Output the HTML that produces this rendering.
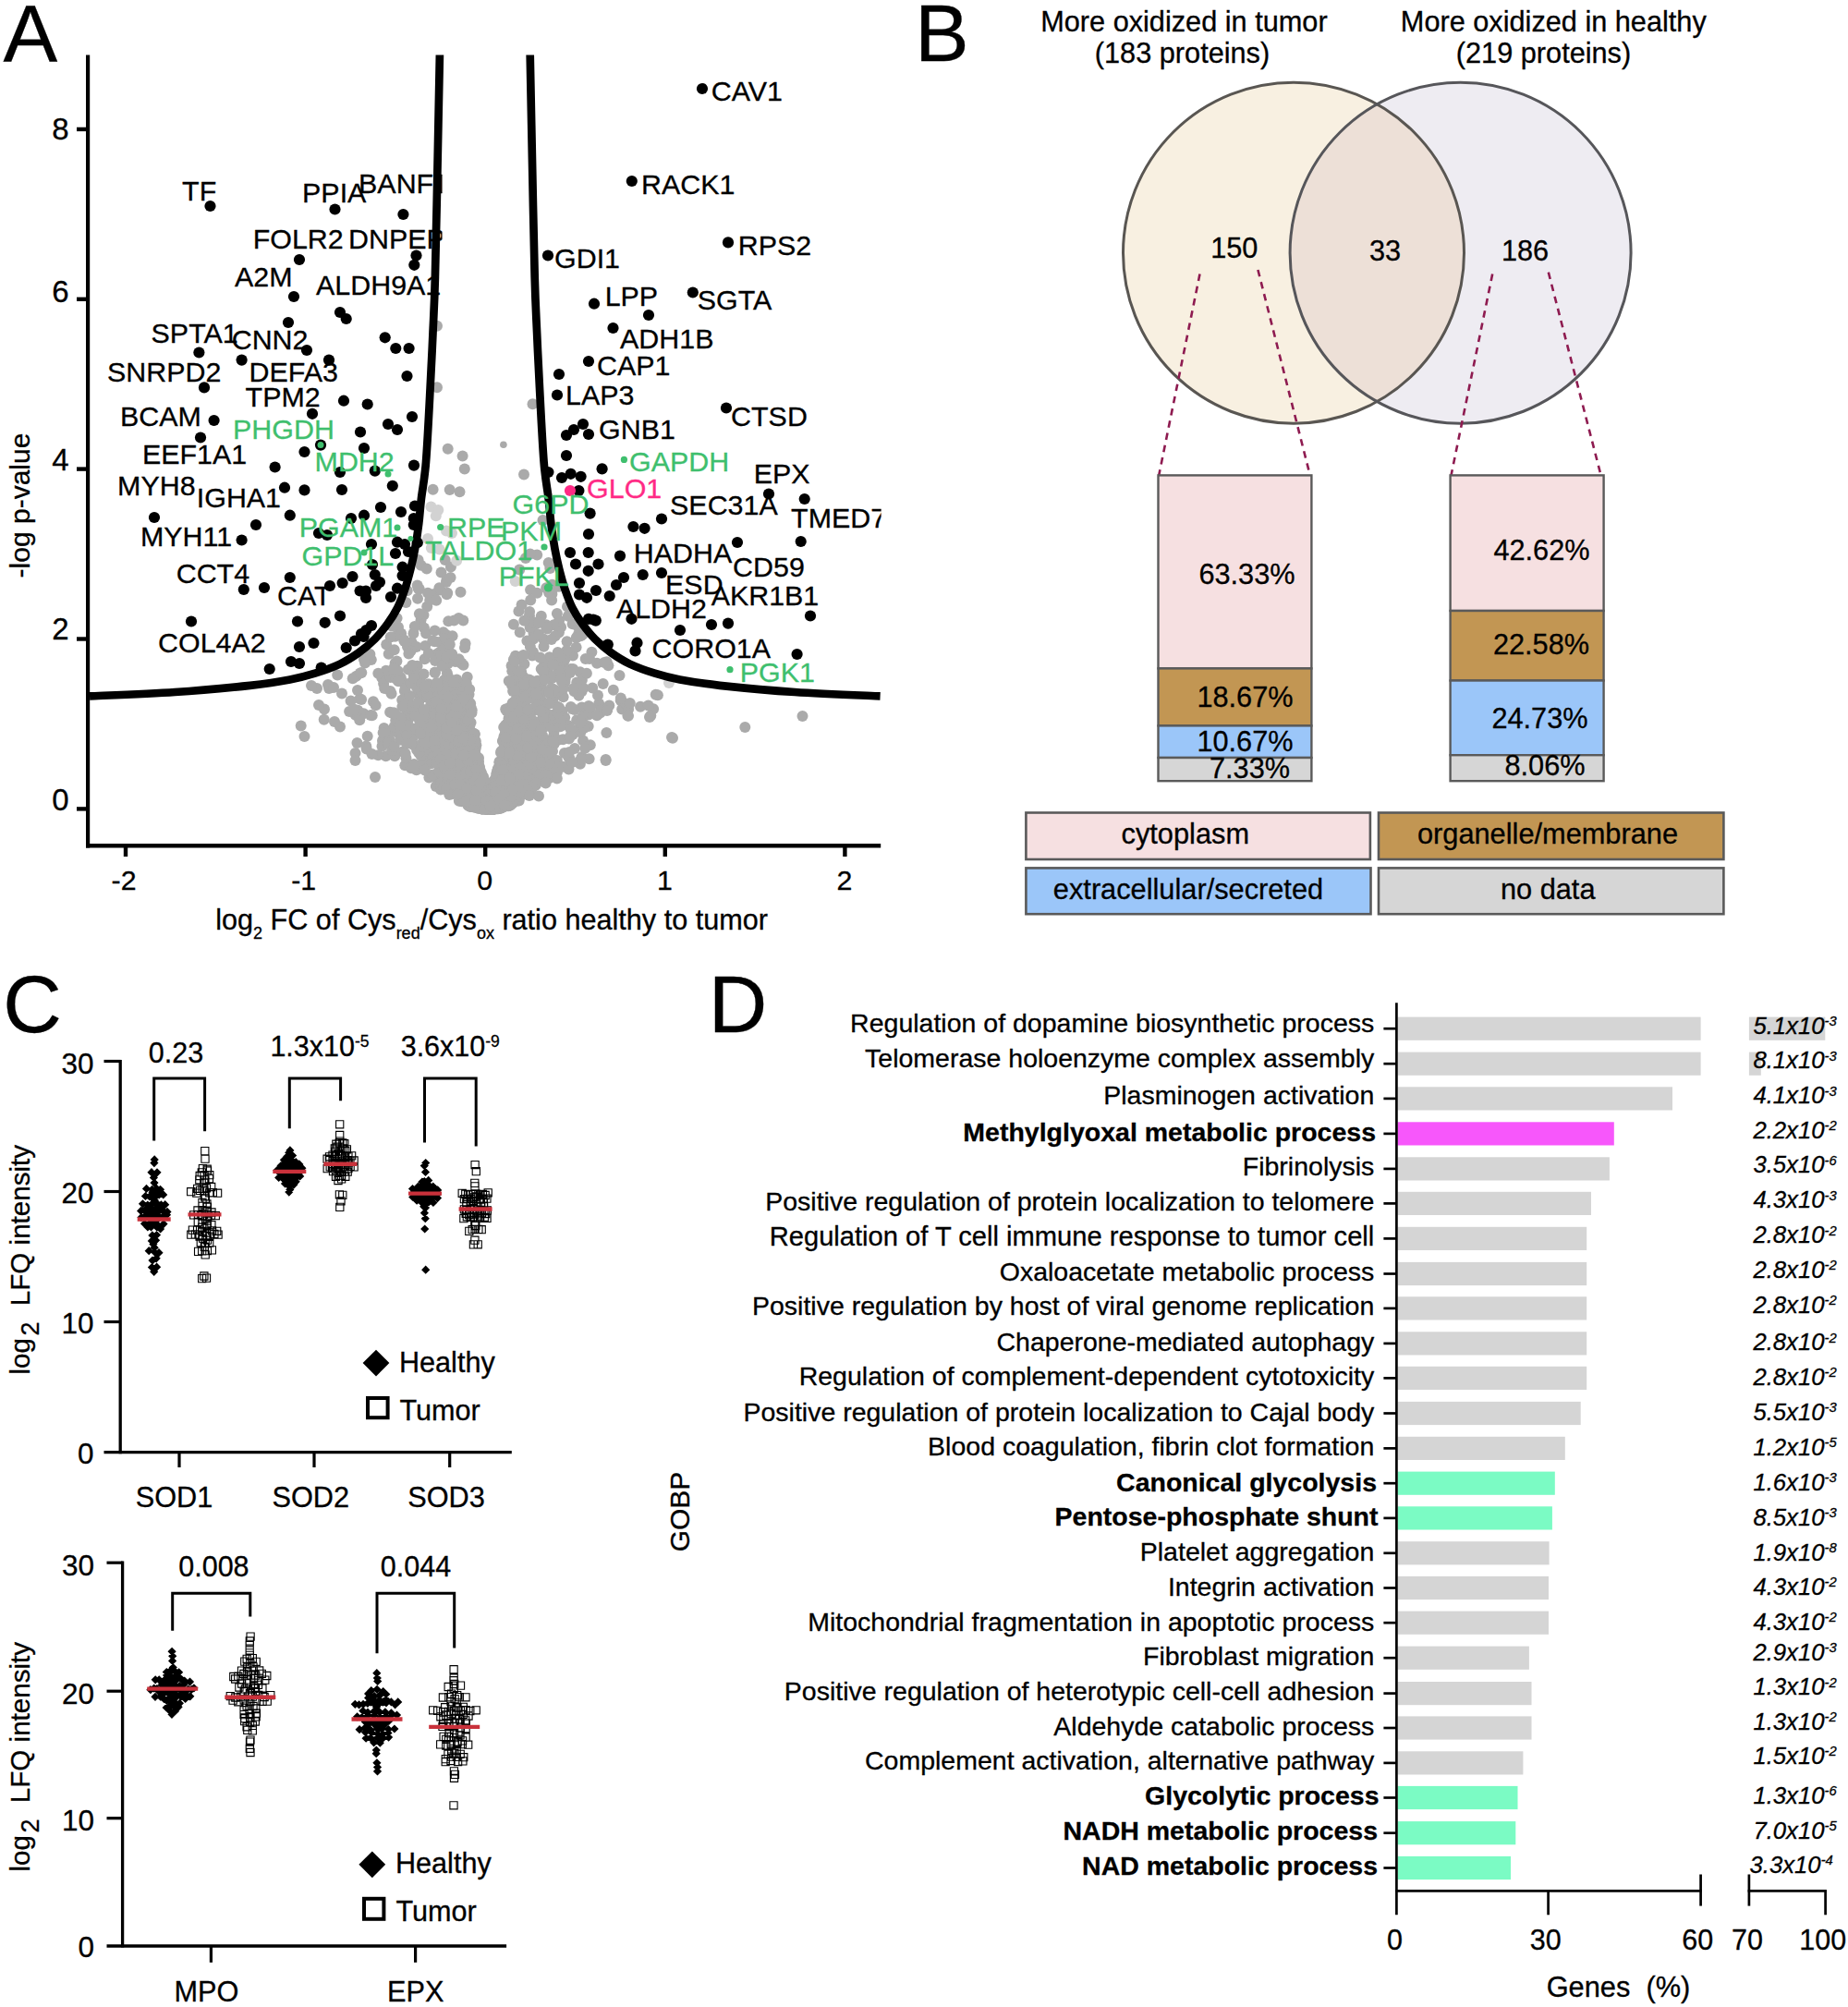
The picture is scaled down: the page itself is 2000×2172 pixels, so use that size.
<!DOCTYPE html>
<html lang="en"><head><meta charset="utf-8"><title>Figure</title>
<style>
html,body{margin:0;padding:0;background:#fff}
svg{display:block}
svg text{font-family:'Liberation Sans', Arial, Helvetica, sans-serif;fill:currentColor;stroke:currentColor;stroke-width:0.3px;}
</style></head>
<body>
<svg width="2000" height="2172" viewBox="0 0 2000 2172">
<rect width="2000" height="2172" fill="#fff"/>
<text x="3.5" y="67.3" font-size="88">A</text>
<g fill="#aaaaaa">
<circle cx="545.5" cy="845.6" r="6"/>
<circle cx="499.7" cy="808.9" r="6"/>
<circle cx="567.0" cy="789.3" r="6"/>
<circle cx="581.5" cy="797.7" r="6"/>
<circle cx="548.1" cy="853.8" r="6"/>
<circle cx="564.2" cy="845.9" r="6"/>
<circle cx="520.1" cy="848.7" r="6"/>
<circle cx="547.0" cy="844.8" r="6"/>
<circle cx="544.2" cy="853.9" r="6"/>
<circle cx="594.3" cy="842.1" r="6"/>
<circle cx="509.8" cy="827.0" r="6"/>
<circle cx="532.4" cy="870.8" r="6"/>
<circle cx="504.9" cy="850.2" r="6"/>
<circle cx="563.5" cy="776.5" r="6"/>
<circle cx="538.5" cy="863.2" r="6"/>
<circle cx="544.5" cy="873.6" r="6"/>
<circle cx="517.6" cy="870.8" r="6"/>
<circle cx="510.1" cy="873.0" r="6"/>
<circle cx="572.6" cy="833.0" r="6"/>
<circle cx="629.5" cy="748.2" r="6"/>
<circle cx="522.0" cy="870.1" r="6"/>
<circle cx="494.2" cy="837.8" r="6"/>
<circle cx="512.2" cy="805.0" r="6"/>
<circle cx="565.2" cy="768.1" r="6"/>
<circle cx="544.9" cy="863.5" r="6"/>
<circle cx="424.1" cy="677.6" r="6"/>
<circle cx="493.8" cy="827.3" r="6"/>
<circle cx="548.2" cy="804.0" r="6"/>
<circle cx="543.7" cy="868.1" r="6"/>
<circle cx="610.0" cy="726.3" r="6"/>
<circle cx="560.4" cy="845.0" r="6"/>
<circle cx="548.1" cy="769.0" r="6"/>
<circle cx="561.0" cy="844.2" r="6"/>
<circle cx="551.3" cy="817.5" r="6"/>
<circle cx="564.5" cy="799.5" r="6"/>
<circle cx="556.9" cy="723.9" r="6"/>
<circle cx="524.2" cy="868.5" r="6"/>
<circle cx="547.8" cy="870.1" r="6"/>
<circle cx="523.9" cy="852.5" r="6"/>
<circle cx="494.7" cy="813.8" r="6"/>
<circle cx="631.3" cy="744.7" r="6"/>
<circle cx="488.8" cy="756.3" r="6"/>
<circle cx="521.1" cy="868.6" r="6"/>
<circle cx="434.4" cy="798.7" r="6"/>
<circle cx="422.1" cy="770.7" r="6"/>
<circle cx="544.8" cy="836.2" r="6"/>
<circle cx="553.0" cy="857.1" r="6"/>
<circle cx="553.5" cy="840.7" r="6"/>
<circle cx="555.6" cy="840.9" r="6"/>
<circle cx="568.4" cy="841.4" r="6"/>
<circle cx="507.3" cy="851.6" r="6"/>
<circle cx="564.7" cy="809.5" r="6"/>
<circle cx="551.7" cy="854.4" r="6"/>
<circle cx="537.2" cy="863.3" r="6"/>
<circle cx="513.1" cy="851.3" r="6"/>
<circle cx="512.3" cy="844.8" r="6"/>
<circle cx="502.4" cy="842.3" r="6"/>
<circle cx="511.0" cy="873.0" r="6"/>
<circle cx="516.1" cy="862.5" r="6"/>
<circle cx="543.6" cy="850.1" r="6"/>
<circle cx="524.0" cy="867.9" r="6"/>
<circle cx="613.6" cy="694.2" r="6"/>
<circle cx="511.1" cy="866.6" r="6"/>
<circle cx="502.4" cy="829.1" r="6"/>
<circle cx="529.5" cy="870.9" r="6"/>
<circle cx="531.0" cy="868.9" r="6"/>
<circle cx="515.4" cy="848.9" r="6"/>
<circle cx="556.2" cy="834.3" r="6"/>
<circle cx="595.6" cy="761.3" r="6"/>
<circle cx="415.6" cy="788.0" r="6"/>
<circle cx="533.4" cy="866.5" r="6"/>
<circle cx="494.0" cy="782.8" r="6"/>
<circle cx="451.6" cy="720.8" r="6"/>
<circle cx="533.9" cy="871.8" r="6"/>
<circle cx="548.2" cy="817.9" r="6"/>
<circle cx="545.0" cy="837.4" r="6"/>
<circle cx="540.0" cy="862.9" r="6"/>
<circle cx="509.9" cy="844.4" r="6"/>
<circle cx="507.4" cy="823.7" r="6"/>
<circle cx="549.8" cy="868.0" r="6"/>
<circle cx="497.0" cy="828.6" r="6"/>
<circle cx="549.7" cy="804.2" r="6"/>
<circle cx="567.6" cy="767.3" r="6"/>
<circle cx="539.1" cy="866.7" r="6"/>
<circle cx="553.8" cy="829.1" r="6"/>
<circle cx="516.6" cy="853.4" r="6"/>
<circle cx="565.1" cy="822.5" r="6"/>
<circle cx="493.1" cy="769.5" r="6"/>
<circle cx="570.5" cy="815.7" r="6"/>
<circle cx="556.8" cy="798.8" r="6"/>
<circle cx="497.1" cy="779.8" r="6"/>
<circle cx="564.9" cy="794.1" r="6"/>
<circle cx="531.7" cy="874.2" r="6"/>
<circle cx="501.5" cy="839.8" r="6"/>
<circle cx="491.3" cy="818.4" r="6"/>
<circle cx="488.9" cy="771.1" r="6"/>
<circle cx="528.1" cy="871.1" r="6"/>
<circle cx="520.1" cy="861.2" r="6"/>
<circle cx="387.3" cy="768.8" r="6"/>
<circle cx="512.9" cy="869.1" r="6"/>
<circle cx="533.2" cy="847.8" r="6"/>
<circle cx="509.0" cy="854.4" r="6"/>
<circle cx="536.6" cy="863.7" r="6"/>
<circle cx="576.0" cy="709.5" r="6"/>
<circle cx="576.4" cy="769.4" r="6"/>
<circle cx="450.7" cy="833.2" r="6"/>
<circle cx="545.6" cy="854.4" r="6"/>
<circle cx="534.7" cy="874.9" r="6"/>
<circle cx="494.3" cy="735.5" r="6"/>
<circle cx="509.4" cy="856.8" r="6"/>
<circle cx="549.8" cy="768.0" r="6"/>
<circle cx="602.1" cy="831.3" r="6"/>
<circle cx="563.4" cy="805.5" r="6"/>
<circle cx="538.8" cy="860.3" r="6"/>
<circle cx="538.0" cy="846.2" r="6"/>
<circle cx="492.7" cy="833.2" r="6"/>
<circle cx="649.5" cy="771.5" r="6"/>
<circle cx="522.4" cy="867.0" r="6"/>
<circle cx="560.1" cy="776.7" r="6"/>
<circle cx="542.4" cy="874.6" r="6"/>
<circle cx="551.3" cy="837.0" r="6"/>
<circle cx="576.0" cy="851.6" r="6"/>
<circle cx="548.4" cy="858.4" r="6"/>
<circle cx="518.5" cy="833.3" r="6"/>
<circle cx="534.2" cy="866.7" r="6"/>
<circle cx="574.1" cy="638.3" r="6"/>
<circle cx="441.4" cy="779.7" r="6"/>
<circle cx="557.9" cy="709.7" r="6"/>
<circle cx="473.5" cy="814.6" r="6"/>
<circle cx="533.6" cy="873.1" r="6"/>
<circle cx="530.8" cy="869.9" r="6"/>
<circle cx="560.5" cy="835.7" r="6"/>
<circle cx="554.3" cy="822.5" r="6"/>
<circle cx="496.3" cy="819.0" r="6"/>
<circle cx="528.0" cy="875.9" r="6"/>
<circle cx="530.8" cy="875.9" r="6"/>
<circle cx="503.7" cy="865.6" r="6"/>
<circle cx="599.9" cy="746.6" r="6"/>
<circle cx="445.6" cy="794.6" r="6"/>
<circle cx="553.0" cy="845.9" r="6"/>
<circle cx="538.2" cy="872.9" r="6"/>
<circle cx="557.4" cy="823.9" r="6"/>
<circle cx="518.2" cy="833.1" r="6"/>
<circle cx="527.1" cy="866.2" r="6"/>
<circle cx="541.7" cy="861.2" r="6"/>
<circle cx="537.6" cy="864.8" r="6"/>
<circle cx="399.6" cy="710.4" r="6"/>
<circle cx="507.6" cy="829.2" r="6"/>
<circle cx="562.3" cy="818.5" r="6"/>
<circle cx="526.2" cy="868.7" r="6"/>
<circle cx="510.6" cy="829.0" r="6"/>
<circle cx="557.7" cy="817.7" r="6"/>
<circle cx="528.7" cy="874.6" r="6"/>
<circle cx="547.0" cy="824.4" r="6"/>
<circle cx="527.9" cy="875.4" r="6"/>
<circle cx="532.6" cy="874.1" r="6"/>
<circle cx="542.9" cy="867.3" r="6"/>
<circle cx="548.1" cy="868.9" r="6"/>
<circle cx="518.9" cy="859.7" r="6"/>
<circle cx="541.5" cy="828.7" r="6"/>
<circle cx="495.6" cy="762.7" r="6"/>
<circle cx="619.5" cy="767.3" r="6"/>
<circle cx="530.1" cy="863.8" r="6"/>
<circle cx="506.9" cy="782.9" r="6"/>
<circle cx="503.2" cy="845.9" r="6"/>
<circle cx="561.2" cy="809.9" r="6"/>
<circle cx="537.2" cy="837.8" r="6"/>
<circle cx="453.1" cy="807.3" r="6"/>
<circle cx="506.9" cy="832.4" r="6"/>
<circle cx="531.8" cy="870.9" r="6"/>
<circle cx="561.1" cy="834.1" r="6"/>
<circle cx="510.2" cy="804.3" r="6"/>
<circle cx="515.4" cy="847.2" r="6"/>
<circle cx="533.5" cy="874.2" r="6"/>
<circle cx="502.7" cy="749.4" r="6"/>
<circle cx="576.7" cy="740.6" r="6"/>
<circle cx="533.5" cy="875.7" r="6"/>
<circle cx="585.7" cy="724.1" r="6"/>
<circle cx="610.2" cy="728.9" r="6"/>
<circle cx="507.5" cy="867.1" r="6"/>
<circle cx="486.3" cy="831.2" r="6"/>
<circle cx="513.7" cy="794.6" r="6"/>
<circle cx="540.8" cy="846.5" r="6"/>
<circle cx="591.5" cy="718.2" r="6"/>
<circle cx="565.4" cy="776.6" r="6"/>
<circle cx="528.6" cy="874.6" r="6"/>
<circle cx="473.9" cy="843.9" r="6"/>
<circle cx="566.6" cy="783.0" r="6"/>
<circle cx="546.7" cy="863.1" r="6"/>
<circle cx="610.9" cy="815.1" r="6"/>
<circle cx="508.0" cy="872.4" r="6"/>
<circle cx="490.3" cy="825.9" r="6"/>
<circle cx="559.1" cy="838.5" r="6"/>
<circle cx="589.8" cy="769.2" r="6"/>
<circle cx="588.2" cy="807.1" r="6"/>
<circle cx="525.9" cy="868.2" r="6"/>
<circle cx="552.7" cy="781.2" r="6"/>
<circle cx="551.5" cy="863.0" r="6"/>
<circle cx="536.4" cy="875.0" r="6"/>
<circle cx="527.2" cy="867.1" r="6"/>
<circle cx="550.0" cy="828.3" r="6"/>
<circle cx="527.4" cy="873.6" r="6"/>
<circle cx="469.7" cy="642.9" r="6"/>
<circle cx="560.5" cy="808.4" r="6"/>
<circle cx="515.1" cy="846.2" r="6"/>
<circle cx="551.2" cy="850.6" r="6"/>
<circle cx="493.9" cy="829.8" r="6"/>
<circle cx="510.7" cy="860.0" r="6"/>
<circle cx="563.7" cy="856.3" r="6"/>
<circle cx="464.4" cy="841.5" r="6"/>
<circle cx="549.5" cy="781.9" r="6"/>
<circle cx="524.1" cy="873.1" r="6"/>
<circle cx="490.2" cy="792.0" r="6"/>
<circle cx="472.8" cy="748.5" r="6"/>
<circle cx="544.0" cy="859.4" r="6"/>
<circle cx="499.0" cy="811.5" r="6"/>
<circle cx="514.3" cy="847.5" r="6"/>
<circle cx="517.4" cy="870.3" r="6"/>
<circle cx="505.8" cy="808.1" r="6"/>
<circle cx="542.2" cy="860.2" r="6"/>
<circle cx="535.1" cy="875.3" r="6"/>
<circle cx="557.0" cy="846.2" r="6"/>
<circle cx="562.2" cy="837.0" r="6"/>
<circle cx="577.4" cy="767.1" r="6"/>
<circle cx="437.6" cy="792.6" r="6"/>
<circle cx="538.9" cy="843.5" r="6"/>
<circle cx="525.4" cy="866.4" r="6"/>
<circle cx="583.8" cy="817.6" r="6"/>
<circle cx="505.3" cy="746.9" r="6"/>
<circle cx="562.7" cy="823.6" r="6"/>
<circle cx="568.6" cy="800.5" r="6"/>
<circle cx="605.6" cy="781.4" r="6"/>
<circle cx="533.1" cy="862.7" r="6"/>
<circle cx="472.2" cy="649.8" r="6"/>
<circle cx="541.6" cy="864.5" r="6"/>
<circle cx="594.1" cy="714.1" r="6"/>
<circle cx="567.4" cy="718.4" r="6"/>
<circle cx="550.5" cy="847.8" r="6"/>
<circle cx="458.2" cy="803.1" r="6"/>
<circle cx="482.4" cy="750.8" r="6"/>
<circle cx="483.9" cy="790.6" r="6"/>
<circle cx="527.9" cy="871.6" r="6"/>
<circle cx="560.7" cy="771.5" r="6"/>
<circle cx="529.5" cy="867.3" r="6"/>
<circle cx="583.8" cy="750.7" r="6"/>
<circle cx="517.6" cy="849.1" r="6"/>
<circle cx="483.3" cy="815.8" r="6"/>
<circle cx="547.0" cy="864.4" r="6"/>
<circle cx="514.8" cy="873.3" r="6"/>
<circle cx="577.3" cy="817.1" r="6"/>
<circle cx="539.1" cy="872.5" r="6"/>
<circle cx="491.0" cy="854.6" r="6"/>
<circle cx="463.8" cy="740.2" r="6"/>
<circle cx="502.9" cy="832.5" r="6"/>
<circle cx="474.3" cy="787.3" r="6"/>
<circle cx="535.3" cy="862.3" r="6"/>
<circle cx="506.3" cy="861.5" r="6"/>
<circle cx="447.7" cy="730.1" r="6"/>
<circle cx="538.5" cy="874.9" r="6"/>
<circle cx="535.5" cy="859.4" r="6"/>
<circle cx="606.9" cy="715.9" r="6"/>
<circle cx="531.7" cy="875.1" r="6"/>
<circle cx="439.0" cy="774.5" r="6"/>
<circle cx="574.1" cy="821.9" r="6"/>
<circle cx="547.8" cy="862.7" r="6"/>
<circle cx="610.2" cy="715.8" r="6"/>
<circle cx="502.6" cy="855.1" r="6"/>
<circle cx="510.9" cy="855.3" r="6"/>
<circle cx="525.5" cy="875.6" r="6"/>
<circle cx="505.5" cy="817.9" r="6"/>
<circle cx="546.0" cy="835.5" r="6"/>
<circle cx="530.8" cy="867.3" r="6"/>
<circle cx="528.3" cy="869.0" r="6"/>
<circle cx="488.7" cy="784.6" r="6"/>
<circle cx="569.8" cy="848.9" r="6"/>
<circle cx="545.4" cy="857.1" r="6"/>
<circle cx="570.2" cy="857.8" r="6"/>
<circle cx="507.9" cy="868.5" r="6"/>
<circle cx="528.2" cy="874.5" r="6"/>
<circle cx="540.2" cy="872.2" r="6"/>
<circle cx="520.6" cy="874.2" r="6"/>
<circle cx="514.6" cy="844.7" r="6"/>
<circle cx="530.0" cy="875.3" r="6"/>
<circle cx="503.6" cy="696.5" r="6"/>
<circle cx="510.8" cy="870.6" r="6"/>
<circle cx="576.0" cy="807.1" r="6"/>
<circle cx="533.7" cy="875.6" r="6"/>
<circle cx="518.0" cy="861.3" r="6"/>
<circle cx="540.5" cy="825.2" r="6"/>
<circle cx="519.0" cy="830.7" r="6"/>
<circle cx="522.9" cy="853.4" r="6"/>
<circle cx="516.1" cy="853.6" r="6"/>
<circle cx="534.2" cy="875.6" r="6"/>
<circle cx="541.7" cy="861.9" r="6"/>
<circle cx="549.9" cy="852.3" r="6"/>
<circle cx="505.3" cy="861.6" r="6"/>
<circle cx="571.9" cy="798.0" r="6"/>
<circle cx="509.1" cy="798.7" r="6"/>
<circle cx="455.5" cy="671.2" r="6"/>
<circle cx="517.0" cy="851.0" r="6"/>
<circle cx="507.2" cy="813.7" r="6"/>
<circle cx="520.5" cy="873.6" r="6"/>
<circle cx="558.5" cy="826.0" r="6"/>
<circle cx="507.0" cy="852.1" r="6"/>
<circle cx="438.3" cy="828.3" r="6"/>
<circle cx="545.2" cy="844.7" r="6"/>
<circle cx="517.7" cy="874.7" r="6"/>
<circle cx="539.5" cy="863.1" r="6"/>
<circle cx="550.2" cy="847.5" r="6"/>
<circle cx="502.9" cy="754.6" r="6"/>
<circle cx="459.6" cy="827.2" r="6"/>
<circle cx="536.3" cy="852.2" r="6"/>
<circle cx="591.3" cy="818.6" r="6"/>
<circle cx="514.4" cy="847.9" r="6"/>
<circle cx="546.5" cy="864.7" r="6"/>
<circle cx="513.5" cy="816.8" r="6"/>
<circle cx="528.3" cy="868.8" r="6"/>
<circle cx="564.7" cy="857.2" r="6"/>
<circle cx="620.0" cy="709.4" r="6"/>
<circle cx="534.2" cy="870.7" r="6"/>
<circle cx="453.3" cy="759.3" r="6"/>
<circle cx="545.1" cy="846.2" r="6"/>
<circle cx="499.1" cy="805.1" r="6"/>
<circle cx="558.4" cy="817.8" r="6"/>
<circle cx="506.2" cy="862.9" r="6"/>
<circle cx="476.5" cy="705.6" r="6"/>
<circle cx="597.7" cy="806.8" r="6"/>
<circle cx="553.7" cy="844.5" r="6"/>
<circle cx="542.2" cy="870.9" r="6"/>
<circle cx="536.6" cy="850.9" r="6"/>
<circle cx="481.2" cy="826.4" r="6"/>
<circle cx="522.3" cy="868.7" r="6"/>
<circle cx="538.5" cy="855.8" r="6"/>
<circle cx="512.5" cy="833.1" r="6"/>
<circle cx="526.0" cy="875.2" r="6"/>
<circle cx="562.9" cy="851.5" r="6"/>
<circle cx="556.1" cy="834.8" r="6"/>
<circle cx="535.4" cy="867.1" r="6"/>
<circle cx="427.6" cy="717.8" r="6"/>
<circle cx="404.0" cy="759.3" r="6"/>
<circle cx="545.7" cy="808.1" r="6"/>
<circle cx="555.7" cy="867.0" r="6"/>
<circle cx="413.2" cy="733.3" r="6"/>
<circle cx="558.6" cy="835.5" r="6"/>
<circle cx="508.3" cy="854.7" r="6"/>
<circle cx="592.6" cy="724.5" r="6"/>
<circle cx="507.2" cy="867.2" r="6"/>
<circle cx="577.5" cy="685.4" r="6"/>
<circle cx="580.5" cy="801.7" r="6"/>
<circle cx="438.4" cy="762.1" r="6"/>
<circle cx="524.6" cy="856.0" r="6"/>
<circle cx="516.1" cy="844.7" r="6"/>
<circle cx="525.6" cy="865.7" r="6"/>
<circle cx="511.3" cy="822.6" r="6"/>
<circle cx="601.4" cy="711.6" r="6"/>
<circle cx="481.4" cy="792.1" r="6"/>
<circle cx="582.8" cy="799.1" r="6"/>
<circle cx="542.9" cy="858.2" r="6"/>
<circle cx="480.9" cy="788.8" r="6"/>
<circle cx="598.6" cy="756.8" r="6"/>
<circle cx="597.7" cy="751.8" r="6"/>
<circle cx="532.2" cy="865.4" r="6"/>
<circle cx="550.3" cy="853.7" r="6"/>
<circle cx="673.2" cy="767.5" r="6"/>
<circle cx="534.4" cy="862.3" r="6"/>
<circle cx="539.8" cy="869.4" r="6"/>
<circle cx="553.2" cy="812.3" r="6"/>
<circle cx="561.4" cy="857.8" r="6"/>
<circle cx="557.6" cy="759.8" r="6"/>
<circle cx="588.1" cy="691.6" r="6"/>
<circle cx="585.8" cy="809.2" r="6"/>
<circle cx="510.2" cy="858.1" r="6"/>
<circle cx="522.5" cy="870.3" r="6"/>
<circle cx="557.1" cy="843.4" r="6"/>
<circle cx="540.9" cy="847.8" r="6"/>
<circle cx="504.2" cy="847.7" r="6"/>
<circle cx="487.1" cy="767.6" r="6"/>
<circle cx="402.7" cy="774.3" r="6"/>
<circle cx="537.5" cy="856.9" r="6"/>
<circle cx="518.8" cy="873.0" r="6"/>
<circle cx="629.7" cy="765.4" r="6"/>
<circle cx="489.3" cy="792.2" r="6"/>
<circle cx="478.9" cy="840.1" r="6"/>
<circle cx="519.5" cy="859.0" r="6"/>
<circle cx="482.9" cy="687.0" r="6"/>
<circle cx="515.9" cy="825.3" r="6"/>
<circle cx="537.5" cy="873.3" r="6"/>
<circle cx="496.2" cy="822.1" r="6"/>
<circle cx="476.5" cy="638.6" r="6"/>
<circle cx="548.1" cy="847.5" r="6"/>
<circle cx="531.7" cy="867.2" r="6"/>
<circle cx="558.1" cy="827.1" r="6"/>
<circle cx="552.4" cy="865.1" r="6"/>
<circle cx="514.6" cy="856.2" r="6"/>
<circle cx="566.0" cy="731.9" r="6"/>
<circle cx="538.4" cy="874.9" r="6"/>
<circle cx="594.0" cy="820.8" r="6"/>
<circle cx="426.1" cy="771.3" r="6"/>
<circle cx="547.3" cy="849.8" r="6"/>
<circle cx="493.9" cy="816.0" r="6"/>
<circle cx="508.8" cy="833.8" r="6"/>
<circle cx="563.4" cy="739.7" r="6"/>
<circle cx="533.6" cy="875.0" r="6"/>
<circle cx="525.4" cy="865.7" r="6"/>
<circle cx="528.9" cy="874.6" r="6"/>
<circle cx="542.1" cy="852.2" r="6"/>
<circle cx="513.0" cy="826.3" r="6"/>
<circle cx="502.4" cy="750.5" r="6"/>
<circle cx="567.1" cy="824.6" r="6"/>
<circle cx="549.8" cy="859.9" r="6"/>
<circle cx="527.6" cy="874.8" r="6"/>
<circle cx="435.2" cy="757.5" r="6"/>
<circle cx="530.2" cy="856.4" r="6"/>
<circle cx="555.4" cy="840.8" r="6"/>
<circle cx="543.8" cy="864.8" r="6"/>
<circle cx="542.5" cy="813.0" r="6"/>
<circle cx="539.7" cy="869.7" r="6"/>
<circle cx="539.1" cy="831.4" r="6"/>
<circle cx="510.1" cy="870.4" r="6"/>
<circle cx="535.5" cy="872.4" r="6"/>
<circle cx="503.2" cy="806.1" r="6"/>
<circle cx="491.4" cy="856.7" r="6"/>
<circle cx="467.0" cy="823.8" r="6"/>
<circle cx="490.5" cy="755.6" r="6"/>
<circle cx="525.8" cy="868.6" r="6"/>
<circle cx="540.8" cy="832.9" r="6"/>
<circle cx="513.4" cy="865.4" r="6"/>
<circle cx="550.7" cy="835.1" r="6"/>
<circle cx="543.5" cy="848.3" r="6"/>
<circle cx="542.2" cy="872.1" r="6"/>
<circle cx="535.7" cy="868.4" r="6"/>
<circle cx="562.3" cy="853.6" r="6"/>
<circle cx="524.6" cy="874.5" r="6"/>
<circle cx="519.6" cy="845.5" r="6"/>
<circle cx="530.9" cy="863.9" r="6"/>
<circle cx="534.8" cy="850.2" r="6"/>
<circle cx="556.6" cy="848.7" r="6"/>
<circle cx="553.0" cy="843.5" r="6"/>
<circle cx="456.8" cy="771.9" r="6"/>
<circle cx="551.6" cy="850.3" r="6"/>
<circle cx="553.4" cy="863.2" r="6"/>
<circle cx="532.2" cy="871.4" r="6"/>
<circle cx="508.0" cy="865.5" r="6"/>
<circle cx="520.8" cy="866.6" r="6"/>
<circle cx="541.8" cy="842.1" r="6"/>
<circle cx="514.1" cy="856.8" r="6"/>
<circle cx="631.0" cy="801.5" r="6"/>
<circle cx="536.6" cy="873.8" r="6"/>
<circle cx="538.9" cy="871.5" r="6"/>
<circle cx="532.6" cy="872.8" r="6"/>
<circle cx="504.9" cy="809.6" r="6"/>
<circle cx="540.5" cy="854.7" r="6"/>
<circle cx="514.3" cy="861.0" r="6"/>
<circle cx="481.6" cy="847.7" r="6"/>
<circle cx="521.7" cy="859.3" r="6"/>
<circle cx="525.0" cy="858.5" r="6"/>
<circle cx="550.3" cy="821.7" r="6"/>
<circle cx="547.2" cy="767.6" r="6"/>
<circle cx="656.4" cy="793.0" r="6"/>
<circle cx="533.8" cy="870.8" r="6"/>
<circle cx="386.5" cy="804.1" r="6"/>
<circle cx="549.1" cy="843.1" r="6"/>
<circle cx="535.2" cy="859.9" r="6"/>
<circle cx="509.2" cy="827.3" r="6"/>
<circle cx="548.6" cy="845.3" r="6"/>
<circle cx="521.9" cy="874.5" r="6"/>
<circle cx="538.5" cy="835.0" r="6"/>
<circle cx="462.2" cy="656.4" r="6"/>
<circle cx="539.1" cy="873.6" r="6"/>
<circle cx="571.3" cy="743.0" r="6"/>
<circle cx="508.1" cy="847.7" r="6"/>
<circle cx="499.4" cy="841.7" r="6"/>
<circle cx="568.5" cy="825.5" r="6"/>
<circle cx="514.1" cy="849.3" r="6"/>
<circle cx="451.7" cy="633.6" r="6"/>
<circle cx="579.8" cy="849.8" r="6"/>
<circle cx="533.9" cy="862.2" r="6"/>
<circle cx="544.9" cy="861.9" r="6"/>
<circle cx="547.9" cy="865.0" r="6"/>
<circle cx="507.5" cy="751.7" r="6"/>
<circle cx="508.8" cy="843.5" r="6"/>
<circle cx="514.7" cy="837.3" r="6"/>
<circle cx="539.6" cy="842.2" r="6"/>
<circle cx="547.3" cy="865.0" r="6"/>
<circle cx="429.7" cy="781.4" r="6"/>
<circle cx="479.8" cy="684.3" r="6"/>
<circle cx="495.1" cy="767.4" r="6"/>
<circle cx="532.5" cy="863.1" r="6"/>
<circle cx="481.0" cy="735.9" r="6"/>
<circle cx="498.9" cy="858.5" r="6"/>
<circle cx="569.9" cy="796.3" r="6"/>
<circle cx="528.8" cy="854.3" r="6"/>
<circle cx="565.6" cy="840.7" r="6"/>
<circle cx="499.1" cy="749.3" r="6"/>
<circle cx="546.0" cy="826.3" r="6"/>
<circle cx="520.9" cy="873.8" r="6"/>
<circle cx="536.7" cy="848.5" r="6"/>
<circle cx="515.5" cy="873.3" r="6"/>
<circle cx="513.1" cy="863.3" r="6"/>
<circle cx="502.9" cy="747.9" r="6"/>
<circle cx="532.8" cy="869.1" r="6"/>
<circle cx="510.9" cy="853.4" r="6"/>
<circle cx="512.0" cy="845.7" r="6"/>
<circle cx="556.7" cy="826.0" r="6"/>
<circle cx="524.2" cy="869.5" r="6"/>
<circle cx="539.6" cy="845.6" r="6"/>
<circle cx="535.4" cy="872.7" r="6"/>
<circle cx="529.5" cy="870.1" r="6"/>
<circle cx="537.1" cy="869.9" r="6"/>
<circle cx="445.5" cy="695.0" r="6"/>
<circle cx="508.8" cy="817.6" r="6"/>
<circle cx="529.3" cy="861.6" r="6"/>
<circle cx="488.9" cy="780.4" r="6"/>
<circle cx="532.2" cy="849.7" r="6"/>
<circle cx="567.1" cy="777.6" r="6"/>
<circle cx="648.2" cy="761.4" r="6"/>
<circle cx="557.8" cy="733.8" r="6"/>
<circle cx="564.3" cy="805.2" r="6"/>
<circle cx="569.5" cy="795.8" r="6"/>
<circle cx="530.4" cy="872.7" r="6"/>
<circle cx="539.5" cy="874.7" r="6"/>
<circle cx="522.7" cy="869.3" r="6"/>
<circle cx="500.4" cy="741.0" r="6"/>
<circle cx="550.9" cy="865.3" r="6"/>
<circle cx="508.7" cy="843.6" r="6"/>
<circle cx="532.2" cy="868.5" r="6"/>
<circle cx="489.3" cy="851.0" r="6"/>
<circle cx="555.2" cy="849.6" r="6"/>
<circle cx="490.6" cy="810.9" r="6"/>
<circle cx="505.9" cy="839.9" r="6"/>
<circle cx="525.2" cy="860.5" r="6"/>
<circle cx="429.9" cy="791.9" r="6"/>
<circle cx="501.4" cy="841.7" r="6"/>
<circle cx="516.5" cy="873.4" r="6"/>
<circle cx="469.9" cy="816.2" r="6"/>
<circle cx="556.3" cy="828.0" r="6"/>
<circle cx="584.3" cy="812.4" r="6"/>
<circle cx="562.9" cy="853.3" r="6"/>
<circle cx="444.3" cy="773.5" r="6"/>
<circle cx="531.3" cy="872.4" r="6"/>
<circle cx="476.0" cy="807.3" r="6"/>
<circle cx="520.9" cy="841.3" r="6"/>
<circle cx="477.5" cy="619.4" r="6"/>
<circle cx="635.1" cy="770.9" r="6"/>
<circle cx="518.4" cy="868.1" r="6"/>
<circle cx="511.3" cy="805.5" r="6"/>
<circle cx="512.3" cy="855.2" r="6"/>
<circle cx="453.8" cy="637.5" r="6"/>
<circle cx="597.6" cy="731.9" r="6"/>
<circle cx="498.6" cy="835.3" r="6"/>
<circle cx="488.0" cy="827.9" r="6"/>
<circle cx="533.7" cy="866.1" r="6"/>
<circle cx="504.9" cy="805.6" r="6"/>
<circle cx="441.0" cy="699.9" r="6"/>
<circle cx="522.3" cy="846.5" r="6"/>
<circle cx="543.5" cy="832.7" r="6"/>
<circle cx="570.5" cy="781.7" r="6"/>
<circle cx="509.7" cy="864.2" r="6"/>
<circle cx="526.4" cy="857.1" r="6"/>
<circle cx="515.9" cy="827.5" r="6"/>
<circle cx="515.4" cy="861.2" r="6"/>
<circle cx="526.1" cy="871.6" r="6"/>
<circle cx="563.6" cy="818.6" r="6"/>
<circle cx="368.0" cy="786.5" r="6"/>
<circle cx="535.2" cy="844.0" r="6"/>
<circle cx="511.3" cy="812.4" r="6"/>
<circle cx="507.4" cy="790.2" r="6"/>
<circle cx="513.9" cy="815.8" r="6"/>
<circle cx="598.4" cy="748.0" r="6"/>
<circle cx="537.8" cy="850.5" r="6"/>
<circle cx="611.3" cy="713.4" r="6"/>
<circle cx="591.3" cy="772.6" r="6"/>
<circle cx="498.6" cy="771.3" r="6"/>
<circle cx="546.5" cy="860.4" r="6"/>
<circle cx="561.2" cy="817.1" r="6"/>
<circle cx="532.6" cy="852.6" r="6"/>
<circle cx="545.6" cy="859.5" r="6"/>
<circle cx="539.0" cy="870.3" r="6"/>
<circle cx="526.6" cy="868.0" r="6"/>
<circle cx="547.3" cy="814.7" r="6"/>
<circle cx="509.0" cy="799.6" r="6"/>
<circle cx="578.5" cy="784.6" r="6"/>
<circle cx="543.7" cy="869.3" r="6"/>
<circle cx="527.3" cy="875.5" r="6"/>
<circle cx="541.0" cy="852.1" r="6"/>
<circle cx="519.7" cy="854.5" r="6"/>
<circle cx="550.0" cy="872.2" r="6"/>
<circle cx="543.4" cy="860.1" r="6"/>
<circle cx="543.9" cy="802.1" r="6"/>
<circle cx="550.6" cy="777.3" r="6"/>
<circle cx="504.3" cy="861.0" r="6"/>
<circle cx="521.2" cy="858.9" r="6"/>
<circle cx="534.8" cy="867.3" r="6"/>
<circle cx="499.6" cy="740.4" r="6"/>
<circle cx="554.5" cy="852.5" r="6"/>
<circle cx="549.1" cy="826.8" r="6"/>
<circle cx="549.2" cy="812.8" r="6"/>
<circle cx="483.2" cy="806.0" r="6"/>
<circle cx="518.2" cy="863.0" r="6"/>
<circle cx="487.5" cy="811.0" r="6"/>
<circle cx="504.1" cy="789.2" r="6"/>
<circle cx="542.3" cy="847.4" r="6"/>
<circle cx="471.2" cy="771.3" r="6"/>
<circle cx="551.7" cy="857.3" r="6"/>
<circle cx="539.2" cy="852.1" r="6"/>
<circle cx="460.3" cy="781.1" r="6"/>
<circle cx="559.5" cy="803.0" r="6"/>
<circle cx="490.5" cy="836.4" r="6"/>
<circle cx="555.1" cy="748.0" r="6"/>
<circle cx="529.7" cy="875.4" r="6"/>
<circle cx="567.6" cy="796.8" r="6"/>
<circle cx="515.4" cy="806.5" r="6"/>
<circle cx="529.0" cy="866.3" r="6"/>
<circle cx="542.0" cy="814.4" r="6"/>
<circle cx="537.2" cy="860.4" r="6"/>
<circle cx="452.7" cy="750.6" r="6"/>
<circle cx="503.4" cy="848.1" r="6"/>
<circle cx="535.0" cy="866.0" r="6"/>
<circle cx="586.6" cy="759.0" r="6"/>
<circle cx="500.6" cy="801.0" r="6"/>
<circle cx="561.8" cy="827.1" r="6"/>
<circle cx="460.2" cy="699.0" r="6"/>
<circle cx="538.6" cy="870.7" r="6"/>
<circle cx="544.0" cy="869.0" r="6"/>
<circle cx="393.5" cy="772.3" r="6"/>
<circle cx="521.1" cy="868.2" r="6"/>
<circle cx="541.3" cy="864.4" r="6"/>
<circle cx="500.0" cy="811.4" r="6"/>
<circle cx="517.6" cy="853.5" r="6"/>
<circle cx="508.4" cy="857.9" r="6"/>
<circle cx="505.1" cy="766.3" r="6"/>
<circle cx="598.3" cy="788.3" r="6"/>
<circle cx="554.7" cy="801.4" r="6"/>
<circle cx="539.0" cy="874.3" r="6"/>
<circle cx="503.8" cy="829.5" r="6"/>
<circle cx="526.1" cy="866.2" r="6"/>
<circle cx="472.3" cy="841.6" r="6"/>
<circle cx="541.4" cy="861.3" r="6"/>
<circle cx="546.2" cy="861.1" r="6"/>
<circle cx="545.5" cy="859.5" r="6"/>
<circle cx="518.7" cy="840.2" r="6"/>
<circle cx="536.8" cy="873.2" r="6"/>
<circle cx="501.3" cy="671.6" r="6"/>
<circle cx="504.2" cy="814.4" r="6"/>
<circle cx="561.7" cy="866.5" r="6"/>
<circle cx="533.6" cy="873.6" r="6"/>
<circle cx="564.6" cy="808.8" r="6"/>
<circle cx="384.7" cy="773.7" r="6"/>
<circle cx="520.7" cy="862.0" r="6"/>
<circle cx="503.0" cy="701.1" r="6"/>
<circle cx="540.2" cy="866.2" r="6"/>
<circle cx="506.1" cy="825.6" r="6"/>
<circle cx="514.6" cy="810.3" r="6"/>
<circle cx="561.7" cy="843.1" r="6"/>
<circle cx="497.3" cy="838.5" r="6"/>
<circle cx="551.1" cy="842.3" r="6"/>
<circle cx="518.2" cy="869.3" r="6"/>
<circle cx="563.1" cy="851.5" r="6"/>
<circle cx="385.6" cy="731.8" r="6"/>
<circle cx="579.2" cy="817.9" r="6"/>
<circle cx="693.1" cy="764.7" r="6"/>
<circle cx="455.9" cy="781.7" r="6"/>
<circle cx="539.2" cy="861.8" r="6"/>
<circle cx="519.1" cy="854.5" r="6"/>
<circle cx="540.9" cy="857.6" r="6"/>
<circle cx="551.6" cy="773.9" r="6"/>
<circle cx="528.8" cy="870.8" r="6"/>
<circle cx="562.9" cy="833.9" r="6"/>
<circle cx="489.5" cy="824.8" r="6"/>
<circle cx="585.1" cy="800.5" r="6"/>
<circle cx="572.9" cy="666.2" r="6"/>
<circle cx="627.9" cy="826.7" r="6"/>
<circle cx="509.5" cy="838.7" r="6"/>
<circle cx="535.5" cy="874.4" r="6"/>
<circle cx="555.0" cy="832.5" r="6"/>
<circle cx="541.9" cy="861.5" r="6"/>
<circle cx="499.7" cy="819.2" r="6"/>
<circle cx="531.9" cy="874.8" r="6"/>
<circle cx="530.7" cy="874.1" r="6"/>
<circle cx="469.5" cy="794.8" r="6"/>
<circle cx="578.6" cy="803.4" r="6"/>
<circle cx="505.7" cy="855.5" r="6"/>
<circle cx="553.7" cy="827.9" r="6"/>
<circle cx="507.2" cy="868.1" r="6"/>
<circle cx="531.3" cy="865.6" r="6"/>
<circle cx="533.7" cy="871.0" r="6"/>
<circle cx="510.5" cy="799.7" r="6"/>
<circle cx="464.7" cy="776.0" r="6"/>
<circle cx="543.2" cy="856.6" r="6"/>
<circle cx="524.5" cy="873.1" r="6"/>
<circle cx="489.3" cy="817.8" r="6"/>
<circle cx="401.8" cy="714.1" r="6"/>
<circle cx="535.7" cy="875.5" r="6"/>
<circle cx="534.5" cy="872.8" r="6"/>
<circle cx="486.2" cy="818.3" r="6"/>
<circle cx="572.7" cy="819.2" r="6"/>
<circle cx="515.5" cy="873.4" r="6"/>
<circle cx="511.2" cy="846.0" r="6"/>
<circle cx="475.3" cy="694.9" r="6"/>
<circle cx="492.7" cy="834.0" r="6"/>
<circle cx="497.5" cy="806.7" r="6"/>
<circle cx="526.2" cy="856.4" r="6"/>
<circle cx="516.4" cy="874.1" r="6"/>
<circle cx="540.7" cy="870.9" r="6"/>
<circle cx="555.5" cy="849.5" r="6"/>
<circle cx="572.1" cy="770.0" r="6"/>
<circle cx="535.5" cy="872.9" r="6"/>
<circle cx="514.0" cy="824.6" r="6"/>
<circle cx="539.6" cy="864.5" r="6"/>
<circle cx="520.9" cy="873.0" r="6"/>
<circle cx="582.2" cy="820.1" r="6"/>
<circle cx="531.4" cy="875.7" r="6"/>
<circle cx="429.4" cy="715.6" r="6"/>
<circle cx="544.8" cy="822.9" r="6"/>
<circle cx="521.5" cy="875.3" r="6"/>
<circle cx="545.1" cy="832.8" r="6"/>
<circle cx="469.4" cy="798.2" r="6"/>
<circle cx="535.3" cy="868.4" r="6"/>
<circle cx="565.4" cy="811.7" r="6"/>
<circle cx="586.3" cy="826.9" r="6"/>
<circle cx="418.2" cy="697.5" r="6"/>
<circle cx="572.6" cy="853.6" r="6"/>
<circle cx="533.4" cy="875.7" r="6"/>
<circle cx="551.0" cy="809.3" r="6"/>
<circle cx="560.0" cy="850.1" r="6"/>
<circle cx="594.6" cy="711.3" r="6"/>
<circle cx="569.8" cy="854.1" r="6"/>
<circle cx="504.7" cy="760.0" r="6"/>
<circle cx="389.4" cy="756.2" r="6"/>
<circle cx="556.5" cy="859.5" r="6"/>
<circle cx="522.6" cy="866.7" r="6"/>
<circle cx="476.1" cy="835.7" r="6"/>
<circle cx="522.3" cy="865.8" r="6"/>
<circle cx="505.4" cy="853.1" r="6"/>
<circle cx="516.5" cy="822.6" r="6"/>
<circle cx="484.5" cy="778.1" r="6"/>
<circle cx="546.1" cy="859.5" r="6"/>
<circle cx="562.3" cy="837.7" r="6"/>
<circle cx="535.1" cy="875.1" r="6"/>
<circle cx="501.7" cy="801.5" r="6"/>
<circle cx="517.2" cy="853.9" r="6"/>
<circle cx="494.1" cy="793.2" r="6"/>
<circle cx="517.9" cy="852.8" r="6"/>
<circle cx="538.7" cy="874.3" r="6"/>
<circle cx="526.3" cy="872.3" r="6"/>
<circle cx="485.2" cy="779.5" r="6"/>
<circle cx="552.1" cy="871.5" r="6"/>
<circle cx="539.6" cy="873.9" r="6"/>
<circle cx="526.2" cy="872.0" r="6"/>
<circle cx="629.8" cy="819.1" r="6"/>
<circle cx="525.4" cy="869.5" r="6"/>
<circle cx="521.4" cy="873.9" r="6"/>
<circle cx="506.7" cy="840.5" r="6"/>
<circle cx="488.9" cy="836.7" r="6"/>
<circle cx="415.1" cy="739.7" r="6"/>
<circle cx="526.1" cy="866.8" r="6"/>
<circle cx="499.2" cy="841.0" r="6"/>
<circle cx="663.8" cy="746.7" r="6"/>
<circle cx="523.3" cy="873.8" r="6"/>
<circle cx="563.0" cy="770.8" r="6"/>
<circle cx="480.5" cy="736.7" r="6"/>
<circle cx="592.3" cy="806.5" r="6"/>
<circle cx="512.5" cy="821.7" r="6"/>
<circle cx="433.8" cy="733.2" r="6"/>
<circle cx="523.4" cy="862.0" r="6"/>
<circle cx="517.0" cy="857.7" r="6"/>
<circle cx="600.4" cy="831.4" r="6"/>
<circle cx="516.7" cy="838.8" r="6"/>
<circle cx="544.2" cy="844.3" r="6"/>
<circle cx="580.3" cy="675.3" r="6"/>
<circle cx="460.0" cy="815.6" r="6"/>
<circle cx="678.7" cy="763.1" r="6"/>
<circle cx="576.4" cy="800.4" r="6"/>
<circle cx="539.2" cy="872.2" r="6"/>
<circle cx="525.4" cy="866.7" r="6"/>
<circle cx="523.9" cy="875.3" r="6"/>
<circle cx="499.9" cy="817.6" r="6"/>
<circle cx="422.4" cy="747.9" r="6"/>
<circle cx="501.5" cy="843.1" r="6"/>
<circle cx="547.2" cy="828.8" r="6"/>
<circle cx="527.0" cy="847.1" r="6"/>
<circle cx="506.4" cy="871.6" r="6"/>
<circle cx="555.3" cy="799.1" r="6"/>
<circle cx="501.7" cy="841.9" r="6"/>
<circle cx="471.3" cy="794.6" r="6"/>
<circle cx="673.5" cy="759.3" r="6"/>
<circle cx="485.7" cy="706.6" r="6"/>
<circle cx="506.1" cy="869.7" r="6"/>
<circle cx="524.0" cy="860.1" r="6"/>
<circle cx="535.4" cy="875.0" r="6"/>
<circle cx="465.4" cy="826.6" r="6"/>
<circle cx="568.1" cy="750.7" r="6"/>
<circle cx="566.4" cy="802.3" r="6"/>
<circle cx="531.1" cy="865.8" r="6"/>
<circle cx="519.4" cy="872.0" r="6"/>
<circle cx="378.1" cy="770.1" r="6"/>
<circle cx="544.8" cy="854.4" r="6"/>
<circle cx="517.1" cy="862.4" r="6"/>
<circle cx="556.8" cy="765.8" r="6"/>
<circle cx="514.1" cy="851.3" r="6"/>
<circle cx="626.4" cy="752.7" r="6"/>
<circle cx="547.4" cy="860.8" r="6"/>
<circle cx="574.0" cy="837.8" r="6"/>
<circle cx="526.4" cy="857.7" r="6"/>
<circle cx="499.8" cy="830.4" r="6"/>
<circle cx="497.6" cy="855.5" r="6"/>
<circle cx="551.0" cy="849.6" r="6"/>
<circle cx="514.2" cy="835.8" r="6"/>
<circle cx="545.3" cy="864.6" r="6"/>
<circle cx="553.3" cy="797.1" r="6"/>
<circle cx="510.1" cy="842.5" r="6"/>
<circle cx="557.9" cy="844.0" r="6"/>
<circle cx="423.5" cy="791.6" r="6"/>
<circle cx="566.8" cy="769.0" r="6"/>
<circle cx="511.8" cy="860.5" r="6"/>
<circle cx="488.2" cy="776.0" r="6"/>
<circle cx="548.5" cy="868.3" r="6"/>
<circle cx="477.2" cy="820.3" r="6"/>
<circle cx="497.8" cy="828.7" r="6"/>
<circle cx="571.6" cy="818.2" r="6"/>
<circle cx="568.6" cy="773.9" r="6"/>
<circle cx="585.4" cy="820.0" r="6"/>
<circle cx="545.4" cy="833.1" r="6"/>
<circle cx="543.6" cy="865.5" r="6"/>
<circle cx="537.2" cy="875.0" r="6"/>
<circle cx="554.6" cy="828.7" r="6"/>
<circle cx="557.6" cy="858.6" r="6"/>
<circle cx="518.7" cy="870.1" r="6"/>
<circle cx="592.3" cy="680.4" r="6"/>
<circle cx="577.3" cy="823.5" r="6"/>
<circle cx="422.5" cy="733.0" r="6"/>
<circle cx="570.8" cy="822.8" r="6"/>
<circle cx="495.9" cy="806.0" r="6"/>
<circle cx="529.4" cy="867.1" r="6"/>
<circle cx="544.5" cy="868.2" r="6"/>
<circle cx="615.2" cy="785.2" r="6"/>
<circle cx="605.0" cy="634.8" r="6"/>
<circle cx="517.7" cy="846.3" r="6"/>
<circle cx="579.8" cy="848.4" r="6"/>
<circle cx="584.4" cy="818.1" r="6"/>
<circle cx="525.4" cy="865.2" r="6"/>
<circle cx="514.3" cy="829.5" r="6"/>
<circle cx="527.4" cy="855.4" r="6"/>
<circle cx="550.2" cy="858.6" r="6"/>
<circle cx="519.8" cy="862.9" r="6"/>
<circle cx="516.1" cy="856.1" r="6"/>
<circle cx="559.8" cy="822.4" r="6"/>
<circle cx="538.4" cy="872.3" r="6"/>
<circle cx="501.5" cy="821.8" r="6"/>
<circle cx="542.7" cy="858.4" r="6"/>
<circle cx="509.6" cy="852.9" r="6"/>
<circle cx="500.3" cy="836.2" r="6"/>
<circle cx="551.2" cy="818.8" r="6"/>
<circle cx="499.3" cy="766.2" r="6"/>
<circle cx="605.1" cy="671.4" r="6"/>
<circle cx="555.2" cy="787.5" r="6"/>
<circle cx="555.1" cy="850.0" r="6"/>
<circle cx="524.8" cy="872.8" r="6"/>
<circle cx="540.1" cy="868.6" r="6"/>
<circle cx="517.8" cy="865.4" r="6"/>
<circle cx="566.1" cy="763.8" r="6"/>
<circle cx="640.4" cy="705.7" r="6"/>
<circle cx="518.5" cy="832.3" r="6"/>
<circle cx="569.8" cy="794.2" r="6"/>
<circle cx="503.2" cy="816.9" r="6"/>
<circle cx="532.3" cy="875.4" r="6"/>
<circle cx="573.6" cy="679.1" r="6"/>
<circle cx="514.7" cy="863.3" r="6"/>
<circle cx="548.9" cy="847.5" r="6"/>
<circle cx="565.9" cy="749.7" r="6"/>
<circle cx="559.4" cy="764.1" r="6"/>
<circle cx="446.9" cy="766.4" r="6"/>
<circle cx="553.5" cy="854.4" r="6"/>
<circle cx="707.1" cy="767.3" r="6"/>
<circle cx="483.2" cy="839.7" r="6"/>
<circle cx="456.7" cy="775.1" r="6"/>
<circle cx="528.9" cy="871.2" r="6"/>
<circle cx="481.7" cy="605.9" r="6"/>
<circle cx="570.3" cy="781.7" r="6"/>
<circle cx="652.7" cy="740.0" r="6"/>
<circle cx="537.1" cy="861.9" r="6"/>
<circle cx="509.6" cy="820.2" r="6"/>
<circle cx="530.5" cy="875.9" r="6"/>
<circle cx="537.7" cy="856.5" r="6"/>
<circle cx="500.5" cy="853.6" r="6"/>
<circle cx="559.0" cy="826.8" r="6"/>
<circle cx="536.0" cy="870.9" r="6"/>
<circle cx="510.5" cy="835.9" r="6"/>
<circle cx="593.3" cy="801.5" r="6"/>
<circle cx="564.1" cy="726.8" r="6"/>
<circle cx="524.5" cy="846.0" r="6"/>
<circle cx="451.1" cy="811.4" r="6"/>
<circle cx="517.4" cy="866.3" r="6"/>
<circle cx="559.2" cy="843.1" r="6"/>
<circle cx="569.7" cy="825.6" r="6"/>
<circle cx="557.6" cy="845.9" r="6"/>
<circle cx="529.0" cy="868.1" r="6"/>
<circle cx="503.3" cy="853.8" r="6"/>
<circle cx="537.5" cy="872.9" r="6"/>
<circle cx="503.4" cy="840.8" r="6"/>
<circle cx="514.2" cy="866.5" r="6"/>
<circle cx="552.8" cy="849.1" r="6"/>
<circle cx="493.3" cy="815.3" r="6"/>
<circle cx="555.3" cy="762.1" r="6"/>
<circle cx="532.1" cy="875.6" r="6"/>
<circle cx="565.6" cy="860.0" r="6"/>
<circle cx="546.0" cy="841.9" r="6"/>
<circle cx="629.9" cy="736.0" r="6"/>
<circle cx="437.9" cy="748.1" r="6"/>
<circle cx="548.3" cy="841.4" r="6"/>
<circle cx="508.9" cy="816.0" r="6"/>
<circle cx="440.7" cy="768.5" r="6"/>
<circle cx="534.4" cy="875.0" r="6"/>
<circle cx="520.5" cy="840.8" r="6"/>
<circle cx="561.4" cy="661.4" r="6"/>
<circle cx="509.6" cy="781.9" r="6"/>
<circle cx="550.6" cy="849.1" r="6"/>
<circle cx="521.1" cy="865.8" r="6"/>
<circle cx="547.1" cy="863.4" r="6"/>
<circle cx="535.6" cy="863.4" r="6"/>
<circle cx="568.6" cy="794.9" r="6"/>
<circle cx="524.3" cy="863.4" r="6"/>
<circle cx="575.4" cy="748.2" r="6"/>
<circle cx="521.5" cy="871.3" r="6"/>
<circle cx="465.2" cy="807.8" r="6"/>
<circle cx="535.1" cy="846.9" r="6"/>
<circle cx="562.5" cy="797.6" r="6"/>
<circle cx="522.0" cy="856.2" r="6"/>
<circle cx="508.2" cy="846.7" r="6"/>
<circle cx="481.5" cy="854.0" r="6"/>
<circle cx="500.6" cy="858.0" r="6"/>
<circle cx="508.8" cy="837.8" r="6"/>
<circle cx="567.4" cy="773.6" r="6"/>
<circle cx="500.5" cy="857.8" r="6"/>
<circle cx="500.0" cy="784.7" r="6"/>
<circle cx="601.5" cy="835.7" r="6"/>
<circle cx="501.0" cy="803.6" r="6"/>
<circle cx="592.8" cy="826.1" r="6"/>
<circle cx="550.1" cy="806.9" r="6"/>
<circle cx="540.9" cy="837.4" r="6"/>
<circle cx="545.3" cy="848.2" r="6"/>
<circle cx="472.5" cy="821.2" r="6"/>
<circle cx="657.1" cy="767.9" r="6"/>
<circle cx="543.2" cy="850.2" r="6"/>
<circle cx="484.5" cy="770.7" r="6"/>
<circle cx="548.7" cy="866.3" r="6"/>
<circle cx="582.5" cy="823.1" r="6"/>
<circle cx="519.8" cy="864.9" r="6"/>
<circle cx="447.5" cy="685.5" r="6"/>
<circle cx="437.2" cy="739.3" r="6"/>
<circle cx="524.3" cy="874.9" r="6"/>
<circle cx="535.2" cy="871.4" r="6"/>
<circle cx="493.7" cy="848.1" r="6"/>
<circle cx="503.1" cy="858.7" r="6"/>
<circle cx="527.1" cy="873.3" r="6"/>
<circle cx="568.4" cy="805.6" r="6"/>
<circle cx="542.6" cy="869.7" r="6"/>
<circle cx="503.7" cy="861.2" r="6"/>
<circle cx="462.1" cy="812.1" r="6"/>
<circle cx="467.0" cy="809.3" r="6"/>
<circle cx="414.0" cy="801.4" r="6"/>
<circle cx="621.6" cy="748.3" r="6"/>
<circle cx="560.4" cy="750.1" r="6"/>
<circle cx="489.2" cy="711.2" r="6"/>
<circle cx="569.3" cy="832.7" r="6"/>
<circle cx="515.7" cy="860.3" r="6"/>
<circle cx="473.3" cy="707.4" r="6"/>
<circle cx="577.0" cy="705.8" r="6"/>
<circle cx="491.3" cy="856.9" r="6"/>
<circle cx="579.2" cy="799.5" r="6"/>
<circle cx="462.5" cy="788.1" r="6"/>
<circle cx="548.6" cy="869.3" r="6"/>
<circle cx="572.8" cy="846.2" r="6"/>
<circle cx="574.4" cy="743.2" r="6"/>
<circle cx="545.8" cy="854.8" r="6"/>
<circle cx="514.2" cy="832.6" r="6"/>
<circle cx="523.6" cy="873.4" r="6"/>
<circle cx="529.8" cy="871.9" r="6"/>
<circle cx="633.7" cy="713.0" r="6"/>
<circle cx="502.5" cy="811.7" r="6"/>
<circle cx="537.6" cy="871.7" r="6"/>
<circle cx="551.5" cy="805.9" r="6"/>
<circle cx="546.0" cy="822.0" r="6"/>
<circle cx="560.8" cy="850.4" r="6"/>
<circle cx="528.4" cy="868.0" r="6"/>
<circle cx="446.2" cy="768.6" r="6"/>
<circle cx="496.9" cy="829.4" r="6"/>
<circle cx="603.3" cy="764.8" r="6"/>
<circle cx="527.0" cy="871.0" r="6"/>
<circle cx="562.7" cy="843.5" r="6"/>
<circle cx="507.9" cy="830.3" r="6"/>
<circle cx="569.8" cy="783.2" r="6"/>
<circle cx="576.4" cy="767.5" r="6"/>
<circle cx="536.9" cy="862.1" r="6"/>
<circle cx="520.5" cy="835.6" r="6"/>
<circle cx="512.2" cy="806.7" r="6"/>
<circle cx="520.3" cy="844.2" r="6"/>
<circle cx="475.8" cy="841.2" r="6"/>
<circle cx="508.5" cy="872.2" r="6"/>
<circle cx="510.8" cy="830.6" r="6"/>
<circle cx="528.3" cy="858.7" r="6"/>
<circle cx="466.1" cy="763.4" r="6"/>
<circle cx="532.0" cy="870.5" r="6"/>
<circle cx="513.1" cy="859.0" r="6"/>
<circle cx="530.9" cy="871.5" r="6"/>
<circle cx="493.0" cy="824.2" r="6"/>
<circle cx="537.9" cy="866.9" r="6"/>
<circle cx="555.9" cy="820.1" r="6"/>
<circle cx="486.1" cy="772.7" r="6"/>
<circle cx="513.8" cy="856.8" r="6"/>
<circle cx="544.4" cy="842.7" r="6"/>
<circle cx="512.2" cy="793.5" r="6"/>
<circle cx="599.2" cy="796.4" r="6"/>
<circle cx="562.9" cy="834.9" r="6"/>
<circle cx="541.1" cy="864.9" r="6"/>
<circle cx="511.7" cy="865.9" r="6"/>
<circle cx="531.5" cy="853.8" r="6"/>
<circle cx="519.2" cy="853.8" r="6"/>
<circle cx="527.8" cy="863.5" r="6"/>
<circle cx="546.0" cy="849.6" r="6"/>
<circle cx="609.2" cy="800.2" r="6"/>
<circle cx="541.7" cy="837.8" r="6"/>
<circle cx="564.6" cy="743.6" r="6"/>
<circle cx="507.5" cy="819.5" r="6"/>
<circle cx="504.5" cy="819.7" r="6"/>
<circle cx="563.1" cy="855.8" r="6"/>
<circle cx="501.5" cy="839.4" r="6"/>
<circle cx="516.9" cy="850.4" r="6"/>
<circle cx="574.8" cy="785.0" r="6"/>
<circle cx="538.3" cy="857.5" r="6"/>
<circle cx="510.1" cy="795.8" r="6"/>
<circle cx="544.2" cy="854.2" r="6"/>
<circle cx="526.9" cy="873.7" r="6"/>
<circle cx="481.1" cy="805.2" r="6"/>
<circle cx="514.4" cy="858.6" r="6"/>
<circle cx="508.8" cy="828.7" r="6"/>
<circle cx="519.5" cy="873.9" r="6"/>
<circle cx="479.8" cy="718.2" r="6"/>
<circle cx="493.5" cy="816.9" r="6"/>
<circle cx="515.4" cy="863.8" r="6"/>
<circle cx="533.2" cy="871.6" r="6"/>
<circle cx="534.0" cy="864.6" r="6"/>
<circle cx="544.8" cy="828.9" r="6"/>
<circle cx="525.0" cy="875.1" r="6"/>
<circle cx="545.8" cy="871.4" r="6"/>
<circle cx="498.8" cy="839.1" r="6"/>
<circle cx="508.0" cy="856.6" r="6"/>
<circle cx="499.4" cy="867.3" r="6"/>
<circle cx="539.1" cy="865.4" r="6"/>
<circle cx="558.0" cy="782.8" r="6"/>
<circle cx="507.0" cy="838.5" r="6"/>
<circle cx="478.7" cy="795.7" r="6"/>
<circle cx="570.4" cy="671.8" r="6"/>
<circle cx="615.8" cy="799.6" r="6"/>
<circle cx="577.0" cy="840.7" r="6"/>
<circle cx="624.2" cy="779.2" r="6"/>
<circle cx="431.0" cy="678.8" r="6"/>
<circle cx="637.1" cy="764.0" r="6"/>
<circle cx="540.4" cy="869.9" r="6"/>
<circle cx="568.4" cy="794.8" r="6"/>
<circle cx="556.5" cy="833.0" r="6"/>
<circle cx="471.0" cy="749.3" r="6"/>
<circle cx="587.4" cy="770.5" r="6"/>
<circle cx="656.7" cy="716.2" r="6"/>
<circle cx="498.2" cy="840.5" r="6"/>
<circle cx="559.7" cy="814.0" r="6"/>
<circle cx="564.1" cy="821.6" r="6"/>
<circle cx="452.1" cy="812.0" r="6"/>
<circle cx="481.7" cy="691.1" r="6"/>
<circle cx="546.1" cy="845.1" r="6"/>
<circle cx="555.3" cy="761.8" r="6"/>
<circle cx="513.3" cy="847.8" r="6"/>
<circle cx="555.0" cy="865.1" r="6"/>
<circle cx="569.3" cy="806.6" r="6"/>
<circle cx="574.2" cy="846.6" r="6"/>
<circle cx="509.1" cy="853.7" r="6"/>
<circle cx="471.8" cy="851.1" r="6"/>
<circle cx="542.2" cy="868.5" r="6"/>
<circle cx="547.1" cy="784.7" r="6"/>
<circle cx="545.5" cy="870.0" r="6"/>
<circle cx="543.3" cy="869.9" r="6"/>
<circle cx="540.9" cy="855.7" r="6"/>
<circle cx="524.2" cy="873.9" r="6"/>
<circle cx="514.7" cy="864.5" r="6"/>
<circle cx="486.2" cy="782.0" r="6"/>
<circle cx="563.4" cy="838.2" r="6"/>
<circle cx="516.0" cy="853.0" r="6"/>
<circle cx="502.7" cy="852.1" r="6"/>
<circle cx="532.7" cy="874.3" r="6"/>
<circle cx="547.2" cy="858.7" r="6"/>
<circle cx="524.8" cy="871.4" r="6"/>
<circle cx="492.3" cy="760.7" r="6"/>
<circle cx="516.4" cy="857.1" r="6"/>
<circle cx="441.8" cy="787.1" r="6"/>
<circle cx="535.2" cy="845.1" r="6"/>
<circle cx="464.2" cy="826.2" r="6"/>
<circle cx="503.5" cy="848.6" r="6"/>
<circle cx="528.0" cy="875.9" r="6"/>
<circle cx="517.4" cy="826.4" r="6"/>
<circle cx="537.7" cy="874.1" r="6"/>
<circle cx="650.1" cy="768.8" r="6"/>
<circle cx="572.0" cy="848.5" r="6"/>
<circle cx="458.0" cy="818.7" r="6"/>
<circle cx="530.6" cy="873.9" r="6"/>
<circle cx="455.7" cy="667.4" r="6"/>
<circle cx="535.6" cy="871.9" r="6"/>
<circle cx="486.1" cy="786.9" r="6"/>
<circle cx="508.3" cy="785.8" r="6"/>
<circle cx="456.4" cy="805.9" r="6"/>
<circle cx="458.6" cy="785.9" r="6"/>
<circle cx="517.3" cy="837.4" r="6"/>
<circle cx="519.1" cy="866.4" r="6"/>
<circle cx="556.1" cy="806.7" r="6"/>
<circle cx="513.3" cy="864.9" r="6"/>
<circle cx="546.7" cy="870.9" r="6"/>
<circle cx="389.2" cy="779.2" r="6"/>
<circle cx="468.3" cy="693.5" r="6"/>
<circle cx="537.5" cy="873.9" r="6"/>
<circle cx="477.1" cy="801.7" r="6"/>
<circle cx="502.5" cy="747.1" r="6"/>
<circle cx="401.1" cy="773.9" r="6"/>
<circle cx="554.7" cy="862.2" r="6"/>
<circle cx="537.3" cy="852.5" r="6"/>
<circle cx="542.7" cy="848.9" r="6"/>
<circle cx="428.2" cy="792.0" r="6"/>
<circle cx="559.5" cy="816.4" r="6"/>
<circle cx="611.9" cy="734.1" r="6"/>
<circle cx="488.1" cy="792.5" r="6"/>
<circle cx="548.4" cy="846.1" r="6"/>
<circle cx="611.2" cy="776.5" r="6"/>
<circle cx="550.3" cy="811.9" r="6"/>
<circle cx="568.2" cy="805.8" r="6"/>
<circle cx="552.4" cy="819.0" r="6"/>
<circle cx="530.3" cy="872.4" r="6"/>
<circle cx="553.7" cy="831.1" r="6"/>
<circle cx="525.1" cy="869.3" r="6"/>
<circle cx="607.1" cy="678.8" r="6"/>
<circle cx="591.9" cy="824.1" r="6"/>
<circle cx="498.5" cy="844.9" r="6"/>
<circle cx="483.4" cy="829.4" r="6"/>
<circle cx="556.2" cy="797.3" r="6"/>
<circle cx="480.1" cy="795.1" r="6"/>
<circle cx="513.6" cy="860.7" r="6"/>
<circle cx="500.5" cy="744.9" r="6"/>
<circle cx="550.5" cy="822.5" r="6"/>
<circle cx="548.2" cy="806.2" r="6"/>
<circle cx="497.8" cy="808.1" r="6"/>
<circle cx="506.8" cy="824.1" r="6"/>
<circle cx="600.9" cy="828.5" r="6"/>
<circle cx="548.0" cy="817.8" r="6"/>
<circle cx="527.1" cy="875.4" r="6"/>
<circle cx="514.3" cy="837.7" r="6"/>
<circle cx="479.4" cy="804.3" r="6"/>
<circle cx="575.3" cy="818.6" r="6"/>
<circle cx="499.0" cy="779.5" r="6"/>
<circle cx="556.4" cy="832.7" r="6"/>
<circle cx="517.3" cy="873.1" r="6"/>
<circle cx="556.5" cy="854.7" r="6"/>
<circle cx="525.6" cy="873.0" r="6"/>
<circle cx="546.3" cy="853.9" r="6"/>
<circle cx="571.7" cy="750.6" r="6"/>
<circle cx="507.7" cy="859.3" r="6"/>
<circle cx="492.6" cy="749.6" r="6"/>
<circle cx="526.2" cy="874.2" r="6"/>
<circle cx="568.2" cy="829.2" r="6"/>
<circle cx="538.1" cy="875.3" r="6"/>
<circle cx="536.1" cy="872.7" r="6"/>
<circle cx="602.9" cy="664.1" r="6"/>
<circle cx="519.9" cy="852.8" r="6"/>
<circle cx="500.6" cy="832.6" r="6"/>
<circle cx="567.5" cy="836.1" r="6"/>
<circle cx="535.6" cy="859.1" r="6"/>
<circle cx="491.2" cy="787.3" r="6"/>
<circle cx="491.8" cy="819.1" r="6"/>
<circle cx="529.9" cy="865.1" r="6"/>
<circle cx="482.2" cy="837.3" r="6"/>
<circle cx="483.3" cy="801.3" r="6"/>
<circle cx="501.8" cy="820.4" r="6"/>
<circle cx="534.9" cy="862.2" r="6"/>
<circle cx="575.0" cy="736.9" r="6"/>
<circle cx="465.2" cy="770.8" r="6"/>
<circle cx="588.7" cy="801.9" r="6"/>
<circle cx="517.2" cy="865.6" r="6"/>
<circle cx="512.3" cy="860.3" r="6"/>
<circle cx="564.4" cy="786.8" r="6"/>
<circle cx="532.5" cy="855.6" r="6"/>
<circle cx="495.7" cy="762.7" r="6"/>
<circle cx="552.0" cy="833.7" r="6"/>
<circle cx="509.4" cy="848.1" r="6"/>
<circle cx="542.2" cy="856.1" r="6"/>
<circle cx="542.6" cy="826.1" r="6"/>
<circle cx="515.2" cy="843.9" r="6"/>
<circle cx="628.5" cy="688.2" r="6"/>
<circle cx="525.2" cy="866.0" r="6"/>
<circle cx="516.3" cy="851.3" r="6"/>
<circle cx="554.8" cy="825.7" r="6"/>
<circle cx="535.0" cy="859.2" r="6"/>
<circle cx="525.1" cy="867.8" r="6"/>
<circle cx="554.9" cy="865.3" r="6"/>
<circle cx="571.9" cy="837.1" r="6"/>
<circle cx="521.2" cy="865.1" r="6"/>
<circle cx="522.0" cy="850.0" r="6"/>
<circle cx="546.2" cy="786.7" r="6"/>
<circle cx="529.9" cy="863.8" r="6"/>
<circle cx="483.9" cy="782.4" r="6"/>
<circle cx="502.1" cy="866.4" r="6"/>
<circle cx="484.9" cy="799.5" r="6"/>
<circle cx="542.0" cy="848.9" r="6"/>
<circle cx="597.4" cy="642.9" r="6"/>
<circle cx="500.1" cy="839.3" r="6"/>
<circle cx="452.7" cy="636.9" r="6"/>
<circle cx="509.1" cy="761.2" r="6"/>
<circle cx="503.2" cy="867.0" r="6"/>
<circle cx="555.4" cy="807.1" r="6"/>
<circle cx="594.1" cy="718.4" r="6"/>
<circle cx="627.8" cy="727.3" r="6"/>
<circle cx="539.8" cy="856.0" r="6"/>
<circle cx="470.9" cy="714.9" r="6"/>
<circle cx="504.2" cy="810.1" r="6"/>
<circle cx="560.0" cy="782.2" r="6"/>
<circle cx="582.8" cy="781.2" r="6"/>
<circle cx="586.6" cy="813.1" r="6"/>
<circle cx="489.3" cy="840.0" r="6"/>
<circle cx="516.6" cy="845.6" r="6"/>
<circle cx="396.3" cy="807.5" r="6"/>
<circle cx="616.8" cy="821.4" r="6"/>
<circle cx="538.2" cy="862.1" r="6"/>
<circle cx="504.7" cy="857.2" r="6"/>
<circle cx="562.0" cy="818.6" r="6"/>
<circle cx="569.0" cy="835.7" r="6"/>
<circle cx="532.1" cy="874.0" r="6"/>
<circle cx="544.7" cy="868.5" r="6"/>
<circle cx="614.0" cy="656.4" r="6"/>
<circle cx="450.7" cy="700.0" r="6"/>
<circle cx="471.4" cy="756.2" r="6"/>
<circle cx="549.0" cy="864.9" r="6"/>
<circle cx="562.3" cy="835.2" r="6"/>
<circle cx="493.3" cy="819.1" r="6"/>
<circle cx="539.3" cy="858.4" r="6"/>
<circle cx="511.1" cy="857.0" r="6"/>
<circle cx="523.8" cy="871.7" r="6"/>
<circle cx="582.8" cy="760.0" r="6"/>
<circle cx="517.0" cy="874.5" r="6"/>
<circle cx="509.0" cy="801.9" r="6"/>
<circle cx="492.1" cy="814.8" r="6"/>
<circle cx="563.8" cy="835.7" r="6"/>
<circle cx="476.6" cy="740.0" r="6"/>
<circle cx="569.6" cy="826.3" r="6"/>
<circle cx="555.6" cy="845.4" r="6"/>
<circle cx="529.6" cy="860.2" r="6"/>
<circle cx="584.4" cy="753.9" r="6"/>
<circle cx="517.4" cy="851.0" r="6"/>
<circle cx="506.6" cy="757.8" r="6"/>
<circle cx="510.7" cy="851.5" r="6"/>
<circle cx="559.3" cy="758.8" r="6"/>
<circle cx="494.2" cy="745.0" r="6"/>
<circle cx="647.0" cy="752.6" r="6"/>
<circle cx="417.6" cy="818.2" r="6"/>
<circle cx="458.9" cy="679.5" r="6"/>
<circle cx="465.4" cy="771.1" r="6"/>
<circle cx="546.6" cy="851.1" r="6"/>
<circle cx="585.8" cy="666.8" r="6"/>
<circle cx="542.8" cy="867.0" r="6"/>
<circle cx="499.3" cy="837.3" r="6"/>
<circle cx="548.6" cy="871.2" r="6"/>
<circle cx="458.6" cy="818.7" r="6"/>
<circle cx="497.2" cy="805.1" r="6"/>
<circle cx="444.5" cy="704.5" r="6"/>
<circle cx="483.4" cy="628.0" r="6"/>
<circle cx="482.4" cy="811.1" r="6"/>
<circle cx="592.5" cy="825.5" r="6"/>
<circle cx="488.9" cy="823.3" r="6"/>
<circle cx="513.7" cy="794.2" r="6"/>
<circle cx="523.8" cy="871.5" r="6"/>
<circle cx="584.1" cy="753.0" r="6"/>
<circle cx="434.3" cy="780.4" r="6"/>
<circle cx="478.3" cy="814.6" r="6"/>
<circle cx="546.7" cy="865.1" r="6"/>
<circle cx="457.1" cy="784.7" r="6"/>
<circle cx="543.2" cy="852.5" r="6"/>
<circle cx="391.1" cy="757.1" r="6"/>
<circle cx="534.5" cy="867.0" r="6"/>
<circle cx="521.9" cy="862.0" r="6"/>
<circle cx="536.3" cy="857.5" r="6"/>
<circle cx="547.6" cy="843.2" r="6"/>
<circle cx="547.0" cy="822.7" r="6"/>
<circle cx="554.3" cy="830.4" r="6"/>
<circle cx="603.0" cy="835.4" r="6"/>
<circle cx="531.9" cy="875.8" r="6"/>
<circle cx="531.6" cy="875.7" r="6"/>
<circle cx="504.2" cy="804.9" r="6"/>
<circle cx="599.4" cy="676.2" r="6"/>
<circle cx="521.9" cy="865.8" r="6"/>
<circle cx="511.0" cy="825.0" r="6"/>
<circle cx="506.4" cy="863.0" r="6"/>
<circle cx="513.4" cy="815.4" r="6"/>
<circle cx="465.5" cy="804.7" r="6"/>
<circle cx="533.4" cy="875.4" r="6"/>
<circle cx="558.2" cy="824.2" r="6"/>
<circle cx="511.8" cy="799.5" r="6"/>
<circle cx="521.5" cy="875.3" r="6"/>
<circle cx="517.1" cy="861.9" r="6"/>
<circle cx="551.0" cy="819.7" r="6"/>
<circle cx="507.9" cy="861.5" r="6"/>
<circle cx="547.3" cy="797.4" r="6"/>
<circle cx="511.6" cy="836.3" r="6"/>
<circle cx="506.0" cy="801.1" r="6"/>
<circle cx="575.7" cy="749.2" r="6"/>
<circle cx="542.2" cy="845.8" r="6"/>
<circle cx="476.9" cy="854.5" r="6"/>
<circle cx="548.0" cy="839.9" r="6"/>
<circle cx="527.9" cy="862.9" r="6"/>
<circle cx="587.1" cy="809.1" r="6"/>
<circle cx="508.2" cy="852.5" r="6"/>
<circle cx="529.0" cy="869.8" r="6"/>
<circle cx="559.7" cy="808.0" r="6"/>
<circle cx="543.8" cy="858.0" r="6"/>
<circle cx="512.4" cy="864.1" r="6"/>
<circle cx="572.4" cy="838.5" r="6"/>
<circle cx="544.6" cy="837.9" r="6"/>
<circle cx="552.3" cy="836.8" r="6"/>
<circle cx="466.4" cy="787.1" r="6"/>
<circle cx="529.8" cy="864.2" r="6"/>
<circle cx="484.4" cy="787.7" r="6"/>
<circle cx="520.5" cy="843.6" r="6"/>
<circle cx="495.1" cy="746.4" r="6"/>
<circle cx="439.5" cy="820.5" r="6"/>
<circle cx="509.1" cy="844.2" r="6"/>
<circle cx="522.3" cy="860.7" r="6"/>
<circle cx="502.0" cy="748.6" r="6"/>
<circle cx="528.2" cy="872.5" r="6"/>
<circle cx="571.5" cy="843.7" r="6"/>
<circle cx="505.7" cy="732.8" r="6"/>
<circle cx="574.9" cy="834.2" r="6"/>
<circle cx="441.9" cy="724.5" r="6"/>
<circle cx="505.8" cy="785.6" r="6"/>
<circle cx="487.2" cy="802.7" r="6"/>
<circle cx="468.4" cy="838.5" r="6"/>
<circle cx="544.0" cy="858.8" r="6"/>
<circle cx="516.3" cy="863.5" r="6"/>
<circle cx="567.5" cy="832.4" r="6"/>
<circle cx="548.3" cy="852.4" r="6"/>
<circle cx="504.5" cy="834.8" r="6"/>
<circle cx="544.1" cy="826.7" r="6"/>
<circle cx="591.1" cy="676.2" r="6"/>
<circle cx="434.1" cy="685.4" r="6"/>
<circle cx="609.7" cy="777.4" r="6"/>
<circle cx="482.9" cy="781.6" r="6"/>
<circle cx="386.0" cy="769.7" r="6"/>
<circle cx="461.1" cy="685.6" r="6"/>
<circle cx="499.3" cy="717.5" r="6"/>
<circle cx="614.8" cy="785.4" r="6"/>
<circle cx="489.3" cy="764.3" r="6"/>
<circle cx="534.2" cy="855.5" r="6"/>
<circle cx="534.5" cy="871.1" r="6"/>
<circle cx="541.4" cy="850.9" r="6"/>
<circle cx="487.5" cy="812.5" r="6"/>
<circle cx="518.9" cy="855.6" r="6"/>
<circle cx="563.5" cy="752.5" r="6"/>
<circle cx="551.5" cy="845.2" r="6"/>
<circle cx="548.6" cy="853.8" r="6"/>
<circle cx="577.3" cy="691.6" r="6"/>
<circle cx="558.6" cy="842.8" r="6"/>
<circle cx="511.9" cy="833.6" r="6"/>
<circle cx="558.9" cy="787.0" r="6"/>
<circle cx="613.3" cy="703.9" r="6"/>
<circle cx="626.1" cy="686.2" r="6"/>
<circle cx="470.2" cy="784.1" r="6"/>
<circle cx="573.8" cy="858.0" r="6"/>
<circle cx="516.3" cy="858.6" r="6"/>
<circle cx="506.4" cy="782.5" r="6"/>
<circle cx="513.6" cy="845.4" r="6"/>
<circle cx="554.4" cy="860.0" r="6"/>
<circle cx="533.1" cy="873.6" r="6"/>
<circle cx="542.1" cy="854.6" r="6"/>
<circle cx="515.8" cy="872.4" r="6"/>
<circle cx="507.0" cy="860.9" r="6"/>
<circle cx="544.6" cy="843.1" r="6"/>
<circle cx="561.4" cy="841.8" r="6"/>
<circle cx="532.3" cy="870.6" r="6"/>
<circle cx="560.1" cy="862.4" r="6"/>
<circle cx="523.1" cy="840.7" r="6"/>
<circle cx="598.6" cy="636.5" r="6"/>
<circle cx="510.5" cy="861.5" r="6"/>
<circle cx="559.8" cy="862.3" r="6"/>
<circle cx="507.5" cy="863.1" r="6"/>
<circle cx="563.6" cy="808.5" r="6"/>
<circle cx="603.0" cy="777.7" r="6"/>
<circle cx="532.9" cy="873.8" r="6"/>
<circle cx="472.8" cy="764.8" r="6"/>
<circle cx="564.0" cy="855.5" r="6"/>
<circle cx="550.5" cy="860.9" r="6"/>
<circle cx="611.5" cy="738.1" r="6"/>
<circle cx="489.6" cy="688.2" r="6"/>
<circle cx="546.8" cy="857.9" r="6"/>
<circle cx="521.0" cy="849.1" r="6"/>
<circle cx="498.7" cy="839.0" r="6"/>
<circle cx="518.5" cy="869.5" r="6"/>
<circle cx="544.6" cy="828.1" r="6"/>
<circle cx="537.2" cy="870.1" r="6"/>
<circle cx="521.8" cy="871.2" r="6"/>
<circle cx="428.6" cy="734.6" r="6"/>
<circle cx="541.7" cy="872.7" r="6"/>
<circle cx="548.2" cy="821.7" r="6"/>
<circle cx="457.0" cy="743.3" r="6"/>
<circle cx="507.2" cy="750.7" r="6"/>
<circle cx="544.2" cy="865.5" r="6"/>
<circle cx="496.6" cy="842.8" r="6"/>
<circle cx="561.2" cy="848.7" r="6"/>
<circle cx="529.3" cy="856.2" r="6"/>
<circle cx="523.7" cy="856.9" r="6"/>
<circle cx="510.4" cy="858.2" r="6"/>
<circle cx="497.3" cy="827.2" r="6"/>
<circle cx="545.9" cy="871.5" r="6"/>
<circle cx="497.5" cy="795.6" r="6"/>
<circle cx="524.4" cy="865.2" r="6"/>
<circle cx="570.9" cy="802.8" r="6"/>
<circle cx="437.2" cy="692.6" r="6"/>
<circle cx="505.3" cy="775.8" r="6"/>
<circle cx="552.9" cy="870.8" r="6"/>
<circle cx="539.9" cy="859.5" r="6"/>
<circle cx="596.9" cy="744.7" r="6"/>
<circle cx="477.9" cy="838.4" r="6"/>
<circle cx="534.2" cy="870.6" r="6"/>
<circle cx="517.2" cy="848.7" r="6"/>
<circle cx="552.3" cy="830.4" r="6"/>
<circle cx="598.1" cy="836.8" r="6"/>
<circle cx="628.3" cy="792.4" r="6"/>
<circle cx="370.0" cy="750.5" r="6"/>
<circle cx="520.3" cy="874.6" r="6"/>
<circle cx="503.8" cy="803.7" r="6"/>
<circle cx="528.2" cy="869.9" r="6"/>
<circle cx="561.9" cy="852.1" r="6"/>
<circle cx="646.1" cy="717.7" r="6"/>
<circle cx="604.9" cy="684.4" r="6"/>
<circle cx="543.4" cy="852.3" r="6"/>
<circle cx="603.6" cy="801.0" r="6"/>
<circle cx="576.3" cy="799.4" r="6"/>
<circle cx="533.8" cy="862.0" r="6"/>
<circle cx="606.4" cy="786.2" r="6"/>
<circle cx="540.5" cy="824.3" r="6"/>
<circle cx="502.6" cy="842.5" r="6"/>
<circle cx="599.6" cy="791.4" r="6"/>
<circle cx="507.2" cy="864.1" r="6"/>
<circle cx="574.7" cy="783.7" r="6"/>
<circle cx="458.1" cy="803.1" r="6"/>
<circle cx="504.7" cy="803.4" r="6"/>
<circle cx="478.2" cy="789.7" r="6"/>
<circle cx="559.9" cy="752.9" r="6"/>
<circle cx="543.5" cy="835.7" r="6"/>
<circle cx="441.7" cy="759.5" r="6"/>
<circle cx="561.9" cy="860.6" r="6"/>
<circle cx="537.7" cy="849.7" r="6"/>
<circle cx="500.6" cy="854.8" r="6"/>
<circle cx="528.7" cy="860.6" r="6"/>
<circle cx="528.7" cy="853.6" r="6"/>
<circle cx="435.4" cy="764.7" r="6"/>
<circle cx="448.8" cy="677.9" r="6"/>
<circle cx="521.5" cy="873.1" r="6"/>
<circle cx="519.5" cy="867.2" r="6"/>
<circle cx="503.6" cy="851.7" r="6"/>
<circle cx="426.6" cy="786.6" r="6"/>
<circle cx="530.7" cy="871.4" r="6"/>
<circle cx="513.3" cy="833.2" r="6"/>
<circle cx="546.7" cy="834.5" r="6"/>
<circle cx="475.3" cy="827.7" r="6"/>
<circle cx="548.9" cy="807.2" r="6"/>
<circle cx="569.2" cy="765.3" r="6"/>
<circle cx="538.9" cy="851.8" r="6"/>
<circle cx="564.2" cy="821.5" r="6"/>
<circle cx="524.4" cy="871.5" r="6"/>
<circle cx="593.4" cy="837.0" r="6"/>
<circle cx="537.6" cy="840.4" r="6"/>
<circle cx="520.8" cy="875.2" r="6"/>
<circle cx="536.4" cy="863.7" r="6"/>
<circle cx="549.8" cy="868.3" r="6"/>
<circle cx="505.1" cy="796.5" r="6"/>
<circle cx="502.1" cy="788.2" r="6"/>
<circle cx="503.4" cy="821.4" r="6"/>
<circle cx="545.4" cy="868.8" r="6"/>
<circle cx="544.5" cy="859.5" r="6"/>
<circle cx="511.5" cy="859.6" r="6"/>
<circle cx="504.6" cy="837.0" r="6"/>
<circle cx="461.5" cy="768.5" r="6"/>
<circle cx="431.1" cy="737.2" r="6"/>
<circle cx="439.4" cy="797.8" r="6"/>
<circle cx="557.6" cy="860.4" r="6"/>
<circle cx="455.6" cy="752.4" r="6"/>
<circle cx="542.4" cy="869.1" r="6"/>
<circle cx="637.6" cy="821.3" r="6"/>
<circle cx="425.1" cy="772.1" r="6"/>
<circle cx="539.1" cy="863.8" r="6"/>
<circle cx="414.6" cy="793.1" r="6"/>
<circle cx="483.7" cy="835.2" r="6"/>
<circle cx="535.6" cy="872.7" r="6"/>
<circle cx="556.9" cy="809.4" r="6"/>
<circle cx="520.5" cy="871.5" r="6"/>
<circle cx="497.3" cy="826.9" r="6"/>
<circle cx="550.5" cy="811.2" r="6"/>
<circle cx="557.1" cy="847.4" r="6"/>
<circle cx="499.7" cy="773.5" r="6"/>
<circle cx="544.4" cy="870.8" r="6"/>
<circle cx="571.4" cy="805.2" r="6"/>
<circle cx="552.3" cy="793.8" r="6"/>
<circle cx="596.9" cy="753.3" r="6"/>
<circle cx="545.2" cy="854.9" r="6"/>
<circle cx="551.3" cy="865.9" r="6"/>
<circle cx="518.4" cy="870.8" r="6"/>
<circle cx="579.6" cy="824.2" r="6"/>
<circle cx="559.8" cy="835.2" r="6"/>
<circle cx="566.7" cy="815.6" r="6"/>
<circle cx="509.9" cy="855.9" r="6"/>
<circle cx="604.4" cy="721.5" r="6"/>
<circle cx="575.2" cy="674.1" r="6"/>
<circle cx="583.0" cy="686.4" r="6"/>
<circle cx="456.3" cy="827.7" r="6"/>
<circle cx="563.7" cy="806.2" r="6"/>
<circle cx="544.7" cy="871.2" r="6"/>
<circle cx="540.4" cy="853.9" r="6"/>
<circle cx="519.2" cy="861.1" r="6"/>
<circle cx="506.2" cy="820.7" r="6"/>
<circle cx="546.8" cy="872.5" r="6"/>
<circle cx="520.0" cy="864.6" r="6"/>
<circle cx="528.6" cy="859.6" r="6"/>
<circle cx="481.8" cy="758.6" r="6"/>
<circle cx="513.6" cy="858.3" r="6"/>
<circle cx="458.5" cy="665.6" r="6"/>
<circle cx="554.3" cy="726.2" r="6"/>
<circle cx="559.7" cy="834.5" r="6"/>
<circle cx="540.5" cy="838.0" r="6"/>
<circle cx="550.5" cy="863.5" r="6"/>
<circle cx="522.1" cy="875.5" r="6"/>
<circle cx="545.0" cy="814.7" r="6"/>
<circle cx="545.9" cy="870.1" r="6"/>
<circle cx="506.2" cy="846.0" r="6"/>
<circle cx="503.4" cy="840.3" r="6"/>
<circle cx="558.4" cy="854.9" r="6"/>
<circle cx="556.3" cy="809.9" r="6"/>
<circle cx="558.1" cy="774.3" r="6"/>
<circle cx="548.7" cy="869.1" r="6"/>
<circle cx="671.7" cy="757.9" r="6"/>
<circle cx="539.2" cy="873.4" r="6"/>
<circle cx="520.5" cy="838.9" r="6"/>
<circle cx="630.6" cy="686.8" r="6"/>
<circle cx="569.0" cy="858.6" r="6"/>
<circle cx="528.5" cy="866.7" r="6"/>
<circle cx="537.9" cy="873.1" r="6"/>
<circle cx="513.6" cy="841.7" r="6"/>
<circle cx="447.6" cy="796.8" r="6"/>
<circle cx="524.4" cy="865.1" r="6"/>
<circle cx="594.2" cy="641.4" r="6"/>
<circle cx="539.3" cy="868.6" r="6"/>
<circle cx="556.6" cy="821.4" r="6"/>
<circle cx="477.9" cy="852.3" r="6"/>
<circle cx="553.5" cy="845.6" r="6"/>
<circle cx="528.8" cy="874.0" r="6"/>
<circle cx="381.7" cy="734.3" r="6"/>
<circle cx="574.2" cy="649.4" r="6"/>
<circle cx="535.0" cy="869.0" r="6"/>
<circle cx="471.8" cy="823.3" r="6"/>
<circle cx="609.6" cy="754.3" r="6"/>
<circle cx="557.3" cy="827.4" r="6"/>
<circle cx="550.5" cy="811.2" r="6"/>
<circle cx="516.6" cy="856.7" r="6"/>
<circle cx="505.4" cy="744.1" r="6"/>
<circle cx="529.8" cy="873.9" r="6"/>
<circle cx="529.8" cy="864.0" r="6"/>
<circle cx="546.7" cy="794.0" r="6"/>
<circle cx="498.9" cy="829.6" r="6"/>
<circle cx="557.2" cy="861.6" r="6"/>
<circle cx="491.5" cy="845.4" r="6"/>
<circle cx="435.9" cy="813.5" r="6"/>
<circle cx="538.8" cy="846.9" r="6"/>
<circle cx="562.3" cy="824.5" r="6"/>
<circle cx="527.0" cy="870.1" r="6"/>
<circle cx="594.0" cy="783.0" r="6"/>
<circle cx="599.0" cy="775.8" r="6"/>
<circle cx="501.4" cy="805.6" r="6"/>
<circle cx="482.2" cy="840.8" r="6"/>
<circle cx="527.0" cy="874.9" r="6"/>
<circle cx="480.5" cy="702.3" r="6"/>
<circle cx="537.3" cy="865.8" r="6"/>
<circle cx="504.7" cy="790.1" r="6"/>
<circle cx="617.6" cy="724.1" r="6"/>
<circle cx="553.6" cy="827.8" r="6"/>
<circle cx="461.2" cy="776.5" r="6"/>
<circle cx="395.1" cy="717.5" r="6"/>
<circle cx="527.4" cy="856.6" r="6"/>
<circle cx="516.3" cy="870.0" r="6"/>
<circle cx="539.0" cy="874.0" r="6"/>
<circle cx="594.5" cy="828.5" r="6"/>
<circle cx="538.5" cy="868.5" r="6"/>
<circle cx="539.1" cy="875.2" r="6"/>
<circle cx="585.1" cy="843.6" r="6"/>
<circle cx="516.6" cy="869.9" r="6"/>
<circle cx="532.2" cy="875.1" r="6"/>
<circle cx="553.7" cy="859.9" r="6"/>
<circle cx="507.5" cy="862.5" r="6"/>
<circle cx="451.0" cy="731.3" r="6"/>
<circle cx="554.8" cy="804.2" r="6"/>
<circle cx="534.2" cy="870.1" r="6"/>
<circle cx="428.2" cy="779.8" r="6"/>
<circle cx="561.1" cy="864.1" r="6"/>
<circle cx="508.7" cy="852.0" r="6"/>
<circle cx="507.6" cy="848.3" r="6"/>
<circle cx="498.9" cy="830.3" r="6"/>
<circle cx="597.0" cy="819.9" r="6"/>
<circle cx="527.1" cy="864.9" r="6"/>
<circle cx="621.3" cy="790.2" r="6"/>
<circle cx="540.8" cy="873.9" r="6"/>
<circle cx="540.4" cy="841.0" r="6"/>
<circle cx="518.5" cy="870.4" r="6"/>
<circle cx="572.0" cy="756.0" r="6"/>
<circle cx="492.7" cy="768.2" r="6"/>
<circle cx="504.9" cy="854.0" r="6"/>
<circle cx="532.2" cy="874.1" r="6"/>
<circle cx="606.3" cy="710.4" r="6"/>
<circle cx="443.4" cy="753.0" r="6"/>
<circle cx="476.7" cy="849.6" r="6"/>
<circle cx="521.8" cy="873.0" r="6"/>
<circle cx="529.4" cy="861.5" r="6"/>
<circle cx="594.6" cy="760.7" r="6"/>
<circle cx="628.7" cy="821.6" r="6"/>
<circle cx="537.7" cy="867.8" r="6"/>
<circle cx="517.0" cy="873.5" r="6"/>
<circle cx="540.5" cy="860.0" r="6"/>
<circle cx="546.2" cy="826.1" r="6"/>
<circle cx="585.9" cy="741.9" r="6"/>
<circle cx="566.0" cy="815.6" r="6"/>
<circle cx="533.7" cy="864.2" r="6"/>
<circle cx="483.0" cy="629.9" r="6"/>
<circle cx="607.6" cy="770.4" r="6"/>
<circle cx="553.1" cy="814.7" r="6"/>
<circle cx="496.6" cy="844.4" r="6"/>
<circle cx="553.8" cy="850.5" r="6"/>
<circle cx="533.4" cy="860.2" r="6"/>
<circle cx="525.0" cy="875.6" r="6"/>
<circle cx="569.7" cy="845.4" r="6"/>
<circle cx="602.9" cy="823.1" r="6"/>
<circle cx="526.2" cy="873.1" r="6"/>
<circle cx="545.6" cy="863.7" r="6"/>
<circle cx="548.2" cy="859.7" r="6"/>
<circle cx="624.3" cy="738.5" r="6"/>
<circle cx="541.6" cy="852.9" r="6"/>
<circle cx="555.2" cy="847.1" r="6"/>
<circle cx="589.0" cy="719.4" r="6"/>
<circle cx="379.6" cy="758.6" r="6"/>
<circle cx="496.3" cy="834.2" r="6"/>
<circle cx="485.4" cy="732.9" r="6"/>
<circle cx="521.0" cy="873.4" r="6"/>
<circle cx="636.7" cy="786.0" r="6"/>
<circle cx="548.6" cy="835.5" r="6"/>
<circle cx="573.2" cy="841.4" r="6"/>
<circle cx="491.7" cy="830.7" r="6"/>
<circle cx="620.5" cy="745.2" r="6"/>
<circle cx="542.1" cy="843.4" r="6"/>
<circle cx="587.3" cy="816.5" r="6"/>
<circle cx="564.7" cy="711.1" r="6"/>
<circle cx="459.6" cy="713.2" r="6"/>
<circle cx="543.7" cy="816.8" r="6"/>
<circle cx="564.5" cy="793.8" r="6"/>
<circle cx="537.7" cy="871.3" r="6"/>
<circle cx="546.3" cy="833.7" r="6"/>
<circle cx="541.8" cy="857.7" r="6"/>
<circle cx="350.7" cy="778.7" r="6"/>
<circle cx="608.2" cy="769.8" r="6"/>
<circle cx="549.1" cy="872.1" r="6"/>
<circle cx="519.9" cy="871.4" r="6"/>
<circle cx="584.8" cy="745.4" r="6"/>
<circle cx="550.5" cy="766.2" r="6"/>
<circle cx="589.3" cy="809.2" r="6"/>
<circle cx="563.2" cy="727.3" r="6"/>
<circle cx="560.7" cy="726.6" r="6"/>
<circle cx="393.9" cy="713.6" r="6"/>
<circle cx="473.1" cy="739.6" r="6"/>
<circle cx="527.2" cy="862.5" r="6"/>
<circle cx="510.1" cy="814.3" r="6"/>
<circle cx="535.0" cy="856.2" r="6"/>
<circle cx="501.7" cy="845.9" r="6"/>
<circle cx="570.6" cy="828.8" r="6"/>
<circle cx="623.6" cy="700.6" r="6"/>
<circle cx="536.0" cy="873.3" r="6"/>
<circle cx="595.7" cy="832.3" r="6"/>
<circle cx="580.2" cy="795.6" r="6"/>
<circle cx="545.5" cy="797.1" r="6"/>
<circle cx="501.9" cy="863.2" r="6"/>
<circle cx="498.5" cy="640.7" r="6"/>
<circle cx="515.9" cy="871.7" r="6"/>
<circle cx="465.9" cy="809.0" r="6"/>
<circle cx="590.1" cy="819.5" r="6"/>
<circle cx="470.5" cy="794.9" r="6"/>
<circle cx="542.5" cy="870.9" r="6"/>
<circle cx="541.8" cy="863.1" r="6"/>
<circle cx="555.9" cy="675.7" r="6"/>
<circle cx="513.2" cy="847.4" r="6"/>
<circle cx="497.5" cy="812.3" r="6"/>
<circle cx="514.6" cy="865.0" r="6"/>
<circle cx="577.9" cy="833.2" r="6"/>
<circle cx="430.8" cy="726.3" r="6"/>
<circle cx="545.5" cy="842.2" r="6"/>
<circle cx="512.8" cy="873.5" r="6"/>
<circle cx="574.7" cy="838.2" r="6"/>
<circle cx="556.7" cy="817.1" r="6"/>
<circle cx="505.3" cy="835.6" r="6"/>
<circle cx="517.1" cy="861.6" r="6"/>
<circle cx="499.1" cy="717.7" r="6"/>
<circle cx="552.1" cy="812.6" r="6"/>
<circle cx="547.0" cy="835.3" r="6"/>
<circle cx="519.8" cy="859.1" r="6"/>
<circle cx="603.7" cy="706.0" r="6"/>
<circle cx="549.4" cy="785.1" r="6"/>
<circle cx="566.0" cy="782.8" r="6"/>
<circle cx="553.7" cy="814.4" r="6"/>
<circle cx="549.6" cy="857.0" r="6"/>
<circle cx="516.4" cy="849.0" r="6"/>
<circle cx="447.2" cy="788.4" r="6"/>
<circle cx="533.2" cy="871.7" r="6"/>
<circle cx="559.9" cy="761.5" r="6"/>
<circle cx="501.0" cy="827.3" r="6"/>
<circle cx="574.7" cy="778.4" r="6"/>
<circle cx="597.9" cy="777.5" r="6"/>
<circle cx="500.7" cy="854.8" r="6"/>
<circle cx="523.6" cy="875.5" r="6"/>
<circle cx="591.2" cy="679.3" r="6"/>
<circle cx="532.1" cy="868.6" r="6"/>
<circle cx="540.6" cy="858.3" r="6"/>
<circle cx="456.3" cy="748.2" r="6"/>
<circle cx="580.8" cy="815.4" r="6"/>
<circle cx="562.1" cy="745.1" r="6"/>
<circle cx="555.4" cy="833.4" r="6"/>
<circle cx="576.5" cy="814.7" r="6"/>
<circle cx="514.9" cy="840.7" r="6"/>
<circle cx="561.6" cy="841.6" r="6"/>
<circle cx="560.6" cy="792.3" r="6"/>
<circle cx="583.2" cy="796.8" r="6"/>
<circle cx="500.5" cy="834.4" r="6"/>
<circle cx="508.6" cy="848.7" r="6"/>
<circle cx="539.1" cy="857.3" r="6"/>
<circle cx="539.9" cy="843.9" r="6"/>
<circle cx="505.4" cy="855.9" r="6"/>
<circle cx="658.4" cy="720.3" r="6"/>
<circle cx="537.9" cy="873.6" r="6"/>
<circle cx="514.5" cy="815.8" r="6"/>
<circle cx="598.0" cy="813.0" r="6"/>
<circle cx="507.4" cy="824.5" r="6"/>
<circle cx="462.7" cy="755.0" r="6"/>
<circle cx="502.4" cy="864.1" r="6"/>
<circle cx="571.3" cy="825.6" r="6"/>
<circle cx="423.6" cy="750.8" r="6"/>
<circle cx="515.1" cy="820.9" r="6"/>
<circle cx="564.6" cy="654.5" r="6"/>
<circle cx="524.1" cy="859.3" r="6"/>
<circle cx="602.8" cy="748.8" r="6"/>
<circle cx="546.6" cy="814.7" r="6"/>
<circle cx="480.1" cy="783.7" r="6"/>
<circle cx="470.4" cy="755.1" r="6"/>
<circle cx="453.5" cy="828.4" r="6"/>
<circle cx="621.9" cy="768.0" r="6"/>
<circle cx="505.8" cy="812.9" r="6"/>
<circle cx="485.7" cy="797.3" r="6"/>
<circle cx="534.0" cy="867.2" r="6"/>
<circle cx="547.6" cy="828.7" r="6"/>
<circle cx="555.9" cy="713.8" r="6"/>
<circle cx="516.5" cy="866.1" r="6"/>
<circle cx="615.4" cy="819.8" r="6"/>
<circle cx="585.3" cy="834.7" r="6"/>
<circle cx="602.0" cy="833.8" r="6"/>
<circle cx="559.6" cy="840.8" r="6"/>
<circle cx="506.8" cy="867.7" r="6"/>
<circle cx="351.0" cy="767.4" r="6"/>
<circle cx="577.3" cy="673.3" r="6"/>
<circle cx="480.4" cy="838.8" r="6"/>
<circle cx="453.9" cy="664.2" r="6"/>
<circle cx="547.0" cy="860.5" r="6"/>
<circle cx="487.9" cy="613.6" r="6"/>
<circle cx="534.7" cy="858.1" r="6"/>
<circle cx="532.1" cy="868.6" r="6"/>
<circle cx="538.5" cy="849.8" r="6"/>
<circle cx="598.1" cy="773.7" r="6"/>
<circle cx="396.7" cy="810.6" r="6"/>
<circle cx="536.9" cy="875.2" r="6"/>
<circle cx="519.0" cy="867.5" r="6"/>
<circle cx="549.9" cy="844.9" r="6"/>
<circle cx="629.6" cy="785.4" r="6"/>
<circle cx="521.3" cy="870.6" r="6"/>
<circle cx="538.5" cy="834.2" r="6"/>
<circle cx="522.0" cy="846.3" r="6"/>
<circle cx="520.4" cy="844.8" r="6"/>
<circle cx="444.9" cy="831.3" r="6"/>
<circle cx="479.1" cy="834.3" r="6"/>
<circle cx="548.9" cy="847.6" r="6"/>
<circle cx="531.1" cy="861.8" r="6"/>
<circle cx="522.9" cy="872.9" r="6"/>
<circle cx="438.5" cy="745.3" r="6"/>
<circle cx="475.4" cy="636.2" r="6"/>
<circle cx="512.2" cy="834.4" r="6"/>
<circle cx="515.1" cy="841.5" r="6"/>
<circle cx="433.0" cy="800.8" r="6"/>
<circle cx="437.7" cy="693.9" r="6"/>
<circle cx="513.2" cy="871.7" r="6"/>
<circle cx="532.7" cy="870.8" r="6"/>
<circle cx="654.1" cy="716.9" r="6"/>
<circle cx="534.7" cy="873.3" r="6"/>
<circle cx="581.5" cy="736.7" r="6"/>
<circle cx="554.2" cy="801.4" r="6"/>
<circle cx="510.1" cy="811.5" r="6"/>
<circle cx="539.1" cy="854.1" r="6"/>
<circle cx="510.3" cy="849.3" r="6"/>
<circle cx="568.2" cy="826.4" r="6"/>
<circle cx="518.9" cy="870.4" r="6"/>
<circle cx="479.6" cy="748.9" r="6"/>
<circle cx="576.2" cy="832.9" r="6"/>
<circle cx="504.8" cy="831.8" r="6"/>
<circle cx="509.9" cy="833.4" r="6"/>
<circle cx="553.6" cy="720.5" r="6"/>
<circle cx="508.2" cy="783.0" r="6"/>
<circle cx="561.2" cy="838.3" r="6"/>
<circle cx="483.3" cy="846.8" r="6"/>
<circle cx="507.4" cy="841.9" r="6"/>
<circle cx="569.3" cy="773.6" r="6"/>
<circle cx="522.2" cy="874.4" r="6"/>
<circle cx="510.1" cy="827.2" r="6"/>
<circle cx="600.8" cy="688.3" r="6"/>
<circle cx="561.3" cy="863.7" r="6"/>
<circle cx="542.9" cy="865.4" r="6"/>
<circle cx="531.6" cy="863.0" r="6"/>
<circle cx="510.7" cy="768.6" r="6"/>
<circle cx="561.1" cy="865.0" r="6"/>
<circle cx="510.8" cy="849.0" r="6"/>
<circle cx="509.5" cy="859.4" r="6"/>
<circle cx="494.6" cy="847.6" r="6"/>
<circle cx="543.6" cy="838.5" r="6"/>
<circle cx="469.1" cy="824.8" r="6"/>
<circle cx="489.2" cy="859.3" r="6"/>
<circle cx="543.9" cy="833.6" r="6"/>
<circle cx="570.4" cy="693.6" r="6"/>
<circle cx="569.5" cy="845.1" r="6"/>
<circle cx="501.6" cy="828.1" r="6"/>
<circle cx="551.8" cy="820.6" r="6"/>
<circle cx="446.9" cy="805.7" r="6"/>
<circle cx="541.3" cy="861.8" r="6"/>
<circle cx="532.5" cy="864.9" r="6"/>
<circle cx="417.8" cy="725.8" r="6"/>
<circle cx="514.5" cy="846.1" r="6"/>
<circle cx="492.7" cy="836.4" r="6"/>
<circle cx="550.3" cy="817.7" r="6"/>
<circle cx="599.5" cy="805.3" r="6"/>
<circle cx="501.0" cy="818.7" r="6"/>
<circle cx="551.3" cy="833.4" r="6"/>
<circle cx="554.5" cy="840.2" r="6"/>
<circle cx="508.4" cy="808.4" r="6"/>
<circle cx="477.6" cy="847.4" r="6"/>
<circle cx="427.2" cy="818.3" r="6"/>
<circle cx="550.3" cy="805.0" r="6"/>
<circle cx="512.6" cy="814.8" r="6"/>
<circle cx="468.6" cy="819.6" r="6"/>
<circle cx="524.6" cy="873.3" r="6"/>
<circle cx="512.3" cy="846.3" r="6"/>
<circle cx="449.9" cy="770.3" r="6"/>
<circle cx="483.5" cy="643.3" r="6"/>
<circle cx="521.8" cy="872.4" r="6"/>
<circle cx="566.8" cy="801.1" r="6"/>
<circle cx="569.4" cy="816.8" r="6"/>
<circle cx="524.5" cy="870.0" r="6"/>
<circle cx="409.3" cy="728.7" r="6"/>
<circle cx="543.3" cy="832.9" r="6"/>
<circle cx="561.8" cy="820.3" r="6"/>
<circle cx="526.0" cy="864.3" r="6"/>
<circle cx="537.8" cy="871.8" r="6"/>
<circle cx="521.7" cy="870.0" r="6"/>
<circle cx="619.5" cy="795.2" r="6"/>
<circle cx="548.1" cy="841.8" r="6"/>
<circle cx="559.8" cy="754.2" r="6"/>
<circle cx="513.5" cy="857.5" r="6"/>
<circle cx="486.2" cy="772.7" r="6"/>
<circle cx="557.0" cy="716.0" r="6"/>
<circle cx="551.1" cy="842.5" r="6"/>
<circle cx="450.0" cy="736.3" r="6"/>
<circle cx="543.3" cy="836.0" r="6"/>
<circle cx="516.5" cy="840.5" r="6"/>
<circle cx="549.5" cy="857.1" r="6"/>
<circle cx="538.4" cy="857.2" r="6"/>
<circle cx="533.1" cy="857.8" r="6"/>
<circle cx="572.6" cy="836.6" r="6"/>
<circle cx="525.4" cy="872.7" r="6"/>
<circle cx="492.8" cy="716.0" r="6"/>
<circle cx="543.6" cy="857.0" r="6"/>
<circle cx="536.7" cy="868.0" r="6"/>
<circle cx="562.6" cy="850.5" r="6"/>
<circle cx="481.9" cy="825.0" r="6"/>
<circle cx="536.6" cy="875.0" r="6"/>
<circle cx="556.0" cy="818.4" r="6"/>
<circle cx="455.6" cy="817.8" r="6"/>
<circle cx="540.3" cy="862.3" r="6"/>
<circle cx="564.4" cy="818.6" r="6"/>
<circle cx="543.7" cy="823.7" r="6"/>
<circle cx="617.8" cy="789.5" r="6"/>
<circle cx="520.6" cy="863.7" r="6"/>
<circle cx="470.7" cy="727.4" r="6"/>
<circle cx="522.5" cy="874.0" r="6"/>
<circle cx="521.2" cy="864.0" r="6"/>
<circle cx="529.2" cy="873.6" r="6"/>
<circle cx="543.1" cy="869.2" r="6"/>
<circle cx="549.7" cy="832.4" r="6"/>
<circle cx="508.9" cy="836.9" r="6"/>
<circle cx="494.5" cy="844.3" r="6"/>
<circle cx="576.9" cy="843.7" r="6"/>
<circle cx="563.4" cy="806.2" r="6"/>
<circle cx="490.3" cy="834.2" r="6"/>
<circle cx="504.8" cy="841.5" r="6"/>
<circle cx="493.2" cy="823.8" r="6"/>
<circle cx="448.1" cy="826.9" r="6"/>
<circle cx="526.4" cy="871.5" r="6"/>
<circle cx="503.6" cy="838.1" r="6"/>
<circle cx="555.8" cy="736.8" r="6"/>
<circle cx="532.7" cy="868.3" r="6"/>
<circle cx="529.9" cy="860.0" r="6"/>
<circle cx="508.3" cy="812.8" r="6"/>
<circle cx="440.1" cy="795.5" r="6"/>
<circle cx="503.1" cy="848.9" r="6"/>
<circle cx="542.3" cy="874.4" r="6"/>
<circle cx="501.5" cy="854.8" r="6"/>
<circle cx="441.7" cy="785.6" r="6"/>
<circle cx="568.8" cy="834.8" r="6"/>
<circle cx="562.6" cy="811.7" r="6"/>
<circle cx="573.1" cy="661.9" r="6"/>
<circle cx="429.6" cy="668.9" r="6"/>
<circle cx="504.8" cy="739.8" r="6"/>
<circle cx="513.4" cy="862.0" r="6"/>
<circle cx="514.0" cy="846.0" r="6"/>
<circle cx="529.3" cy="871.7" r="6"/>
<circle cx="454.4" cy="781.0" r="6"/>
<circle cx="480.1" cy="768.1" r="6"/>
<circle cx="562.8" cy="847.4" r="6"/>
<circle cx="584.4" cy="711.5" r="6"/>
<circle cx="481.9" cy="714.9" r="6"/>
<circle cx="538.6" cy="872.0" r="6"/>
<circle cx="513.9" cy="839.8" r="6"/>
<circle cx="545.1" cy="811.2" r="6"/>
<circle cx="475.0" cy="797.0" r="6"/>
<circle cx="504.0" cy="831.5" r="6"/>
<circle cx="533.0" cy="861.2" r="6"/>
<circle cx="514.6" cy="873.7" r="6"/>
<circle cx="560.0" cy="830.1" r="6"/>
<circle cx="462.4" cy="750.4" r="6"/>
<circle cx="496.2" cy="770.5" r="6"/>
<circle cx="504.9" cy="826.2" r="6"/>
<circle cx="568.4" cy="856.6" r="6"/>
<circle cx="450.9" cy="743.9" r="6"/>
<circle cx="588.5" cy="699.7" r="6"/>
<circle cx="542.0" cy="870.2" r="6"/>
<circle cx="631.8" cy="788.0" r="6"/>
<circle cx="487.2" cy="784.6" r="6"/>
<circle cx="542.8" cy="840.3" r="6"/>
<circle cx="593.7" cy="734.4" r="6"/>
<circle cx="542.7" cy="828.3" r="6"/>
<circle cx="511.2" cy="824.8" r="6"/>
<circle cx="560.6" cy="836.5" r="6"/>
<circle cx="563.9" cy="832.2" r="6"/>
<circle cx="425.4" cy="809.8" r="6"/>
<circle cx="565.7" cy="709.8" r="6"/>
<circle cx="486.3" cy="833.1" r="6"/>
<circle cx="620.2" cy="724.0" r="6"/>
<circle cx="545.8" cy="856.3" r="6"/>
<circle cx="500.9" cy="793.4" r="6"/>
<circle cx="531.2" cy="875.6" r="6"/>
<circle cx="545.1" cy="836.9" r="6"/>
<circle cx="522.1" cy="872.9" r="6"/>
<circle cx="495.6" cy="771.1" r="6"/>
<circle cx="531.3" cy="866.5" r="6"/>
<circle cx="531.9" cy="866.8" r="6"/>
<circle cx="585.0" cy="764.0" r="6"/>
<circle cx="524.5" cy="853.6" r="6"/>
<circle cx="492.7" cy="818.1" r="6"/>
<circle cx="519.0" cy="845.7" r="6"/>
<circle cx="566.1" cy="817.7" r="6"/>
<circle cx="541.9" cy="848.1" r="6"/>
<circle cx="553.2" cy="827.0" r="6"/>
<circle cx="544.2" cy="849.0" r="6"/>
<circle cx="523.1" cy="845.9" r="6"/>
<circle cx="538.7" cy="860.3" r="6"/>
<circle cx="480.4" cy="787.6" r="6"/>
<circle cx="522.1" cy="874.6" r="6"/>
<circle cx="464.9" cy="775.7" r="6"/>
<circle cx="541.8" cy="831.3" r="6"/>
<circle cx="501.9" cy="758.7" r="6"/>
<circle cx="578.7" cy="837.6" r="6"/>
<circle cx="487.1" cy="793.2" r="6"/>
<circle cx="520.7" cy="875.0" r="6"/>
<circle cx="548.3" cy="850.5" r="6"/>
<circle cx="559.2" cy="845.0" r="6"/>
<circle cx="518.0" cy="854.8" r="6"/>
<circle cx="549.8" cy="840.2" r="6"/>
<circle cx="535.0" cy="874.1" r="6"/>
<circle cx="548.2" cy="832.5" r="6"/>
<circle cx="511.1" cy="829.8" r="6"/>
<circle cx="468.5" cy="825.7" r="6"/>
<circle cx="597.6" cy="632.8" r="6"/>
<circle cx="503.2" cy="857.7" r="6"/>
<circle cx="503.3" cy="798.9" r="6"/>
<circle cx="552.8" cy="822.6" r="6"/>
<circle cx="489.4" cy="825.9" r="6"/>
<circle cx="474.9" cy="834.6" r="6"/>
<circle cx="607.7" cy="772.4" r="6"/>
<circle cx="503.6" cy="808.3" r="6"/>
<circle cx="541.5" cy="853.1" r="6"/>
<circle cx="535.6" cy="848.1" r="6"/>
<circle cx="524.1" cy="863.5" r="6"/>
<circle cx="493.3" cy="758.0" r="6"/>
<circle cx="532.0" cy="874.9" r="6"/>
<circle cx="477.0" cy="807.7" r="6"/>
<circle cx="543.1" cy="872.2" r="6"/>
<circle cx="599.8" cy="797.3" r="6"/>
<circle cx="587.0" cy="796.0" r="6"/>
<circle cx="562.4" cy="783.3" r="6"/>
<circle cx="582.6" cy="816.1" r="6"/>
<circle cx="515.1" cy="856.1" r="6"/>
<circle cx="406.6" cy="763.2" r="6"/>
<circle cx="526.3" cy="863.3" r="6"/>
<circle cx="575.6" cy="794.6" r="6"/>
<circle cx="464.8" cy="786.9" r="6"/>
<circle cx="492.1" cy="806.7" r="6"/>
<circle cx="570.4" cy="835.7" r="6"/>
<circle cx="593.8" cy="816.4" r="6"/>
<circle cx="612.2" cy="727.0" r="6"/>
<circle cx="538.9" cy="865.1" r="6"/>
<circle cx="638.1" cy="712.9" r="6"/>
<circle cx="538.0" cy="874.8" r="6"/>
<circle cx="548.0" cy="827.2" r="6"/>
<circle cx="496.4" cy="669.1" r="6"/>
<circle cx="549.4" cy="836.9" r="6"/>
<circle cx="534.6" cy="866.1" r="6"/>
<circle cx="588.5" cy="772.0" r="6"/>
<circle cx="555.5" cy="851.5" r="6"/>
<circle cx="555.7" cy="823.4" r="6"/>
<circle cx="397.7" cy="796.8" r="6"/>
<circle cx="538.4" cy="834.3" r="6"/>
<circle cx="595.3" cy="615.1" r="6"/>
<circle cx="444.5" cy="739.0" r="6"/>
<circle cx="552.0" cy="851.1" r="6"/>
<circle cx="488.3" cy="737.8" r="6"/>
<circle cx="546.0" cy="805.6" r="6"/>
<circle cx="497.9" cy="835.8" r="6"/>
<circle cx="515.0" cy="864.7" r="6"/>
<circle cx="589.7" cy="734.1" r="6"/>
<circle cx="543.5" cy="851.2" r="6"/>
<circle cx="549.9" cy="813.9" r="6"/>
<circle cx="529.7" cy="875.8" r="6"/>
<circle cx="538.6" cy="833.1" r="6"/>
<circle cx="542.7" cy="864.0" r="6"/>
<circle cx="478.4" cy="746.1" r="6"/>
<circle cx="543.3" cy="832.2" r="6"/>
<circle cx="534.5" cy="865.3" r="6"/>
<circle cx="516.5" cy="868.0" r="6"/>
<circle cx="510.4" cy="852.7" r="6"/>
<circle cx="440.1" cy="805.1" r="6"/>
<circle cx="503.5" cy="837.4" r="6"/>
<circle cx="532.8" cy="874.8" r="6"/>
<circle cx="543.5" cy="837.5" r="6"/>
<circle cx="513.2" cy="818.2" r="6"/>
<circle cx="630.7" cy="775.5" r="6"/>
<circle cx="583.2" cy="673.6" r="6"/>
<circle cx="459.2" cy="744.6" r="6"/>
<circle cx="479.8" cy="803.4" r="6"/>
<circle cx="487.6" cy="625.1" r="6"/>
<circle cx="542.8" cy="851.6" r="6"/>
<circle cx="556.0" cy="852.2" r="6"/>
<circle cx="486.3" cy="827.2" r="6"/>
<circle cx="552.5" cy="845.5" r="6"/>
<circle cx="490.0" cy="775.8" r="6"/>
<circle cx="481.3" cy="790.7" r="6"/>
<circle cx="532.5" cy="871.4" r="6"/>
<circle cx="525.7" cy="860.9" r="6"/>
<circle cx="473.3" cy="787.9" r="6"/>
<circle cx="549.8" cy="856.6" r="6"/>
<circle cx="570.6" cy="738.3" r="6"/>
<circle cx="585.1" cy="767.7" r="6"/>
<circle cx="508.4" cy="823.9" r="6"/>
<circle cx="520.2" cy="873.8" r="6"/>
<circle cx="542.6" cy="828.6" r="6"/>
<circle cx="520.6" cy="873.6" r="6"/>
<circle cx="400.4" cy="708.0" r="6"/>
<circle cx="549.0" cy="863.8" r="6"/>
<circle cx="578.1" cy="802.3" r="6"/>
<circle cx="531.6" cy="875.8" r="6"/>
<circle cx="552.4" cy="770.1" r="6"/>
<circle cx="511.6" cy="847.5" r="6"/>
<circle cx="523.2" cy="864.2" r="6"/>
<circle cx="484.5" cy="718.5" r="6"/>
<circle cx="535.9" cy="875.1" r="6"/>
<circle cx="573.8" cy="811.3" r="6"/>
<circle cx="528.3" cy="868.6" r="6"/>
<circle cx="493.6" cy="854.4" r="6"/>
<circle cx="524.2" cy="864.7" r="6"/>
<circle cx="513.5" cy="871.4" r="6"/>
<circle cx="431.0" cy="775.4" r="6"/>
<circle cx="463.3" cy="797.9" r="6"/>
<circle cx="509.2" cy="833.1" r="6"/>
<circle cx="470.6" cy="682.5" r="6"/>
<circle cx="550.3" cy="817.6" r="6"/>
<circle cx="527.0" cy="870.2" r="6"/>
<circle cx="521.2" cy="844.9" r="6"/>
<circle cx="572.2" cy="739.7" r="6"/>
<circle cx="504.8" cy="833.0" r="6"/>
<circle cx="504.2" cy="785.9" r="6"/>
<circle cx="515.3" cy="867.1" r="6"/>
<circle cx="494.3" cy="826.7" r="6"/>
<circle cx="558.2" cy="798.2" r="6"/>
<circle cx="507.7" cy="853.0" r="6"/>
<circle cx="564.3" cy="781.4" r="6"/>
<circle cx="509.1" cy="849.1" r="6"/>
<circle cx="534.9" cy="865.4" r="6"/>
<circle cx="496.1" cy="807.2" r="6"/>
<circle cx="575.0" cy="811.3" r="6"/>
<circle cx="533.3" cy="875.5" r="6"/>
<circle cx="592.2" cy="805.6" r="6"/>
<circle cx="506.7" cy="833.8" r="6"/>
<circle cx="569.2" cy="815.4" r="6"/>
<circle cx="489.4" cy="785.3" r="6"/>
<circle cx="509.3" cy="764.9" r="6"/>
<circle cx="527.9" cy="871.8" r="6"/>
<circle cx="554.1" cy="860.8" r="6"/>
<circle cx="483.9" cy="728.5" r="6"/>
<circle cx="529.9" cy="871.4" r="6"/>
<circle cx="546.4" cy="869.7" r="6"/>
<circle cx="544.8" cy="871.3" r="6"/>
<circle cx="513.1" cy="869.5" r="6"/>
<circle cx="508.4" cy="851.2" r="6"/>
<circle cx="519.2" cy="856.8" r="6"/>
<circle cx="517.2" cy="846.0" r="6"/>
<circle cx="545.5" cy="870.2" r="6"/>
<circle cx="565.8" cy="841.1" r="6"/>
<circle cx="548.6" cy="853.0" r="6"/>
<circle cx="503.2" cy="843.5" r="6"/>
<circle cx="481.4" cy="808.2" r="6"/>
<circle cx="557.9" cy="826.7" r="6"/>
<circle cx="517.9" cy="862.2" r="6"/>
<circle cx="557.4" cy="805.5" r="6"/>
<circle cx="478.5" cy="720.8" r="6"/>
<circle cx="536.4" cy="860.3" r="6"/>
<circle cx="493.0" cy="773.2" r="6"/>
<circle cx="501.3" cy="822.1" r="6"/>
<circle cx="521.0" cy="875.3" r="6"/>
<circle cx="495.3" cy="828.4" r="6"/>
<circle cx="534.7" cy="864.5" r="6"/>
<circle cx="622.0" cy="809.9" r="6"/>
<circle cx="540.0" cy="875.0" r="6"/>
<circle cx="428.8" cy="726.3" r="6"/>
<circle cx="502.0" cy="828.4" r="6"/>
<circle cx="567.1" cy="836.8" r="6"/>
<circle cx="512.8" cy="862.9" r="6"/>
<circle cx="545.7" cy="872.0" r="6"/>
<circle cx="523.7" cy="850.9" r="6"/>
<circle cx="542.4" cy="848.7" r="6"/>
<circle cx="638.8" cy="806.2" r="6"/>
<circle cx="562.5" cy="831.2" r="6"/>
<circle cx="509.7" cy="850.8" r="6"/>
<circle cx="588.2" cy="777.7" r="6"/>
<circle cx="587.7" cy="811.9" r="6"/>
<circle cx="475.7" cy="811.8" r="6"/>
<circle cx="540.7" cy="836.5" r="6"/>
<circle cx="505.0" cy="863.1" r="6"/>
<circle cx="497.9" cy="843.0" r="6"/>
<circle cx="507.3" cy="819.5" r="6"/>
<circle cx="522.2" cy="845.7" r="6"/>
<circle cx="493.8" cy="854.8" r="6"/>
<circle cx="540.6" cy="853.9" r="6"/>
<circle cx="470.8" cy="728.0" r="6"/>
<circle cx="447.5" cy="829.3" r="6"/>
<circle cx="500.0" cy="843.2" r="6"/>
<circle cx="527.4" cy="855.7" r="6"/>
<circle cx="427.6" cy="688.8" r="6"/>
<circle cx="449.3" cy="775.1" r="6"/>
<circle cx="550.8" cy="845.6" r="6"/>
<circle cx="524.8" cy="863.5" r="6"/>
<circle cx="617.8" cy="765.0" r="6"/>
<circle cx="619.6" cy="675.2" r="6"/>
<circle cx="566.5" cy="708.9" r="6"/>
<circle cx="553.9" cy="826.4" r="6"/>
<circle cx="523.4" cy="871.3" r="6"/>
<circle cx="528.7" cy="875.0" r="6"/>
<circle cx="518.7" cy="867.0" r="6"/>
<circle cx="585.9" cy="769.8" r="6"/>
<circle cx="458.7" cy="798.3" r="6"/>
<circle cx="539.2" cy="875.0" r="6"/>
<circle cx="535.8" cy="866.9" r="6"/>
<circle cx="578.2" cy="756.8" r="6"/>
<circle cx="670.5" cy="731.0" r="6"/>
<circle cx="551.3" cy="841.6" r="6"/>
<circle cx="548.5" cy="830.1" r="6"/>
<circle cx="532.3" cy="871.1" r="6"/>
<circle cx="609.8" cy="744.9" r="6"/>
<circle cx="518.0" cy="824.2" r="6"/>
<circle cx="508.2" cy="804.2" r="6"/>
<circle cx="438.6" cy="815.6" r="6"/>
<circle cx="526.1" cy="856.0" r="6"/>
<circle cx="550.8" cy="828.6" r="6"/>
<circle cx="494.1" cy="836.6" r="6"/>
<circle cx="503.4" cy="782.8" r="6"/>
<circle cx="459.8" cy="833.4" r="6"/>
<circle cx="537.2" cy="855.2" r="6"/>
<circle cx="553.5" cy="793.7" r="6"/>
<circle cx="542.3" cy="861.5" r="6"/>
<circle cx="485.3" cy="672.2" r="6"/>
<circle cx="543.2" cy="854.2" r="6"/>
<circle cx="495.7" cy="714.5" r="6"/>
<circle cx="503.7" cy="852.3" r="6"/>
<circle cx="533.1" cy="870.7" r="6"/>
<circle cx="589.5" cy="786.4" r="6"/>
<circle cx="440.7" cy="639.3" r="6"/>
<circle cx="536.6" cy="863.1" r="6"/>
<circle cx="563.6" cy="816.7" r="6"/>
<circle cx="522.5" cy="873.4" r="6"/>
<circle cx="517.5" cy="838.3" r="6"/>
<circle cx="527.5" cy="875.2" r="6"/>
<circle cx="542.5" cy="861.1" r="6"/>
<circle cx="473.0" cy="817.8" r="6"/>
<circle cx="462.0" cy="786.7" r="6"/>
<circle cx="520.4" cy="872.3" r="6"/>
<circle cx="513.1" cy="861.9" r="6"/>
<circle cx="515.7" cy="862.6" r="6"/>
<circle cx="581.2" cy="766.8" r="6"/>
<circle cx="552.6" cy="852.1" r="6"/>
<circle cx="594.4" cy="812.0" r="6"/>
<circle cx="524.9" cy="859.6" r="6"/>
<circle cx="534.6" cy="855.2" r="6"/>
<circle cx="580.7" cy="765.2" r="6"/>
<circle cx="544.8" cy="840.5" r="6"/>
<circle cx="520.1" cy="837.5" r="6"/>
<circle cx="486.7" cy="841.7" r="6"/>
<circle cx="535.4" cy="863.3" r="6"/>
<circle cx="532.4" cy="859.0" r="6"/>
<circle cx="510.7" cy="821.7" r="6"/>
<circle cx="507.9" cy="809.6" r="6"/>
<circle cx="537.1" cy="872.3" r="6"/>
<circle cx="528.8" cy="873.0" r="6"/>
<circle cx="500.6" cy="748.2" r="6"/>
<circle cx="568.9" cy="804.0" r="6"/>
<circle cx="598.3" cy="733.5" r="6"/>
<circle cx="520.3" cy="863.2" r="6"/>
<circle cx="549.8" cy="828.8" r="6"/>
<circle cx="496.2" cy="803.5" r="6"/>
<circle cx="492.1" cy="799.1" r="6"/>
<circle cx="587.6" cy="840.3" r="6"/>
<circle cx="510.7" cy="871.5" r="6"/>
<circle cx="570.3" cy="802.2" r="6"/>
<circle cx="421.8" cy="801.0" r="6"/>
<circle cx="548.5" cy="858.2" r="6"/>
<circle cx="547.7" cy="845.6" r="6"/>
<circle cx="499.6" cy="853.4" r="6"/>
<circle cx="637.0" cy="773.5" r="6"/>
<circle cx="537.6" cy="874.7" r="6"/>
<circle cx="498.7" cy="833.0" r="6"/>
<circle cx="533.4" cy="875.3" r="6"/>
<circle cx="518.9" cy="867.0" r="6"/>
<circle cx="504.4" cy="752.6" r="6"/>
<circle cx="535.5" cy="871.9" r="6"/>
<circle cx="566.8" cy="754.0" r="6"/>
<circle cx="486.8" cy="697.4" r="6"/>
<circle cx="521.2" cy="858.2" r="6"/>
<circle cx="639.1" cy="765.8" r="6"/>
<circle cx="584.1" cy="841.0" r="6"/>
<circle cx="488.8" cy="751.8" r="6"/>
<circle cx="630.4" cy="778.7" r="6"/>
<circle cx="494.5" cy="816.7" r="6"/>
<circle cx="557.4" cy="848.5" r="6"/>
<circle cx="529.4" cy="863.8" r="6"/>
<circle cx="565.0" cy="840.7" r="6"/>
<circle cx="574.3" cy="740.3" r="6"/>
<circle cx="605.8" cy="773.3" r="6"/>
<circle cx="570.9" cy="834.5" r="6"/>
<circle cx="477.9" cy="796.2" r="6"/>
<circle cx="543.5" cy="839.5" r="6"/>
<circle cx="551.6" cy="871.7" r="6"/>
<circle cx="477.4" cy="709.0" r="6"/>
<circle cx="529.5" cy="859.5" r="6"/>
<circle cx="523.0" cy="864.8" r="6"/>
<circle cx="503.3" cy="831.1" r="6"/>
<circle cx="551.6" cy="828.2" r="6"/>
<circle cx="454.9" cy="793.4" r="6"/>
<circle cx="552.8" cy="870.2" r="6"/>
<circle cx="505.5" cy="775.5" r="6"/>
<circle cx="552.2" cy="846.4" r="6"/>
<circle cx="540.1" cy="848.9" r="6"/>
<circle cx="553.1" cy="839.6" r="6"/>
<circle cx="508.8" cy="872.7" r="6"/>
<circle cx="594.4" cy="825.5" r="6"/>
<circle cx="556.2" cy="800.0" r="6"/>
<circle cx="505.7" cy="869.2" r="6"/>
<circle cx="562.7" cy="787.9" r="6"/>
<circle cx="564.2" cy="795.5" r="6"/>
<circle cx="625.6" cy="678.3" r="6"/>
<circle cx="599.1" cy="747.1" r="6"/>
<circle cx="383.6" cy="767.8" r="6"/>
<circle cx="543.9" cy="852.8" r="6"/>
<circle cx="500.4" cy="837.9" r="6"/>
<circle cx="519.2" cy="841.8" r="6"/>
<circle cx="448.0" cy="734.1" r="6"/>
<circle cx="554.8" cy="867.2" r="6"/>
<circle cx="542.2" cy="833.0" r="6"/>
<circle cx="510.9" cy="829.7" r="6"/>
<circle cx="529.4" cy="863.7" r="6"/>
<circle cx="474.6" cy="821.8" r="6"/>
<circle cx="502.2" cy="843.8" r="6"/>
<circle cx="484.2" cy="846.5" r="6"/>
<circle cx="530.0" cy="875.9" r="6"/>
<circle cx="486.1" cy="836.4" r="6"/>
<circle cx="531.1" cy="866.1" r="6"/>
<circle cx="581.6" cy="841.6" r="6"/>
<circle cx="482.8" cy="795.1" r="6"/>
<circle cx="526.6" cy="860.6" r="6"/>
<circle cx="498.2" cy="825.4" r="6"/>
<circle cx="501.5" cy="719.7" r="6"/>
<circle cx="560.7" cy="856.1" r="6"/>
<circle cx="569.2" cy="845.0" r="6"/>
<circle cx="559.2" cy="789.3" r="6"/>
<circle cx="604.3" cy="726.0" r="6"/>
<circle cx="500.9" cy="841.1" r="6"/>
<circle cx="537.5" cy="863.3" r="6"/>
<circle cx="549.2" cy="850.7" r="6"/>
<circle cx="498.4" cy="811.6" r="6"/>
<circle cx="464.0" cy="771.6" r="6"/>
<circle cx="506.9" cy="819.4" r="6"/>
<circle cx="534.6" cy="863.1" r="6"/>
<circle cx="482.9" cy="754.0" r="6"/>
<circle cx="552.9" cy="827.9" r="6"/>
<circle cx="557.7" cy="863.9" r="6"/>
<circle cx="548.4" cy="871.7" r="6"/>
<circle cx="518.6" cy="867.7" r="6"/>
<circle cx="596.1" cy="732.5" r="6"/>
<circle cx="573.1" cy="735.9" r="6"/>
<circle cx="557.9" cy="757.9" r="6"/>
<circle cx="518.0" cy="820.2" r="6"/>
<circle cx="524.6" cy="871.7" r="6"/>
<circle cx="534.5" cy="867.1" r="6"/>
<circle cx="524.2" cy="861.2" r="6"/>
<circle cx="546.8" cy="849.7" r="6"/>
<circle cx="521.0" cy="844.8" r="6"/>
<circle cx="525.7" cy="871.5" r="6"/>
<circle cx="528.6" cy="875.6" r="6"/>
<circle cx="527.5" cy="869.8" r="6"/>
<circle cx="537.2" cy="841.3" r="6"/>
<circle cx="494.0" cy="764.5" r="6"/>
<circle cx="519.6" cy="871.7" r="6"/>
<circle cx="555.9" cy="816.7" r="6"/>
<circle cx="561.4" cy="844.6" r="6"/>
<circle cx="542.3" cy="825.6" r="6"/>
<circle cx="646.0" cy="774.3" r="6"/>
<circle cx="552.9" cy="861.7" r="6"/>
<circle cx="575.5" cy="778.7" r="6"/>
<circle cx="597.1" cy="649.5" r="6"/>
<circle cx="510.2" cy="859.4" r="6"/>
<circle cx="518.7" cy="829.5" r="6"/>
<circle cx="550.6" cy="812.7" r="6"/>
<circle cx="522.1" cy="860.7" r="6"/>
<circle cx="528.2" cy="873.1" r="6"/>
<circle cx="502.7" cy="848.6" r="6"/>
<circle cx="514.0" cy="857.5" r="6"/>
<circle cx="561.7" cy="831.6" r="6"/>
<circle cx="517.1" cy="845.4" r="6"/>
<circle cx="535.5" cy="863.4" r="6"/>
<circle cx="562.7" cy="684.2" r="6"/>
<circle cx="470.4" cy="774.0" r="6"/>
<circle cx="545.9" cy="869.2" r="6"/>
<circle cx="491.6" cy="856.5" r="6"/>
<circle cx="413.5" cy="807.6" r="6"/>
<circle cx="562.2" cy="858.3" r="6"/>
<circle cx="565.1" cy="848.7" r="6"/>
<circle cx="535.2" cy="875.2" r="6"/>
<circle cx="582.7" cy="838.6" r="6"/>
<circle cx="545.8" cy="865.5" r="6"/>
<circle cx="499.3" cy="838.0" r="6"/>
<circle cx="504.5" cy="851.2" r="6"/>
<circle cx="539.1" cy="847.1" r="6"/>
<circle cx="483.0" cy="788.1" r="6"/>
<circle cx="493.3" cy="855.1" r="6"/>
<circle cx="387.0" cy="747.1" r="6"/>
<circle cx="575.1" cy="845.1" r="6"/>
<circle cx="529.1" cy="866.9" r="6"/>
<circle cx="526.9" cy="875.7" r="6"/>
<circle cx="526.5" cy="870.1" r="6"/>
<circle cx="521.0" cy="836.8" r="6"/>
<circle cx="543.6" cy="813.1" r="6"/>
<circle cx="452.4" cy="760.5" r="6"/>
<circle cx="517.0" cy="853.7" r="6"/>
<circle cx="559.5" cy="866.7" r="6"/>
<circle cx="493.2" cy="849.0" r="6"/>
<circle cx="540.8" cy="853.5" r="6"/>
<circle cx="484.3" cy="733.3" r="6"/>
<circle cx="535.1" cy="870.6" r="6"/>
<circle cx="486.1" cy="737.3" r="6"/>
<circle cx="531.2" cy="874.1" r="6"/>
<circle cx="510.4" cy="855.6" r="6"/>
<circle cx="598.4" cy="719.4" r="6"/>
<circle cx="539.9" cy="869.0" r="6"/>
<circle cx="457.9" cy="813.3" r="6"/>
<circle cx="505.5" cy="862.1" r="6"/>
<circle cx="617.0" cy="797.1" r="6"/>
<circle cx="616.2" cy="813.9" r="6"/>
<circle cx="554.0" cy="741.6" r="6"/>
<circle cx="471.6" cy="783.6" r="6"/>
<circle cx="558.6" cy="827.5" r="6"/>
<circle cx="536.5" cy="867.4" r="6"/>
<circle cx="484.4" cy="827.6" r="6"/>
<circle cx="556.5" cy="827.3" r="6"/>
<circle cx="523.6" cy="856.0" r="6"/>
<circle cx="502.7" cy="779.5" r="6"/>
<circle cx="554.8" cy="830.9" r="6"/>
<circle cx="562.6" cy="813.1" r="6"/>
<circle cx="525.3" cy="865.9" r="6"/>
<circle cx="543.7" cy="869.5" r="6"/>
<circle cx="560.1" cy="788.5" r="6"/>
<circle cx="510.6" cy="865.1" r="6"/>
<circle cx="572.4" cy="735.4" r="6"/>
<circle cx="588.0" cy="776.1" r="6"/>
<circle cx="513.7" cy="804.3" r="6"/>
<circle cx="570.2" cy="821.6" r="6"/>
<circle cx="426.0" cy="723.4" r="6"/>
<circle cx="526.9" cy="872.6" r="6"/>
<circle cx="502.8" cy="861.6" r="6"/>
<circle cx="501.0" cy="754.4" r="6"/>
<circle cx="539.6" cy="869.6" r="6"/>
<circle cx="510.6" cy="826.7" r="6"/>
<circle cx="496.6" cy="713.3" r="6"/>
<circle cx="509.4" cy="848.5" r="6"/>
<circle cx="534.8" cy="848.6" r="6"/>
<circle cx="494.9" cy="835.2" r="6"/>
<circle cx="541.0" cy="851.6" r="6"/>
<circle cx="588.0" cy="726.9" r="6"/>
<circle cx="492.2" cy="815.5" r="6"/>
<circle cx="482.4" cy="821.3" r="6"/>
<circle cx="531.7" cy="875.4" r="6"/>
<circle cx="565.4" cy="791.7" r="6"/>
<circle cx="550.6" cy="859.3" r="6"/>
<circle cx="538.6" cy="873.9" r="6"/>
<circle cx="483.4" cy="711.6" r="6"/>
<circle cx="534.9" cy="866.5" r="6"/>
<circle cx="680.1" cy="767.6" r="6"/>
<circle cx="544.8" cy="800.5" r="6"/>
<circle cx="634.9" cy="728.7" r="6"/>
<circle cx="510.5" cy="843.3" r="6"/>
<circle cx="590.5" cy="838.6" r="6"/>
<circle cx="492.1" cy="840.9" r="6"/>
<circle cx="356.1" cy="745.1" r="6"/>
<circle cx="513.4" cy="859.5" r="6"/>
<circle cx="534.4" cy="875.6" r="6"/>
<circle cx="553.6" cy="846.5" r="6"/>
<circle cx="495.7" cy="847.4" r="6"/>
<circle cx="502.7" cy="840.0" r="6"/>
<circle cx="581.2" cy="600.6" r="6"/>
<circle cx="515.0" cy="835.6" r="6"/>
<circle cx="570.9" cy="833.9" r="6"/>
<circle cx="508.8" cy="801.9" r="6"/>
<circle cx="544.8" cy="864.7" r="6"/>
<circle cx="560.7" cy="853.0" r="6"/>
<circle cx="508.2" cy="746.1" r="6"/>
<circle cx="520.2" cy="872.4" r="6"/>
<circle cx="527.1" cy="870.2" r="6"/>
<circle cx="568.7" cy="793.9" r="6"/>
<circle cx="513.2" cy="858.2" r="6"/>
<circle cx="547.7" cy="865.6" r="6"/>
<circle cx="546.8" cy="798.0" r="6"/>
<circle cx="543.1" cy="835.1" r="6"/>
<circle cx="593.2" cy="815.4" r="6"/>
<circle cx="547.1" cy="833.1" r="6"/>
<circle cx="566.7" cy="778.0" r="6"/>
<circle cx="510.5" cy="853.0" r="6"/>
<circle cx="550.9" cy="843.9" r="6"/>
<circle cx="513.5" cy="856.6" r="6"/>
<circle cx="530.5" cy="870.4" r="6"/>
<circle cx="492.6" cy="844.7" r="6"/>
<circle cx="527.8" cy="874.8" r="6"/>
<circle cx="535.1" cy="873.9" r="6"/>
<circle cx="467.3" cy="786.8" r="6"/>
<circle cx="550.1" cy="833.0" r="6"/>
<circle cx="556.0" cy="823.0" r="6"/>
<circle cx="559.5" cy="746.3" r="6"/>
<circle cx="456.1" cy="739.5" r="6"/>
<circle cx="455.9" cy="805.4" r="6"/>
<circle cx="541.6" cy="865.9" r="6"/>
<circle cx="422.6" cy="689.6" r="6"/>
<circle cx="500.6" cy="810.9" r="6"/>
<circle cx="555.0" cy="869.1" r="6"/>
<circle cx="544.3" cy="862.5" r="6"/>
<circle cx="536.8" cy="860.7" r="6"/>
<circle cx="507.9" cy="824.2" r="6"/>
<circle cx="499.5" cy="843.4" r="6"/>
<circle cx="576.3" cy="806.8" r="6"/>
<circle cx="503.8" cy="781.0" r="6"/>
<circle cx="556.7" cy="823.2" r="6"/>
<circle cx="659.3" cy="763.4" r="6"/>
<circle cx="513.9" cy="855.0" r="6"/>
<circle cx="534.8" cy="875.5" r="6"/>
<circle cx="503.7" cy="801.9" r="6"/>
<circle cx="550.2" cy="853.7" r="6"/>
<circle cx="427.1" cy="772.2" r="6"/>
<circle cx="501.2" cy="859.6" r="6"/>
<circle cx="532.2" cy="873.2" r="6"/>
<circle cx="525.5" cy="864.1" r="6"/>
<circle cx="512.3" cy="796.7" r="6"/>
<circle cx="563.7" cy="838.4" r="6"/>
<circle cx="550.6" cy="781.1" r="6"/>
<circle cx="541.5" cy="861.1" r="6"/>
<circle cx="607.5" cy="777.3" r="6"/>
<circle cx="547.5" cy="847.4" r="6"/>
<circle cx="575.1" cy="831.4" r="6"/>
<circle cx="457.3" cy="778.8" r="6"/>
<circle cx="484.8" cy="743.2" r="6"/>
<circle cx="584.8" cy="825.0" r="6"/>
<circle cx="623.8" cy="690.1" r="6"/>
<circle cx="564.3" cy="740.5" r="6"/>
<circle cx="489.2" cy="707.7" r="6"/>
<circle cx="514.7" cy="850.1" r="6"/>
<circle cx="549.3" cy="849.8" r="6"/>
<circle cx="502.0" cy="797.4" r="6"/>
<circle cx="603.7" cy="771.7" r="6"/>
<circle cx="558.3" cy="846.1" r="6"/>
<circle cx="496.5" cy="839.2" r="6"/>
<circle cx="493.5" cy="857.6" r="6"/>
<circle cx="546.6" cy="847.8" r="6"/>
<circle cx="531.3" cy="857.0" r="6"/>
<circle cx="559.6" cy="792.7" r="6"/>
<circle cx="452.0" cy="647.7" r="6"/>
<circle cx="555.9" cy="776.0" r="6"/>
<circle cx="545.2" cy="787.1" r="6"/>
<circle cx="477.6" cy="770.4" r="6"/>
<circle cx="547.7" cy="838.1" r="6"/>
<circle cx="530.5" cy="868.9" r="6"/>
<circle cx="575.1" cy="850.4" r="6"/>
<circle cx="495.9" cy="802.0" r="6"/>
<circle cx="515.1" cy="853.0" r="6"/>
<circle cx="526.2" cy="864.4" r="6"/>
<circle cx="439.0" cy="785.1" r="6"/>
<circle cx="516.1" cy="820.1" r="6"/>
<circle cx="532.8" cy="873.7" r="6"/>
<circle cx="609.3" cy="829.8" r="6"/>
<circle cx="528.5" cy="872.4" r="6"/>
<circle cx="522.7" cy="875.2" r="6"/>
<circle cx="460.1" cy="742.9" r="6"/>
<circle cx="571.6" cy="735.7" r="6"/>
<circle cx="471.8" cy="759.6" r="6"/>
<circle cx="480.2" cy="850.9" r="6"/>
<circle cx="591.2" cy="636.3" r="6"/>
<circle cx="509.8" cy="862.4" r="6"/>
<circle cx="504.0" cy="849.3" r="6"/>
<circle cx="563.5" cy="851.4" r="6"/>
<circle cx="529.7" cy="873.4" r="6"/>
<circle cx="578.0" cy="784.6" r="6"/>
<circle cx="514.8" cy="857.4" r="6"/>
<circle cx="549.1" cy="869.6" r="6"/>
<circle cx="508.7" cy="800.4" r="6"/>
<circle cx="519.1" cy="847.3" r="6"/>
<circle cx="562.2" cy="616.4" r="6"/>
<circle cx="485.8" cy="850.8" r="6"/>
<circle cx="549.7" cy="834.1" r="6"/>
<circle cx="571.8" cy="827.3" r="6"/>
<circle cx="553.2" cy="831.8" r="6"/>
<circle cx="533.0" cy="874.1" r="6"/>
<circle cx="536.5" cy="857.6" r="6"/>
<circle cx="506.9" cy="839.4" r="6"/>
<circle cx="516.5" cy="847.5" r="6"/>
<circle cx="516.7" cy="862.9" r="6"/>
<circle cx="543.5" cy="866.6" r="6"/>
<circle cx="505.7" cy="848.0" r="6"/>
<circle cx="391.3" cy="727.9" r="6"/>
<circle cx="416.2" cy="744.9" r="6"/>
<circle cx="528.1" cy="873.8" r="6"/>
<circle cx="580.2" cy="847.6" r="6"/>
<circle cx="523.0" cy="874.2" r="6"/>
<circle cx="641.2" cy="744.5" r="6"/>
<circle cx="432.8" cy="785.0" r="6"/>
<circle cx="483.2" cy="852.9" r="6"/>
<circle cx="514.8" cy="802.0" r="6"/>
<circle cx="566.4" cy="847.7" r="6"/>
<circle cx="496.8" cy="866.8" r="6"/>
<circle cx="531.8" cy="875.7" r="6"/>
<circle cx="506.5" cy="862.4" r="6"/>
<circle cx="465.2" cy="649.6" r="6"/>
<circle cx="567.3" cy="671.7" r="6"/>
<circle cx="547.0" cy="872.2" r="6"/>
<circle cx="545.3" cy="870.1" r="6"/>
<circle cx="500.2" cy="813.2" r="6"/>
<circle cx="554.1" cy="869.5" r="6"/>
<circle cx="519.3" cy="855.7" r="6"/>
<circle cx="512.6" cy="859.6" r="6"/>
<circle cx="555.9" cy="858.9" r="6"/>
<circle cx="463.8" cy="707.1" r="6"/>
<circle cx="506.0" cy="822.9" r="6"/>
<circle cx="510.1" cy="866.7" r="6"/>
<circle cx="482.3" cy="816.2" r="6"/>
<circle cx="546.2" cy="837.0" r="6"/>
<circle cx="540.6" cy="866.3" r="6"/>
<circle cx="560.7" cy="806.9" r="6"/>
<circle cx="545.7" cy="852.9" r="6"/>
<circle cx="517.2" cy="840.7" r="6"/>
<circle cx="519.4" cy="870.0" r="6"/>
<circle cx="596.8" cy="692.0" r="6"/>
<circle cx="389.8" cy="728.6" r="6"/>
<circle cx="533.3" cy="871.6" r="6"/>
<circle cx="528.6" cy="869.7" r="6"/>
<circle cx="520.3" cy="859.5" r="6"/>
<circle cx="534.8" cy="871.1" r="6"/>
<circle cx="514.4" cy="850.1" r="6"/>
<circle cx="595.1" cy="813.7" r="6"/>
<circle cx="516.9" cy="849.5" r="6"/>
<circle cx="575.8" cy="815.4" r="6"/>
<circle cx="501.8" cy="817.5" r="6"/>
<circle cx="503.8" cy="837.8" r="6"/>
<circle cx="605.1" cy="765.7" r="6"/>
<circle cx="492.1" cy="849.0" r="6"/>
<circle cx="598.6" cy="802.4" r="6"/>
<circle cx="484.0" cy="787.3" r="6"/>
<circle cx="527.0" cy="862.2" r="6"/>
<circle cx="545.2" cy="851.0" r="6"/>
<circle cx="562.1" cy="769.8" r="6"/>
<circle cx="520.7" cy="857.6" r="6"/>
<circle cx="506.1" cy="779.4" r="6"/>
<circle cx="589.3" cy="735.5" r="6"/>
<circle cx="533.6" cy="875.7" r="6"/>
<circle cx="540.7" cy="849.9" r="6"/>
<circle cx="540.2" cy="857.4" r="6"/>
<circle cx="458.6" cy="729.6" r="6"/>
<circle cx="530.2" cy="873.7" r="6"/>
<circle cx="521.3" cy="865.1" r="6"/>
<circle cx="530.4" cy="864.1" r="6"/>
<circle cx="453.3" cy="814.7" r="6"/>
<circle cx="472.2" cy="825.6" r="6"/>
<circle cx="528.9" cy="875.1" r="6"/>
<circle cx="563.4" cy="813.9" r="6"/>
<circle cx="476.6" cy="821.9" r="6"/>
<circle cx="529.1" cy="866.3" r="6"/>
<circle cx="554.7" cy="760.8" r="6"/>
<circle cx="457.2" cy="807.7" r="6"/>
<circle cx="470.2" cy="807.3" r="6"/>
<circle cx="579.8" cy="751.1" r="6"/>
<circle cx="520.4" cy="867.4" r="6"/>
<circle cx="576.1" cy="852.5" r="6"/>
<circle cx="529.1" cy="859.7" r="6"/>
<circle cx="486.1" cy="839.7" r="6"/>
<circle cx="522.9" cy="864.8" r="6"/>
<circle cx="486.3" cy="860.1" r="6"/>
<circle cx="515.0" cy="851.9" r="6"/>
<circle cx="470.6" cy="694.3" r="6"/>
<circle cx="442.4" cy="707.5" r="6"/>
<circle cx="550.3" cy="870.5" r="6"/>
<circle cx="570.4" cy="840.7" r="6"/>
<circle cx="614.8" cy="666.8" r="6"/>
<circle cx="567.2" cy="838.1" r="6"/>
<circle cx="470.9" cy="743.0" r="6"/>
<circle cx="551.0" cy="852.1" r="6"/>
<circle cx="535.8" cy="869.0" r="6"/>
<circle cx="557.0" cy="746.9" r="6"/>
<circle cx="546.4" cy="869.5" r="6"/>
<circle cx="570.6" cy="853.8" r="6"/>
<circle cx="520.5" cy="874.1" r="6"/>
<circle cx="481.5" cy="751.8" r="6"/>
<circle cx="487.2" cy="837.7" r="6"/>
<circle cx="574.5" cy="692.9" r="6"/>
<circle cx="482.1" cy="766.6" r="6"/>
<circle cx="543.2" cy="829.9" r="6"/>
<circle cx="538.0" cy="865.2" r="6"/>
<circle cx="608.0" cy="737.8" r="6"/>
<circle cx="507.9" cy="867.9" r="6"/>
<circle cx="607.4" cy="734.3" r="6"/>
<circle cx="458.4" cy="774.8" r="6"/>
<circle cx="584.6" cy="769.6" r="6"/>
<circle cx="546.4" cy="847.4" r="6"/>
<circle cx="365.2" cy="730.5" r="6"/>
<circle cx="562.9" cy="831.2" r="6"/>
<circle cx="524.1" cy="875.0" r="6"/>
<circle cx="472.4" cy="771.8" r="6"/>
<circle cx="490.7" cy="738.6" r="6"/>
<circle cx="529.1" cy="874.8" r="6"/>
<circle cx="507.2" cy="864.8" r="6"/>
<circle cx="553.0" cy="862.7" r="6"/>
<circle cx="534.4" cy="868.7" r="6"/>
<circle cx="537.9" cy="873.3" r="6"/>
<circle cx="531.4" cy="872.7" r="6"/>
<circle cx="504.5" cy="848.9" r="6"/>
<circle cx="547.9" cy="831.9" r="6"/>
<circle cx="557.2" cy="864.2" r="6"/>
<circle cx="543.0" cy="827.9" r="6"/>
<circle cx="564.3" cy="812.2" r="6"/>
<circle cx="548.1" cy="845.4" r="6"/>
<circle cx="504.7" cy="858.6" r="6"/>
<circle cx="554.3" cy="834.7" r="6"/>
<circle cx="509.5" cy="800.3" r="6"/>
<circle cx="507.9" cy="801.1" r="6"/>
<circle cx="552.7" cy="862.2" r="6"/>
<circle cx="591.8" cy="749.1" r="6"/>
<circle cx="550.7" cy="736.9" r="6"/>
<circle cx="560.5" cy="851.1" r="6"/>
<circle cx="420.7" cy="707.8" r="6"/>
<circle cx="534.5" cy="872.0" r="6"/>
<circle cx="509.0" cy="834.9" r="6"/>
<circle cx="532.4" cy="866.7" r="6"/>
<circle cx="561.1" cy="838.0" r="6"/>
<circle cx="491.4" cy="671.4" r="6"/>
<circle cx="521.7" cy="875.4" r="6"/>
<circle cx="526.1" cy="869.5" r="6"/>
<circle cx="574.4" cy="819.4" r="6"/>
<circle cx="585.2" cy="790.1" r="6"/>
<circle cx="542.6" cy="838.8" r="6"/>
<circle cx="515.7" cy="833.1" r="6"/>
<circle cx="519.8" cy="872.4" r="6"/>
<circle cx="570.8" cy="739.0" r="6"/>
<circle cx="548.6" cy="872.1" r="6"/>
<circle cx="534.4" cy="867.5" r="6"/>
<circle cx="494.5" cy="790.2" r="6"/>
<circle cx="617.0" cy="728.0" r="6"/>
<circle cx="476.8" cy="774.9" r="6"/>
<circle cx="484.3" cy="754.3" r="6"/>
<circle cx="522.7" cy="873.9" r="6"/>
<circle cx="520.7" cy="850.1" r="6"/>
<circle cx="572.9" cy="860.9" r="6"/>
<circle cx="526.1" cy="872.6" r="6"/>
<circle cx="531.3" cy="863.4" r="6"/>
<circle cx="501.5" cy="799.2" r="6"/>
<circle cx="499.7" cy="853.6" r="6"/>
<circle cx="476.9" cy="777.6" r="6"/>
<circle cx="525.9" cy="867.5" r="6"/>
<circle cx="536.2" cy="874.1" r="6"/>
<circle cx="481.7" cy="832.1" r="6"/>
<circle cx="460.9" cy="804.3" r="6"/>
<circle cx="535.2" cy="869.6" r="6"/>
<circle cx="533.8" cy="866.8" r="6"/>
<circle cx="566.8" cy="740.9" r="6"/>
<circle cx="551.0" cy="843.9" r="6"/>
<circle cx="571.3" cy="809.6" r="6"/>
<circle cx="544.7" cy="840.1" r="6"/>
<circle cx="452.6" cy="606.0" r="6"/>
<circle cx="513.6" cy="817.3" r="6"/>
<circle cx="534.1" cy="851.7" r="6"/>
<circle cx="458.5" cy="767.9" r="6"/>
<circle cx="578.3" cy="738.4" r="6"/>
<circle cx="470.2" cy="800.9" r="6"/>
<circle cx="503.8" cy="848.6" r="6"/>
<circle cx="546.4" cy="839.6" r="6"/>
<circle cx="535.8" cy="868.4" r="6"/>
<circle cx="531.0" cy="873.1" r="6"/>
<circle cx="633.3" cy="809.8" r="6"/>
<circle cx="535.8" cy="858.3" r="6"/>
<circle cx="511.8" cy="847.8" r="6"/>
<circle cx="536.5" cy="850.5" r="6"/>
<circle cx="481.1" cy="828.8" r="6"/>
<circle cx="550.4" cy="841.0" r="6"/>
<circle cx="570.0" cy="796.4" r="6"/>
<circle cx="544.2" cy="833.2" r="6"/>
<circle cx="497.4" cy="848.7" r="6"/>
<circle cx="489.0" cy="781.9" r="6"/>
<circle cx="510.5" cy="771.6" r="6"/>
<circle cx="507.1" cy="854.5" r="6"/>
<circle cx="554.6" cy="854.9" r="6"/>
<circle cx="586.4" cy="811.0" r="6"/>
<circle cx="516.4" cy="842.6" r="6"/>
<circle cx="509.3" cy="863.1" r="6"/>
<circle cx="573.9" cy="699.9" r="6"/>
<circle cx="409.3" cy="817.2" r="6"/>
<circle cx="518.2" cy="874.2" r="6"/>
<circle cx="542.9" cy="872.7" r="6"/>
<circle cx="495.2" cy="859.5" r="6"/>
<circle cx="559.7" cy="817.9" r="6"/>
<circle cx="551.1" cy="814.5" r="6"/>
<circle cx="426.7" cy="703.2" r="6"/>
<circle cx="545.3" cy="858.9" r="6"/>
<circle cx="524.7" cy="875.2" r="6"/>
<circle cx="524.8" cy="875.7" r="6"/>
<circle cx="544.0" cy="859.3" r="6"/>
<circle cx="439.4" cy="652.1" r="6"/>
<circle cx="419.9" cy="804.6" r="6"/>
<circle cx="628.5" cy="781.8" r="6"/>
<circle cx="508.8" cy="850.7" r="6"/>
<circle cx="515.6" cy="844.7" r="6"/>
<circle cx="505.2" cy="866.8" r="6"/>
<circle cx="537.5" cy="865.6" r="6"/>
<circle cx="536.3" cy="857.4" r="6"/>
<circle cx="446.1" cy="720.0" r="6"/>
<circle cx="505.4" cy="852.9" r="6"/>
<circle cx="547.4" cy="845.3" r="6"/>
<circle cx="530.1" cy="871.6" r="6"/>
<circle cx="535.2" cy="873.1" r="6"/>
<circle cx="515.7" cy="856.0" r="6"/>
<circle cx="524.0" cy="844.8" r="6"/>
<circle cx="477.5" cy="767.1" r="6"/>
<circle cx="519.7" cy="847.2" r="6"/>
<circle cx="594.0" cy="749.1" r="6"/>
<circle cx="540.6" cy="864.2" r="6"/>
<circle cx="424.1" cy="811.9" r="6"/>
<circle cx="571.3" cy="768.6" r="6"/>
<circle cx="545.7" cy="871.5" r="6"/>
<circle cx="487.1" cy="825.5" r="6"/>
<circle cx="543.0" cy="844.6" r="6"/>
<circle cx="551.9" cy="842.4" r="6"/>
<circle cx="558.4" cy="799.4" r="6"/>
<circle cx="514.2" cy="866.0" r="6"/>
<circle cx="472.5" cy="739.0" r="6"/>
<circle cx="502.0" cy="756.3" r="6"/>
<circle cx="527.5" cy="866.6" r="6"/>
<circle cx="530.9" cy="872.2" r="6"/>
<circle cx="426.7" cy="808.1" r="6"/>
<circle cx="473.0" cy="352.8" r="6"/>
<circle cx="473.0" cy="419.3" r="6"/>
<circle cx="576.5" cy="437.3" r="6"/>
<circle cx="484.7" cy="485.8" r="6"/>
<circle cx="500.6" cy="493.5" r="6"/>
<circle cx="502.8" cy="507.5" r="6"/>
<circle cx="567.0" cy="513.6" r="6"/>
<circle cx="468.6" cy="529.8" r="6"/>
<circle cx="486.7" cy="530.0" r="6"/>
<circle cx="497.5" cy="532.3" r="6"/>
<circle cx="587.5" cy="563.0" r="6"/>
<circle cx="573.8" cy="599.4" r="6"/>
<circle cx="568.9" cy="604.0" r="6"/>
<circle cx="593.7" cy="609.0" r="6"/>
<circle cx="581.3" cy="641.7" r="6"/>
<circle cx="598.7" cy="636.7" r="6"/>
<circle cx="455.6" cy="611.8" r="6"/>
<circle cx="461.8" cy="615.5" r="6"/>
<circle cx="484.2" cy="641.7" r="6"/>
<circle cx="463.0" cy="641.7" r="6"/>
<circle cx="671.8" cy="755.5" r="6"/>
<circle cx="681.8" cy="760.9" r="6"/>
<circle cx="711.9" cy="752.2" r="6"/>
<circle cx="701.6" cy="763.6" r="6"/>
<circle cx="704.3" cy="774.4" r="6"/>
<circle cx="679.4" cy="774.4" r="6"/>
<circle cx="657.0" cy="769.0" r="6"/>
<circle cx="728.0" cy="798.8" r="6"/>
<circle cx="806.3" cy="787.0" r="6"/>
<circle cx="868.5" cy="775.0" r="6"/>
<circle cx="655.6" cy="823.0" r="6"/>
<circle cx="583.0" cy="861.5" r="6"/>
<circle cx="590.6" cy="847.5" r="6"/>
<circle cx="602.8" cy="842.6" r="6"/>
<circle cx="615.5" cy="832.6" r="6"/>
<circle cx="619.0" cy="825.0" r="6"/>
<circle cx="709.7" cy="751.7" r="6"/>
<circle cx="680.0" cy="774.7" r="6"/>
<circle cx="703.0" cy="776.0" r="6"/>
<circle cx="727.0" cy="798.0" r="6"/>
<circle cx="655.6" cy="822.0" r="6"/>
<circle cx="325.7" cy="785.6" r="6"/>
<circle cx="329.5" cy="797.0" r="6"/>
<circle cx="362.0" cy="781.0" r="6"/>
<circle cx="343.0" cy="745.0" r="6"/>
<circle cx="355.0" cy="741.0" r="6"/>
<circle cx="361.0" cy="744.0" r="6"/>
<circle cx="345.0" cy="763.0" r="6"/>
<circle cx="384.5" cy="815.0" r="6"/>
<circle cx="384.5" cy="823.0" r="6"/>
<circle cx="402.5" cy="816.0" r="6"/>
<circle cx="406.0" cy="841.0" r="6"/>
<circle cx="337.0" cy="742.0" r="6"/>
<circle cx="544.9" cy="481.2" r="3.8"/>
</g>
<g fill="#d2d2d2">
<circle cx="466.5" cy="548.5" r="6"/>
<circle cx="474.3" cy="552.0" r="6"/>
<circle cx="471.8" cy="558.3" r="6"/>
<circle cx="483.0" cy="574.5" r="6"/>
<circle cx="489.0" cy="577.0" r="6"/>
<circle cx="463.0" cy="583.0" r="6"/>
<circle cx="466.8" cy="593.0" r="6"/>
<circle cx="475.5" cy="594.4" r="6"/>
<circle cx="494.2" cy="606.8" r="6"/>
<circle cx="557.7" cy="629.0" r="6"/>
<circle cx="724.0" cy="739.0" r="6"/>
</g>
<path d="M97.0,753.4C112.4,752.7 160.5,750.9 189.4,749.0C218.3,747.1 249.9,744.0 270.6,741.8C291.3,739.5 302.1,737.7 313.8,735.5C325.5,733.3 331.9,731.5 340.9,728.7C349.9,725.9 360.0,722.3 367.9,718.6C375.8,714.9 381.9,710.9 388.2,706.4C394.5,701.9 400.6,696.7 405.8,691.5C411.0,686.3 415.2,680.9 419.3,675.3C423.4,669.7 427.0,664.0 430.2,657.7C433.4,651.4 435.9,644.4 438.3,637.4C440.7,630.4 442.6,623.0 444.4,615.8C446.2,608.6 447.6,602.1 449.1,594.0C450.6,585.9 452.1,576.0 453.2,567.0C454.3,558.0 454.6,551.2 455.9,540.0C457.2,528.8 459.4,520.0 461.0,500.0C462.6,480.0 464.4,443.3 465.6,420.0C466.9,396.7 467.6,380.0 468.5,360.0C469.4,340.0 470.1,330.0 470.9,300.0C471.7,270.0 472.7,220.1 473.5,180.0C474.3,139.9 475.5,79.6 475.9,59.5" fill="none" stroke="#000" stroke-width="8.7"/>
<path d="M952.6,753.4C937.2,752.7 889.1,750.9 860.2,749.0C831.3,747.1 799.7,744.0 779.0,741.8C758.3,739.5 747.5,737.7 735.8,735.5C724.1,733.3 717.7,731.5 708.7,728.7C699.7,725.9 689.6,722.3 681.7,718.6C673.8,714.9 667.7,710.9 661.4,706.4C655.1,701.9 649.0,696.7 643.8,691.5C638.6,686.3 634.4,680.9 630.3,675.3C626.2,669.7 622.6,664.0 619.4,657.7C616.2,651.4 613.7,644.4 611.3,637.4C608.9,630.4 607.0,623.0 605.2,615.8C603.4,608.6 602.0,602.1 600.5,594.0C599.0,585.9 597.5,576.0 596.4,567.0C595.3,558.0 595.0,551.2 593.7,540.0C592.4,528.8 590.2,520.0 588.6,500.0C587.0,480.0 585.2,443.3 584.0,420.0C582.7,396.7 582.0,380.0 581.1,360.0C580.2,340.0 579.5,330.0 578.7,300.0C577.9,270.0 576.9,220.1 576.1,180.0C575.3,139.9 574.1,79.6 573.7,59.5" fill="none" stroke="#000" stroke-width="8.7"/>
<g fill="#000">
<circle cx="227.5" cy="223.0" r="6.1"/>
<circle cx="362.5" cy="226.5" r="6.1"/>
<circle cx="436.4" cy="232.0" r="6.1"/>
<circle cx="324.0" cy="281.0" r="6.1"/>
<circle cx="450.5" cy="276.5" r="6.1"/>
<circle cx="448.3" cy="286.8" r="6.1"/>
<circle cx="318.0" cy="321.0" r="6.1"/>
<circle cx="368.0" cy="338.0" r="6.1"/>
<circle cx="374.7" cy="345.0" r="6.1"/>
<circle cx="312.0" cy="349.0" r="6.1"/>
<circle cx="416.7" cy="365.3" r="6.1"/>
<circle cx="428.3" cy="377.0" r="6.1"/>
<circle cx="442.6" cy="377.0" r="6.1"/>
<circle cx="215.4" cy="381.5" r="6.1"/>
<circle cx="332.0" cy="379.0" r="6.1"/>
<circle cx="261.6" cy="389.6" r="6.1"/>
<circle cx="356.0" cy="389.6" r="6.1"/>
<circle cx="440.5" cy="407.0" r="6.1"/>
<circle cx="221.0" cy="419.4" r="6.1"/>
<circle cx="372.0" cy="433.7" r="6.1"/>
<circle cx="397.7" cy="437.5" r="6.1"/>
<circle cx="338.0" cy="447.8" r="6.1"/>
<circle cx="446.0" cy="451.0" r="6.1"/>
<circle cx="231.6" cy="455.0" r="6.1"/>
<circle cx="420.0" cy="459.0" r="6.1"/>
<circle cx="430.0" cy="465.0" r="6.1"/>
<circle cx="390.0" cy="467.5" r="6.1"/>
<circle cx="217.0" cy="473.5" r="6.1"/>
<circle cx="347.0" cy="481.6" r="6.1"/>
<circle cx="329.5" cy="489.0" r="6.1"/>
<circle cx="394.0" cy="485.0" r="6.1"/>
<circle cx="297.6" cy="505.5" r="6.1"/>
<circle cx="368.0" cy="511.0" r="6.1"/>
<circle cx="405.8" cy="509.6" r="6.1"/>
<circle cx="448.0" cy="503.6" r="6.1"/>
<circle cx="308.0" cy="527.7" r="6.1"/>
<circle cx="329.5" cy="530.4" r="6.1"/>
<circle cx="370.0" cy="530.0" r="6.1"/>
<circle cx="424.8" cy="525.8" r="6.1"/>
<circle cx="412.0" cy="549.0" r="6.1"/>
<circle cx="434.0" cy="554.0" r="6.1"/>
<circle cx="449.0" cy="547.5" r="6.1"/>
<circle cx="167.0" cy="560.0" r="6.1"/>
<circle cx="313.8" cy="557.7" r="6.1"/>
<circle cx="380.0" cy="561.0" r="6.1"/>
<circle cx="394.0" cy="557.7" r="6.1"/>
<circle cx="277.0" cy="568.0" r="6.1"/>
<circle cx="447.8" cy="561.0" r="6.1"/>
<circle cx="447.8" cy="568.0" r="6.1"/>
<circle cx="345.0" cy="577.0" r="6.1"/>
<circle cx="354.0" cy="579.0" r="6.1"/>
<circle cx="261.6" cy="584.5" r="6.1"/>
<circle cx="402.0" cy="589.0" r="6.1"/>
<circle cx="430.0" cy="586.7" r="6.1"/>
<circle cx="438.0" cy="589.0" r="6.1"/>
<circle cx="451.8" cy="587.3" r="6.1"/>
<circle cx="428.0" cy="599.0" r="6.1"/>
<circle cx="442.0" cy="597.0" r="6.1"/>
<circle cx="403.0" cy="611.0" r="6.1"/>
<circle cx="435.6" cy="613.7" r="6.1"/>
<circle cx="313.8" cy="625.0" r="6.1"/>
<circle cx="381.5" cy="624.0" r="6.1"/>
<circle cx="405.8" cy="622.0" r="6.1"/>
<circle cx="435.6" cy="623.0" r="6.1"/>
<circle cx="357.0" cy="634.0" r="6.1"/>
<circle cx="370.6" cy="631.0" r="6.1"/>
<circle cx="411.0" cy="630.0" r="6.1"/>
<circle cx="407.0" cy="634.0" r="6.1"/>
<circle cx="263.8" cy="638.0" r="6.1"/>
<circle cx="286.0" cy="636.0" r="6.1"/>
<circle cx="389.6" cy="639.5" r="6.1"/>
<circle cx="396.0" cy="639.5" r="6.1"/>
<circle cx="430.0" cy="636.7" r="6.1"/>
<circle cx="396.0" cy="647.0" r="6.1"/>
<circle cx="423.0" cy="646.0" r="6.1"/>
<circle cx="207.0" cy="672.5" r="6.1"/>
<circle cx="322.0" cy="672.5" r="6.1"/>
<circle cx="351.7" cy="673.8" r="6.1"/>
<circle cx="368.0" cy="666.5" r="6.1"/>
<circle cx="402.0" cy="677.0" r="6.1"/>
<circle cx="396.3" cy="682.0" r="6.1"/>
<circle cx="391.0" cy="686.0" r="6.1"/>
<circle cx="393.6" cy="689.0" r="6.1"/>
<circle cx="339.5" cy="696.0" r="6.1"/>
<circle cx="324.0" cy="700.0" r="6.1"/>
<circle cx="384.0" cy="693.5" r="6.1"/>
<circle cx="374.7" cy="701.0" r="6.1"/>
<circle cx="315.0" cy="716.0" r="6.1"/>
<circle cx="324.0" cy="718.0" r="6.1"/>
<circle cx="291.7" cy="724.0" r="6.1"/>
<circle cx="347.7" cy="722.5" r="6.1"/>
<circle cx="760.0" cy="96.0" r="6.1"/>
<circle cx="683.8" cy="196.0" r="6.1"/>
<circle cx="788.0" cy="262.4" r="6.1"/>
<circle cx="593.0" cy="276.5" r="6.1"/>
<circle cx="749.8" cy="316.5" r="6.1"/>
<circle cx="643.0" cy="328.7" r="6.1"/>
<circle cx="702.0" cy="341.0" r="6.1"/>
<circle cx="663.5" cy="355.0" r="6.1"/>
<circle cx="637.0" cy="391.0" r="6.1"/>
<circle cx="605.0" cy="405.0" r="6.1"/>
<circle cx="603.0" cy="427.5" r="6.1"/>
<circle cx="786.0" cy="441.5" r="6.1"/>
<circle cx="631.0" cy="459.0" r="6.1"/>
<circle cx="621.0" cy="465.0" r="6.1"/>
<circle cx="613.0" cy="471.0" r="6.1"/>
<circle cx="637.0" cy="470.0" r="6.1"/>
<circle cx="613.0" cy="493.0" r="6.1"/>
<circle cx="651.6" cy="507.4" r="6.1"/>
<circle cx="593.4" cy="511.0" r="6.1"/>
<circle cx="608.0" cy="517.0" r="6.1"/>
<circle cx="617.7" cy="512.8" r="6.1"/>
<circle cx="628.6" cy="515.8" r="6.1"/>
<circle cx="626.4" cy="531.0" r="6.1"/>
<circle cx="832.0" cy="534.5" r="6.1"/>
<circle cx="870.7" cy="540.0" r="6.1"/>
<circle cx="638.6" cy="555.6" r="6.1"/>
<circle cx="716.0" cy="561.5" r="6.1"/>
<circle cx="685.4" cy="570.0" r="6.1"/>
<circle cx="697.6" cy="571.8" r="6.1"/>
<circle cx="637.0" cy="578.0" r="6.1"/>
<circle cx="798.0" cy="587.0" r="6.1"/>
<circle cx="866.7" cy="586.0" r="6.1"/>
<circle cx="617.0" cy="598.0" r="6.1"/>
<circle cx="636.7" cy="598.0" r="6.1"/>
<circle cx="671.0" cy="601.6" r="6.1"/>
<circle cx="623.0" cy="610.5" r="6.1"/>
<circle cx="647.5" cy="610.5" r="6.1"/>
<circle cx="636.7" cy="617.8" r="6.1"/>
<circle cx="675.0" cy="625.0" r="6.1"/>
<circle cx="695.7" cy="622.0" r="6.1"/>
<circle cx="716.0" cy="620.0" r="6.1"/>
<circle cx="627.0" cy="631.0" r="6.1"/>
<circle cx="667.0" cy="633.0" r="6.1"/>
<circle cx="645.0" cy="639.0" r="6.1"/>
<circle cx="659.7" cy="645.0" r="6.1"/>
<circle cx="627.0" cy="643.5" r="6.1"/>
<circle cx="635.0" cy="646.8" r="6.1"/>
<circle cx="683.5" cy="669.8" r="6.1"/>
<circle cx="877.0" cy="666.5" r="6.1"/>
<circle cx="637.0" cy="669.8" r="6.1"/>
<circle cx="642.0" cy="670.5" r="6.1"/>
<circle cx="770.0" cy="676.0" r="6.1"/>
<circle cx="788.0" cy="674.6" r="6.1"/>
<circle cx="736.0" cy="682.0" r="6.1"/>
<circle cx="689.5" cy="695.7" r="6.1"/>
<circle cx="687.5" cy="704.4" r="6.1"/>
<circle cx="657.8" cy="697.6" r="6.1"/>
<circle cx="862.6" cy="708.0" r="6.1"/>
<circle cx="644.8" cy="671.6" r="6.1"/>
</g>
<g fill="#3fbf6e">
<circle cx="347.0" cy="481.6" r="3.5"/>
<circle cx="420.0" cy="513.0" r="3.5"/>
<circle cx="430.0" cy="571.0" r="3.5"/>
<circle cx="394.0" cy="598.0" r="3.5"/>
<circle cx="444.4" cy="583.0" r="3"/>
<circle cx="476.7" cy="570.5" r="3.6"/>
<circle cx="589.0" cy="592.0" r="3.6"/>
<circle cx="593.4" cy="636.0" r="4.6"/>
<circle cx="675.4" cy="497.4" r="3.6"/>
<circle cx="790.0" cy="724.7" r="3.6"/>
</g>
<circle cx="617" cy="531" r="6.1" fill="#ff2a85"/>
<clipPath id="ca"><rect x="0" y="0" width="953.6" height="1000"/></clipPath>
<g font-size="30.4" clip-path="url(#ca)">
<clipPath id="cb"><rect x="0" y="0" width="478.5" height="1000"/></clipPath>
<text x="197.1" y="217.1">TF</text>
<text x="327.1" y="218.6">PPIA</text>
<text x="388.1" y="208.6" clip-path="url(#cb)">BANF1</text>
<text x="273.7" y="268.6">FOLR2</text>
<text x="377.1" y="268.6" clip-path="url(#cb)">DNPEP</text>
<text x="254.1" y="309.6">A2M</text>
<text x="342.1" y="318.6" clip-path="url(#cb)">ALDH9A1</text>
<text x="163.6" y="370.6">SPTA1</text>
<text x="250.7" y="378.1">CNN2</text>
<text x="116.1" y="413.2">SNRPD2</text>
<text x="269.6" y="413.2">DEFA3</text>
<text x="265.6" y="439.6">TPM2</text>
<text x="130.1" y="461.4">BCAM</text>
<text x="153.9" y="502.1">EEF1A1</text>
<text x="127.1" y="535.6">MYH8</text>
<text x="212.8" y="549.4">IGHA1</text>
<text x="152.0" y="590.6">MYH11</text>
<text x="190.7" y="630.6">CCT4</text>
<text x="300.1" y="654.6">CAT</text>
<text x="171.1" y="706.3">COL4A2</text>
<text x="769.7" y="108.6">CAV1</text>
<text x="694.1" y="209.6">RACK1</text>
<text x="798.7" y="275.6">RPS2</text>
<text x="600.1" y="289.6">GDI1</text>
<text x="654.7" y="330.6">LPP</text>
<text x="754.8" y="335.3">SGTA</text>
<text x="671.1" y="376.6">ADH1B</text>
<text x="646.1" y="405.6">CAP1</text>
<text x="612.1" y="438.1">LAP3</text>
<text x="791.1" y="460.6">CTSD</text>
<text x="648.1" y="474.6">GNB1</text>
<text x="815.7" y="522.9">EPX</text>
<text x="725.1" y="556.6">SEC31A</text>
<text x="856.1" y="570.6">TMED7</text>
<text x="685.8" y="608.6">HADHA</text>
<text x="793.1" y="623.6">CD59</text>
<text x="720.1" y="643.3">ESD</text>
<text x="769.7" y="654.6">AKR1B1</text>
<text x="666.9" y="668.6">ALDH2</text>
<text x="705.6" y="711.6">CORO1A</text>
<g color="#3fbf6e">
<text x="252.1" y="474.6">PHGDH</text>
<text x="340.6" y="510.2">MDH2</text>
<text x="323.8" y="581.3">PGAM1</text>
<text x="326.5" y="611.6">GPD1L</text>
<text x="484.1" y="581.3">RPE</text>
<text x="460.1" y="605.6">TALDO1</text>
<text x="554.6" y="556.2">G6PD</text>
<text x="542.1" y="584.6">PKM</text>
<text x="539.7" y="633.6">PFKL</text>
<text x="681.1" y="510.2">GAPDH</text>
<text x="800.8" y="737.6">PGK1</text>
</g>
<text x="635.1" y="538.6" color="#ff2a85">GLO1</text>
</g>
<line x1="95.1" y1="59.5" x2="95.1" y2="917.5" stroke="#000" stroke-width="4.2"/>
<line x1="93.0" y1="915.3" x2="953.2" y2="915.3" stroke="#000" stroke-width="4.4"/>
<line x1="83.0" y1="875.4" x2="93.6" y2="875.4" stroke="#000" stroke-width="4.4"/>
<line x1="83.0" y1="691.5" x2="93.6" y2="691.5" stroke="#000" stroke-width="4.4"/>
<line x1="83.0" y1="507.6" x2="93.6" y2="507.6" stroke="#000" stroke-width="4.4"/>
<line x1="83.0" y1="323.8" x2="93.6" y2="323.8" stroke="#000" stroke-width="4.4"/>
<line x1="83.0" y1="139.9" x2="93.6" y2="139.9" stroke="#000" stroke-width="4.4"/>
<line x1="136.0" y1="917.0" x2="136.0" y2="927.0" stroke="#000" stroke-width="4.4"/>
<line x1="330.6" y1="917.0" x2="330.6" y2="927.0" stroke="#000" stroke-width="4.4"/>
<line x1="525.2" y1="917.0" x2="525.2" y2="927.0" stroke="#000" stroke-width="4.4"/>
<line x1="719.8" y1="917.0" x2="719.8" y2="927.0" stroke="#000" stroke-width="4.4"/>
<line x1="914.4" y1="917.0" x2="914.4" y2="927.0" stroke="#000" stroke-width="4.4"/>
<text x="74.6" y="150.7" font-size="33" text-anchor="end">8</text>
<text x="74.6" y="326.9" font-size="33" text-anchor="end">6</text>
<text x="74.6" y="509.3" font-size="33" text-anchor="end">4</text>
<text x="74.6" y="692.4" font-size="33" text-anchor="end">2</text>
<text x="74.6" y="877.2" font-size="33" text-anchor="end">0</text>
<text x="134.1" y="963.3" font-size="30.3" text-anchor="middle">-2</text>
<text x="328.7" y="963.3" font-size="30.3" text-anchor="middle">-1</text>
<text x="524.8" y="963.3" font-size="30.3" text-anchor="middle">0</text>
<text x="719.4" y="963.3" font-size="30.3" text-anchor="middle">1</text>
<text x="914.0" y="963.3" font-size="30.3" text-anchor="middle">2</text>
<text x="31.8" y="547.0" font-size="30" text-anchor="middle" transform="rotate(-90 31.8 547.0)">-log p-value</text>
<text x="233.2" y="1005.6" font-size="30.62">log<tspan font-size="18" dy="10.2">2</tspan><tspan dy="-10.2"> FC of Cys</tspan><tspan font-size="18" dy="10.2">red</tspan><tspan dy="-10.2">/Cys</tspan><tspan font-size="18" dy="10.2">ox</tspan><tspan dy="-10.2"> ratio healthy to tumor</tspan></text>
<text x="990.0" y="66.1" font-size="88">B</text>
<text x="1281.4" y="33.5" font-size="30.7" text-anchor="middle">More oxidized in tumor</text>
<text x="1279.5" y="67.6" font-size="30.7" text-anchor="middle">(183 proteins)</text>
<text x="1681.3" y="33.5" font-size="30.7" text-anchor="middle">More oxidized in healthy</text>
<text x="1670.5" y="67.6" font-size="30.7" text-anchor="middle">(219 proteins)</text>
<circle cx="1400" cy="273.7" r="184.5" fill="#f8f0e1"/>
<circle cx="1580.6" cy="273.7" r="184.5" fill="#eeecf2"/>
<clipPath id="cl"><circle cx="1400" cy="273.7" r="184.5"/></clipPath>
<circle cx="1580.6" cy="273.7" r="184.5" fill="#ede0d7" clip-path="url(#cl)"/>
<circle cx="1400" cy="273.7" r="184.5" fill="none" stroke="#595652" stroke-width="3"/>
<circle cx="1580.6" cy="273.7" r="184.5" fill="none" stroke="#56565a" stroke-width="3"/>
<text x="1335.8" y="278.8" font-size="30.7" text-anchor="middle">150</text>
<text x="1499.0" y="282.0" font-size="30.7" text-anchor="middle">33</text>
<text x="1650.6" y="282.0" font-size="30.7" text-anchor="middle">186</text>
<line x1="1298.5" y1="296.6" x2="1254.2" y2="514.4" stroke="#8e1b50" stroke-width="2.6" stroke-dasharray="7.5 6"/>
<line x1="1361.4" y1="292.0" x2="1417.8" y2="514.4" stroke="#8e1b50" stroke-width="2.6" stroke-dasharray="7.5 6"/>
<line x1="1615.2" y1="296.6" x2="1570.5" y2="514.4" stroke="#8e1b50" stroke-width="2.6" stroke-dasharray="7.5 6"/>
<line x1="1675.8" y1="294.7" x2="1732.6" y2="514.4" stroke="#8e1b50" stroke-width="2.6" stroke-dasharray="7.5 6"/>
<rect x="1253.5" y="514.4" width="165.9" height="209.0" fill="#f6e0e1" stroke="#5a5a5a" stroke-width="2.4"/>
<rect x="1253.5" y="723.4" width="165.9" height="62.0" fill="#c29653" stroke="#5a5a5a" stroke-width="2.4"/>
<rect x="1253.5" y="785.4" width="165.9" height="34.6" fill="#9bc6f9" stroke="#5a5a5a" stroke-width="2.4"/>
<rect x="1253.5" y="820.0" width="165.9" height="25.2" fill="#d6d6d6" stroke="#5a5a5a" stroke-width="2.4"/>
<rect x="1569.6" y="514.4" width="166.0" height="146.6" fill="#f6e0e1" stroke="#5a5a5a" stroke-width="2.4"/>
<rect x="1569.6" y="661.0" width="166.0" height="75.5" fill="#c29653" stroke="#5a5a5a" stroke-width="2.4"/>
<rect x="1569.6" y="736.5" width="166.0" height="80.7" fill="#9bc6f9" stroke="#5a5a5a" stroke-width="2.4"/>
<rect x="1569.6" y="817.2" width="166.0" height="28.0" fill="#d6d6d6" stroke="#5a5a5a" stroke-width="2.4"/>
<text x="1401.5" y="632.2" font-size="30.7" text-anchor="end">63.33%</text>
<text x="1399.5" y="765.3" font-size="30.7" text-anchor="end">18.67%</text>
<text x="1399.5" y="813.3" font-size="30.7" text-anchor="end">10.67%</text>
<text x="1396.0" y="841.6" font-size="30.7" text-anchor="end">7.33%</text>
<text x="1720.5" y="605.5" font-size="30.7" text-anchor="end">42.62%</text>
<text x="1720.0" y="707.6" font-size="30.7" text-anchor="end">22.58%</text>
<text x="1718.5" y="787.5" font-size="30.7" text-anchor="end">24.73%</text>
<text x="1715.5" y="839.3" font-size="30.7" text-anchor="end">8.06%</text>
<rect x="1110.4" y="879.5" width="372.5" height="50.5" fill="#f6e0e1" stroke="#5a5a5a" stroke-width="2.6"/>
<text x="1282.8" y="912.6" font-size="30.75" text-anchor="middle">cytoplasm</text>
<rect x="1492" y="879.5" width="373.4" height="50.5" fill="#c29653" stroke="#5a5a5a" stroke-width="2.6"/>
<text x="1675.0" y="912.6" font-size="30.75" text-anchor="middle">organelle/membrane</text>
<rect x="1110.4" y="939.4" width="373.1" height="49.8" fill="#9bc6f9" stroke="#5a5a5a" stroke-width="2.6"/>
<text x="1286.0" y="973.3" font-size="30.75" text-anchor="middle">extracellular/secreted</text>
<rect x="1492" y="939.4" width="373.4" height="49.8" fill="#d6d6d6" stroke="#5a5a5a" stroke-width="2.6"/>
<text x="1675.2" y="973.3" font-size="30.75" text-anchor="middle">no data</text>
<text x="3.2" y="1117.2" font-size="88">C</text>
<line x1="130.2" y1="1146.9" x2="130.2" y2="1573.2" stroke="#000" stroke-width="3.3"/>
<line x1="112.5" y1="1571.6" x2="553.8" y2="1571.6" stroke="#000" stroke-width="3.3"/>
<line x1="112.5" y1="1148.5" x2="130.7" y2="1148.5" stroke="#000" stroke-width="3.2"/>
<line x1="112.5" y1="1289.5" x2="130.7" y2="1289.5" stroke="#000" stroke-width="3.2"/>
<line x1="112.5" y1="1430.5" x2="130.7" y2="1430.5" stroke="#000" stroke-width="3.2"/>
<line x1="194.0" y1="1571.6" x2="194.0" y2="1588.0" stroke="#000" stroke-width="3.2"/>
<line x1="340.0" y1="1571.6" x2="340.0" y2="1588.0" stroke="#000" stroke-width="3.2"/>
<line x1="486.7" y1="1571.6" x2="486.7" y2="1588.0" stroke="#000" stroke-width="3.2"/>
<text x="101.5" y="1161.7" font-size="31.5" text-anchor="end">30</text>
<text x="101.5" y="1302.0" font-size="31.5" text-anchor="end">20</text>
<text x="101.5" y="1442.8" font-size="31.5" text-anchor="end">10</text>
<text x="101.5" y="1584.0" font-size="31.5" text-anchor="end">0</text>
<text x="188.5" y="1630.7" font-size="30.7" text-anchor="middle">SOD1</text>
<text x="336.3" y="1630.7" font-size="30.7" text-anchor="middle">SOD2</text>
<text x="483.0" y="1630.7" font-size="30.7" text-anchor="middle">SOD3</text>
<text x="32.0" y="1487.6" font-size="29.6" transform="rotate(-90 32.0 1487.6)">log</text>
<text x="42.0" y="1445.6" font-size="27" transform="rotate(-90 42.0 1445.6)">2</text>
<text x="32.0" y="1413.2" font-size="29.6" transform="rotate(-90 32.0 1413.2)">LFQ intensity</text>
<text x="32.0" y="2025.6" font-size="29.6" transform="rotate(-90 32.0 2025.6)">log</text>
<text x="42.0" y="1983.6" font-size="27" transform="rotate(-90 42.0 1983.6)">2</text>
<text x="32.0" y="1951.2" font-size="29.6" transform="rotate(-90 32.0 1951.2)">LFQ intensity</text>
<text x="190.5" y="1149.6" font-size="30.5" text-anchor="middle">0.23</text>
<text x="292.4" y="1143.3" font-size="30.5">1.3x10<tspan font-size="17.5" dy="-10">-5</tspan></text>
<text x="433.7" y="1143.3" font-size="30.5">3.6x10<tspan font-size="17.5" dy="-10">-9</tspan></text>
<path d="M166.7,1234.5V1166.9H221.6V1224.2" fill="none" stroke="#000" stroke-width="3.0"/>
<path d="M313.3,1221.2V1166.9H368.6V1191.3" fill="none" stroke="#000" stroke-width="3.0"/>
<path d="M459.5,1236.4V1166.9H515.2V1240.5" fill="none" stroke="#000" stroke-width="3.0"/>
<path d="M167.2,1250.3l4.6,4.6l-4.6,4.6l-4.6,-4.6zM166.9,1254.0l4.6,4.6l-4.6,4.6l-4.6,-4.6zM170.0,1264.2l4.6,4.6l-4.6,4.6l-4.6,-4.6zM164.0,1264.1l4.6,4.6l-4.6,4.6l-4.6,-4.6zM166.4,1269.9l4.6,4.6l-4.6,4.6l-4.6,-4.6zM167.0,1275.5l4.6,4.6l-4.6,4.6l-4.6,-4.6zM173.5,1282.7l4.6,4.6l-4.6,4.6l-4.6,-4.6zM169.6,1281.8l4.6,4.6l-4.6,4.6l-4.6,-4.6zM164.6,1282.7l4.6,4.6l-4.6,4.6l-4.6,-4.6zM158.5,1281.8l4.6,4.6l-4.6,4.6l-4.6,-4.6zM168.6,1286.7l4.6,4.6l-4.6,4.6l-4.6,-4.6zM165.0,1285.6l4.6,4.6l-4.6,4.6l-4.6,-4.6zM161.9,1290.3l4.6,4.6l-4.6,4.6l-4.6,-4.6zM167.5,1290.4l4.6,4.6l-4.6,4.6l-4.6,-4.6zM176.7,1288.3l4.6,4.6l-4.6,4.6l-4.6,-4.6zM157.4,1289.9l4.6,4.6l-4.6,4.6l-4.6,-4.6zM172.3,1288.4l4.6,4.6l-4.6,4.6l-4.6,-4.6zM167.2,1294.1l4.6,4.6l-4.6,4.6l-4.6,-4.6zM163.8,1299.1l4.6,4.6l-4.6,4.6l-4.6,-4.6zM178.7,1299.1l4.6,4.6l-4.6,4.6l-4.6,-4.6zM174.4,1299.2l4.6,4.6l-4.6,4.6l-4.6,-4.6zM169.9,1297.8l4.6,4.6l-4.6,4.6l-4.6,-4.6zM154.5,1298.2l4.6,4.6l-4.6,4.6l-4.6,-4.6zM159.8,1299.5l4.6,4.6l-4.6,4.6l-4.6,-4.6zM159.9,1304.3l4.6,4.6l-4.6,4.6l-4.6,-4.6zM169.9,1302.3l4.6,4.6l-4.6,4.6l-4.6,-4.6zM174.7,1303.4l4.6,4.6l-4.6,4.6l-4.6,-4.6zM164.7,1303.8l4.6,4.6l-4.6,4.6l-4.6,-4.6zM156.6,1305.5l4.6,4.6l-4.6,4.6l-4.6,-4.6zM152.6,1305.8l4.6,4.6l-4.6,4.6l-4.6,-4.6zM171.9,1305.8l4.6,4.6l-4.6,4.6l-4.6,-4.6zM176.6,1306.2l4.6,4.6l-4.6,4.6l-4.6,-4.6zM161.4,1307.9l4.6,4.6l-4.6,4.6l-4.6,-4.6zM181.0,1306.8l4.6,4.6l-4.6,4.6l-4.6,-4.6zM166.9,1307.3l4.6,4.6l-4.6,4.6l-4.6,-4.6zM161.0,1310.2l4.6,4.6l-4.6,4.6l-4.6,-4.6zM153.0,1312.8l4.6,4.6l-4.6,4.6l-4.6,-4.6zM177.1,1311.5l4.6,4.6l-4.6,4.6l-4.6,-4.6zM180.5,1310.1l4.6,4.6l-4.6,4.6l-4.6,-4.6zM172.0,1311.5l4.6,4.6l-4.6,4.6l-4.6,-4.6zM165.3,1312.6l4.6,4.6l-4.6,4.6l-4.6,-4.6zM168.2,1312.2l4.6,4.6l-4.6,4.6l-4.6,-4.6zM157.2,1311.3l4.6,4.6l-4.6,4.6l-4.6,-4.6zM163.7,1315.2l4.6,4.6l-4.6,4.6l-4.6,-4.6zM169.2,1316.4l4.6,4.6l-4.6,4.6l-4.6,-4.6zM156.5,1319.7l4.6,4.6l-4.6,4.6l-4.6,-4.6zM166.3,1319.9l4.6,4.6l-4.6,4.6l-4.6,-4.6zM162.0,1319.6l4.6,4.6l-4.6,4.6l-4.6,-4.6zM177.0,1320.0l4.6,4.6l-4.6,4.6l-4.6,-4.6zM170.9,1321.5l4.6,4.6l-4.6,4.6l-4.6,-4.6zM159.9,1323.4l4.6,4.6l-4.6,4.6l-4.6,-4.6zM163.5,1323.4l4.6,4.6l-4.6,4.6l-4.6,-4.6zM173.6,1325.4l4.6,4.6l-4.6,4.6l-4.6,-4.6zM169.2,1322.8l4.6,4.6l-4.6,4.6l-4.6,-4.6zM164.9,1332.3l4.6,4.6l-4.6,4.6l-4.6,-4.6zM169.5,1331.9l4.6,4.6l-4.6,4.6l-4.6,-4.6zM164.3,1338.3l4.6,4.6l-4.6,4.6l-4.6,-4.6zM168.6,1337.7l4.6,4.6l-4.6,4.6l-4.6,-4.6zM165.9,1341.8l4.6,4.6l-4.6,4.6l-4.6,-4.6zM167.2,1345.6l4.6,4.6l-4.6,4.6l-4.6,-4.6zM167.4,1350.4l4.6,4.6l-4.6,4.6l-4.6,-4.6zM161.2,1349.1l4.6,4.6l-4.6,4.6l-4.6,-4.6zM172.0,1351.1l4.6,4.6l-4.6,4.6l-4.6,-4.6zM169.2,1357.2l4.6,4.6l-4.6,4.6l-4.6,-4.6zM165.0,1359.5l4.6,4.6l-4.6,4.6l-4.6,-4.6zM169.6,1366.6l4.6,4.6l-4.6,4.6l-4.6,-4.6zM164.4,1366.9l4.6,4.6l-4.6,4.6l-4.6,-4.6zM166.7,1371.7l4.6,4.6l-4.6,4.6l-4.6,-4.6z" fill="#000"/>
<line x1="148.7" y1="1319.5" x2="184.7" y2="1319.5" stroke="#c9313b" stroke-width="4.4"/>
<path d="M217.7,1241.5h8.2v8.2h-8.2zM217.9,1250.1h8.2v8.2h-8.2zM215.3,1260.5h8.2v8.2h-8.2zM220.1,1261.1h8.2v8.2h-8.2zM220.4,1262.9h8.2v8.2h-8.2zM214.2,1264.7h8.2v8.2h-8.2zM216.9,1267.6h8.2v8.2h-8.2zM222.7,1267.5h8.2v8.2h-8.2zM212.1,1268.4h8.2v8.2h-8.2zM222.3,1271.5h8.2v8.2h-8.2zM217.8,1272.7h8.2v8.2h-8.2zM211.7,1272.7h8.2v8.2h-8.2zM216.7,1276.2h8.2v8.2h-8.2zM224.6,1280.4h8.2v8.2h-8.2zM219.4,1281.7h8.2v8.2h-8.2zM209.6,1282.2h8.2v8.2h-8.2zM215.0,1282.3h8.2v8.2h-8.2zM208.7,1287.0h8.2v8.2h-8.2zM231.5,1287.1h8.2v8.2h-8.2zM217.0,1284.7h8.2v8.2h-8.2zM222.6,1286.7h8.2v8.2h-8.2zM226.2,1286.6h8.2v8.2h-8.2zM212.4,1284.3h8.2v8.2h-8.2zM202.6,1285.6h8.2v8.2h-8.2zM217.5,1290.8h8.2v8.2h-8.2zM218.2,1293.1h8.2v8.2h-8.2zM214.9,1297.4h8.2v8.2h-8.2zM219.8,1298.9h8.2v8.2h-8.2zM220.3,1302.1h8.2v8.2h-8.2zM215.0,1301.2h8.2v8.2h-8.2zM224.9,1307.9h8.2v8.2h-8.2zM214.9,1307.3h8.2v8.2h-8.2zM219.8,1306.0h8.2v8.2h-8.2zM209.9,1305.9h8.2v8.2h-8.2zM210.4,1310.6h8.2v8.2h-8.2zM229.2,1311.5h8.2v8.2h-8.2zM224.4,1311.1h8.2v8.2h-8.2zM220.6,1312.7h8.2v8.2h-8.2zM205.6,1310.8h8.2v8.2h-8.2zM214.4,1311.5h8.2v8.2h-8.2zM215.1,1315.8h8.2v8.2h-8.2zM220.0,1317.1h8.2v8.2h-8.2zM220.2,1320.6h8.2v8.2h-8.2zM214.9,1320.2h8.2v8.2h-8.2zM210.2,1318.4h8.2v8.2h-8.2zM224.8,1321.5h8.2v8.2h-8.2zM219.7,1322.9h8.2v8.2h-8.2zM214.6,1324.2h8.2v8.2h-8.2zM225.5,1327.8h8.2v8.2h-8.2zM230.6,1328.2h8.2v8.2h-8.2zM219.8,1330.0h8.2v8.2h-8.2zM215.0,1329.2h8.2v8.2h-8.2zM204.3,1327.0h8.2v8.2h-8.2zM209.5,1327.3h8.2v8.2h-8.2zM227.8,1331.4h8.2v8.2h-8.2zM202.7,1332.1h8.2v8.2h-8.2zM232.0,1332.0h8.2v8.2h-8.2zM212.0,1333.9h8.2v8.2h-8.2zM207.3,1331.9h8.2v8.2h-8.2zM222.7,1334.2h8.2v8.2h-8.2zM218.7,1333.1h8.2v8.2h-8.2zM214.8,1333.4h8.2v8.2h-8.2zM215.5,1336.0h8.2v8.2h-8.2zM220.3,1338.1h8.2v8.2h-8.2zM222.6,1341.1h8.2v8.2h-8.2zM213.2,1340.7h8.2v8.2h-8.2zM218.1,1340.9h8.2v8.2h-8.2zM217.3,1345.2h8.2v8.2h-8.2zM214.6,1349.7h8.2v8.2h-8.2zM220.3,1349.6h8.2v8.2h-8.2zM225.3,1348.8h8.2v8.2h-8.2zM210.5,1350.3h8.2v8.2h-8.2zM218.1,1353.8h8.2v8.2h-8.2zM216.8,1376.9h8.2v8.2h-8.2zM214.6,1379.5h8.2v8.2h-8.2zM219.4,1379.0h8.2v8.2h-8.2z" fill="none" stroke="#000" stroke-width="1.1"/>
<line x1="203.5" y1="1314.4" x2="239.5" y2="1314.4" stroke="#c9313b" stroke-width="4.4"/>
<path d="M313.9,1240.3l4.6,4.6l-4.6,4.6l-4.6,-4.6zM312.7,1242.9l4.6,4.6l-4.6,4.6l-4.6,-4.6zM310.8,1247.0l4.6,4.6l-4.6,4.6l-4.6,-4.6zM312.6,1246.8l4.6,4.6l-4.6,4.6l-4.6,-4.6zM316.6,1246.0l4.6,4.6l-4.6,4.6l-4.6,-4.6zM310.5,1251.9l4.6,4.6l-4.6,4.6l-4.6,-4.6zM307.4,1250.7l4.6,4.6l-4.6,4.6l-4.6,-4.6zM320.2,1253.1l4.6,4.6l-4.6,4.6l-4.6,-4.6zM317.2,1252.2l4.6,4.6l-4.6,4.6l-4.6,-4.6zM313.5,1251.9l4.6,4.6l-4.6,4.6l-4.6,-4.6zM312.6,1254.7l4.6,4.6l-4.6,4.6l-4.6,-4.6zM323.9,1255.3l4.6,4.6l-4.6,4.6l-4.6,-4.6zM304.1,1257.0l4.6,4.6l-4.6,4.6l-4.6,-4.6zM309.3,1254.9l4.6,4.6l-4.6,4.6l-4.6,-4.6zM316.8,1255.1l4.6,4.6l-4.6,4.6l-4.6,-4.6zM320.2,1256.8l4.6,4.6l-4.6,4.6l-4.6,-4.6zM306.3,1256.1l4.6,4.6l-4.6,4.6l-4.6,-4.6zM319.3,1260.7l4.6,4.6l-4.6,4.6l-4.6,-4.6zM326.9,1259.6l4.6,4.6l-4.6,4.6l-4.6,-4.6zM325.0,1260.4l4.6,4.6l-4.6,4.6l-4.6,-4.6zM301.9,1261.0l4.6,4.6l-4.6,4.6l-4.6,-4.6zM313.8,1259.4l4.6,4.6l-4.6,4.6l-4.6,-4.6zM310.5,1261.2l4.6,4.6l-4.6,4.6l-4.6,-4.6zM322.0,1259.1l4.6,4.6l-4.6,4.6l-4.6,-4.6zM299.9,1262.0l4.6,4.6l-4.6,4.6l-4.6,-4.6zM304.8,1258.9l4.6,4.6l-4.6,4.6l-4.6,-4.6zM315.3,1259.0l4.6,4.6l-4.6,4.6l-4.6,-4.6zM307.6,1261.3l4.6,4.6l-4.6,4.6l-4.6,-4.6zM323.9,1264.7l4.6,4.6l-4.6,4.6l-4.6,-4.6zM306.3,1264.2l4.6,4.6l-4.6,4.6l-4.6,-4.6zM303.5,1264.8l4.6,4.6l-4.6,4.6l-4.6,-4.6zM316.3,1265.7l4.6,4.6l-4.6,4.6l-4.6,-4.6zM319.6,1265.9l4.6,4.6l-4.6,4.6l-4.6,-4.6zM310.0,1263.6l4.6,4.6l-4.6,4.6l-4.6,-4.6zM313.9,1265.4l4.6,4.6l-4.6,4.6l-4.6,-4.6zM301.7,1269.8l4.6,4.6l-4.6,4.6l-4.6,-4.6zM309.0,1270.4l4.6,4.6l-4.6,4.6l-4.6,-4.6zM305.5,1268.1l4.6,4.6l-4.6,4.6l-4.6,-4.6zM318.0,1267.5l4.6,4.6l-4.6,4.6l-4.6,-4.6zM311.2,1268.6l4.6,4.6l-4.6,4.6l-4.6,-4.6zM314.4,1269.0l4.6,4.6l-4.6,4.6l-4.6,-4.6zM321.0,1269.6l4.6,4.6l-4.6,4.6l-4.6,-4.6zM324.7,1268.3l4.6,4.6l-4.6,4.6l-4.6,-4.6zM317.1,1272.5l4.6,4.6l-4.6,4.6l-4.6,-4.6zM320.2,1274.2l4.6,4.6l-4.6,4.6l-4.6,-4.6zM310.6,1272.6l4.6,4.6l-4.6,4.6l-4.6,-4.6zM313.1,1271.8l4.6,4.6l-4.6,4.6l-4.6,-4.6zM307.3,1271.9l4.6,4.6l-4.6,4.6l-4.6,-4.6zM317.9,1277.5l4.6,4.6l-4.6,4.6l-4.6,-4.6zM315.7,1276.6l4.6,4.6l-4.6,4.6l-4.6,-4.6zM308.5,1276.3l4.6,4.6l-4.6,4.6l-4.6,-4.6zM312.4,1278.5l4.6,4.6l-4.6,4.6l-4.6,-4.6zM313.8,1282.8l4.6,4.6l-4.6,4.6l-4.6,-4.6zM312.8,1285.5l4.6,4.6l-4.6,4.6l-4.6,-4.6z" fill="#000"/>
<line x1="295.3" y1="1267.9" x2="331.3" y2="1267.9" stroke="#c9313b" stroke-width="4.4"/>
<path d="M363.6,1212.7h8.2v8.2h-8.2zM363.6,1224.4h8.2v8.2h-8.2zM363.8,1231.0h8.2v8.2h-8.2zM366.7,1232.9h8.2v8.2h-8.2zM368.7,1233.6h8.2v8.2h-8.2zM363.1,1232.7h8.2v8.2h-8.2zM359.8,1234.1h8.2v8.2h-8.2zM361.1,1237.1h8.2v8.2h-8.2zM371.3,1239.8h8.2v8.2h-8.2zM367.4,1238.9h8.2v8.2h-8.2zM358.2,1238.9h8.2v8.2h-8.2zM363.7,1237.1h8.2v8.2h-8.2zM369.6,1241.5h8.2v8.2h-8.2zM362.7,1244.0h8.2v8.2h-8.2zM365.2,1241.8h8.2v8.2h-8.2zM359.3,1242.2h8.2v8.2h-8.2zM369.5,1248.3h8.2v8.2h-8.2zM372.8,1247.0h8.2v8.2h-8.2zM363.1,1246.9h8.2v8.2h-8.2zM358.6,1247.1h8.2v8.2h-8.2zM365.8,1246.4h8.2v8.2h-8.2zM355.9,1246.0h8.2v8.2h-8.2zM352.4,1247.7h8.2v8.2h-8.2zM376.5,1246.8h8.2v8.2h-8.2zM379.0,1251.9h8.2v8.2h-8.2zM369.0,1249.9h8.2v8.2h-8.2zM366.4,1249.7h8.2v8.2h-8.2zM359.1,1252.3h8.2v8.2h-8.2zM350.0,1250.1h8.2v8.2h-8.2zM372.2,1251.5h8.2v8.2h-8.2zM362.9,1252.2h8.2v8.2h-8.2zM352.8,1251.4h8.2v8.2h-8.2zM355.9,1252.6h8.2v8.2h-8.2zM374.8,1252.1h8.2v8.2h-8.2zM356.3,1256.8h8.2v8.2h-8.2zM365.3,1256.4h8.2v8.2h-8.2zM358.6,1255.9h8.2v8.2h-8.2zM362.7,1254.1h8.2v8.2h-8.2zM369.1,1256.0h8.2v8.2h-8.2zM373.1,1254.1h8.2v8.2h-8.2zM355.3,1259.3h8.2v8.2h-8.2zM359.5,1258.8h8.2v8.2h-8.2zM350.1,1260.6h8.2v8.2h-8.2zM367.6,1258.5h8.2v8.2h-8.2zM369.2,1258.6h8.2v8.2h-8.2zM379.0,1258.8h8.2v8.2h-8.2zM362.3,1260.0h8.2v8.2h-8.2zM364.0,1259.0h8.2v8.2h-8.2zM353.1,1258.8h8.2v8.2h-8.2zM375.0,1258.3h8.2v8.2h-8.2zM372.8,1260.5h8.2v8.2h-8.2zM366.1,1264.3h8.2v8.2h-8.2zM361.9,1263.8h8.2v8.2h-8.2zM372.1,1264.1h8.2v8.2h-8.2zM360.0,1263.3h8.2v8.2h-8.2zM368.5,1264.0h8.2v8.2h-8.2zM356.4,1263.5h8.2v8.2h-8.2zM365.3,1268.1h8.2v8.2h-8.2zM363.4,1268.1h8.2v8.2h-8.2zM359.4,1269.2h8.2v8.2h-8.2zM369.7,1269.2h8.2v8.2h-8.2zM361.9,1273.4h8.2v8.2h-8.2zM365.5,1271.8h8.2v8.2h-8.2zM366.7,1289.3h8.2v8.2h-8.2zM363.3,1288.7h8.2v8.2h-8.2zM364.9,1295.7h8.2v8.2h-8.2zM363.7,1302.3h8.2v8.2h-8.2z" fill="none" stroke="#000" stroke-width="1.1"/>
<line x1="350.4" y1="1259.8" x2="386.4" y2="1259.8" stroke="#c9313b" stroke-width="4.4"/>
<path d="M460.7,1253.9l4.6,4.6l-4.6,4.6l-4.6,-4.6zM459.3,1257.0l4.6,4.6l-4.6,4.6l-4.6,-4.6zM460.5,1263.8l4.6,4.6l-4.6,4.6l-4.6,-4.6zM463.7,1272.8l4.6,4.6l-4.6,4.6l-4.6,-4.6zM459.3,1274.0l4.6,4.6l-4.6,4.6l-4.6,-4.6zM456.9,1274.5l4.6,4.6l-4.6,4.6l-4.6,-4.6zM461.1,1277.7l4.6,4.6l-4.6,4.6l-4.6,-4.6zM468.7,1279.5l4.6,4.6l-4.6,4.6l-4.6,-4.6zM452.5,1279.6l4.6,4.6l-4.6,4.6l-4.6,-4.6zM458.5,1277.3l4.6,4.6l-4.6,4.6l-4.6,-4.6zM465.1,1279.1l4.6,4.6l-4.6,4.6l-4.6,-4.6zM455.7,1278.1l4.6,4.6l-4.6,4.6l-4.6,-4.6zM461.1,1283.9l4.6,4.6l-4.6,4.6l-4.6,-4.6zM453.3,1283.3l4.6,4.6l-4.6,4.6l-4.6,-4.6zM458.2,1283.7l4.6,4.6l-4.6,4.6l-4.6,-4.6zM451.1,1282.2l4.6,4.6l-4.6,4.6l-4.6,-4.6zM456.2,1281.4l4.6,4.6l-4.6,4.6l-4.6,-4.6zM446.5,1282.0l4.6,4.6l-4.6,4.6l-4.6,-4.6zM449.3,1283.4l4.6,4.6l-4.6,4.6l-4.6,-4.6zM473.7,1283.3l4.6,4.6l-4.6,4.6l-4.6,-4.6zM471.3,1282.0l4.6,4.6l-4.6,4.6l-4.6,-4.6zM468.2,1281.6l4.6,4.6l-4.6,4.6l-4.6,-4.6zM464.0,1283.0l4.6,4.6l-4.6,4.6l-4.6,-4.6zM465.7,1283.9l4.6,4.6l-4.6,4.6l-4.6,-4.6zM462.9,1285.9l4.6,4.6l-4.6,4.6l-4.6,-4.6zM450.3,1288.2l4.6,4.6l-4.6,4.6l-4.6,-4.6zM459.2,1287.5l4.6,4.6l-4.6,4.6l-4.6,-4.6zM446.9,1286.8l4.6,4.6l-4.6,4.6l-4.6,-4.6zM469.8,1285.2l4.6,4.6l-4.6,4.6l-4.6,-4.6zM456.5,1286.9l4.6,4.6l-4.6,4.6l-4.6,-4.6zM472.9,1288.4l4.6,4.6l-4.6,4.6l-4.6,-4.6zM453.1,1287.9l4.6,4.6l-4.6,4.6l-4.6,-4.6zM467.1,1287.7l4.6,4.6l-4.6,4.6l-4.6,-4.6zM451.6,1291.5l4.6,4.6l-4.6,4.6l-4.6,-4.6zM458.6,1291.9l4.6,4.6l-4.6,4.6l-4.6,-4.6zM471.0,1289.7l4.6,4.6l-4.6,4.6l-4.6,-4.6zM449.4,1290.6l4.6,4.6l-4.6,4.6l-4.6,-4.6zM455.5,1291.5l4.6,4.6l-4.6,4.6l-4.6,-4.6zM446.7,1290.9l4.6,4.6l-4.6,4.6l-4.6,-4.6zM464.3,1290.7l4.6,4.6l-4.6,4.6l-4.6,-4.6zM473.5,1292.0l4.6,4.6l-4.6,4.6l-4.6,-4.6zM462.0,1290.5l4.6,4.6l-4.6,4.6l-4.6,-4.6zM467.9,1290.6l4.6,4.6l-4.6,4.6l-4.6,-4.6zM464.3,1296.0l4.6,4.6l-4.6,4.6l-4.6,-4.6zM468.9,1296.9l4.6,4.6l-4.6,4.6l-4.6,-4.6zM462.1,1294.0l4.6,4.6l-4.6,4.6l-4.6,-4.6zM458.3,1294.5l4.6,4.6l-4.6,4.6l-4.6,-4.6zM451.1,1294.6l4.6,4.6l-4.6,4.6l-4.6,-4.6zM455.4,1295.6l4.6,4.6l-4.6,4.6l-4.6,-4.6zM461.0,1298.5l4.6,4.6l-4.6,4.6l-4.6,-4.6zM458.7,1301.2l4.6,4.6l-4.6,4.6l-4.6,-4.6zM460.5,1302.5l4.6,4.6l-4.6,4.6l-4.6,-4.6zM459.4,1308.1l4.6,4.6l-4.6,4.6l-4.6,-4.6zM460.3,1314.1l4.6,4.6l-4.6,4.6l-4.6,-4.6zM459.7,1325.4l4.6,4.6l-4.6,4.6l-4.6,-4.6zM460.7,1369.6l4.6,4.6l-4.6,4.6l-4.6,-4.6z" fill="#000"/>
<line x1="442.0" y1="1291.6" x2="478.0" y2="1291.6" stroke="#c9313b" stroke-width="4.4"/>
<path d="M510.0,1256.5h8.2v8.2h-8.2zM511.2,1263.6h8.2v8.2h-8.2zM509.7,1276.3h8.2v8.2h-8.2zM509.9,1279.8h8.2v8.2h-8.2zM515.5,1289.3h8.2v8.2h-8.2zM521.0,1289.4h8.2v8.2h-8.2zM508.4,1288.5h8.2v8.2h-8.2zM505.6,1288.3h8.2v8.2h-8.2zM499.7,1288.3h8.2v8.2h-8.2zM524.1,1286.7h8.2v8.2h-8.2zM510.9,1287.8h8.2v8.2h-8.2zM518.3,1288.2h8.2v8.2h-8.2zM496.1,1287.2h8.2v8.2h-8.2zM513.9,1288.4h8.2v8.2h-8.2zM502.5,1289.0h8.2v8.2h-8.2zM498.3,1293.5h8.2v8.2h-8.2zM522.8,1293.0h8.2v8.2h-8.2zM511.8,1290.7h8.2v8.2h-8.2zM501.8,1293.2h8.2v8.2h-8.2zM515.6,1293.9h8.2v8.2h-8.2zM509.1,1291.7h8.2v8.2h-8.2zM505.5,1293.4h8.2v8.2h-8.2zM518.9,1293.6h8.2v8.2h-8.2zM505.1,1295.9h8.2v8.2h-8.2zM500.8,1297.0h8.2v8.2h-8.2zM516.2,1297.2h8.2v8.2h-8.2zM519.3,1297.7h8.2v8.2h-8.2zM507.9,1295.4h8.2v8.2h-8.2zM511.5,1296.8h8.2v8.2h-8.2zM500.7,1299.4h8.2v8.2h-8.2zM513.0,1302.1h8.2v8.2h-8.2zM508.0,1301.4h8.2v8.2h-8.2zM519.5,1301.0h8.2v8.2h-8.2zM505.6,1301.4h8.2v8.2h-8.2zM516.6,1301.5h8.2v8.2h-8.2zM512.8,1306.7h8.2v8.2h-8.2zM509.1,1304.9h8.2v8.2h-8.2zM515.9,1306.1h8.2v8.2h-8.2zM504.4,1305.3h8.2v8.2h-8.2zM523.2,1305.9h8.2v8.2h-8.2zM501.2,1305.5h8.2v8.2h-8.2zM498.3,1304.8h8.2v8.2h-8.2zM519.8,1306.5h8.2v8.2h-8.2zM500.1,1309.2h8.2v8.2h-8.2zM521.5,1309.4h8.2v8.2h-8.2zM517.4,1308.6h8.2v8.2h-8.2zM509.9,1308.4h8.2v8.2h-8.2zM514.8,1308.8h8.2v8.2h-8.2zM503.5,1310.5h8.2v8.2h-8.2zM506.6,1308.6h8.2v8.2h-8.2zM513.0,1312.7h8.2v8.2h-8.2zM508.3,1312.6h8.2v8.2h-8.2zM520.2,1313.2h8.2v8.2h-8.2zM501.2,1312.7h8.2v8.2h-8.2zM515.5,1314.3h8.2v8.2h-8.2zM497.8,1314.5h8.2v8.2h-8.2zM505.2,1313.2h8.2v8.2h-8.2zM522.9,1314.3h8.2v8.2h-8.2zM509.7,1318.1h8.2v8.2h-8.2zM510.7,1322.4h8.2v8.2h-8.2zM503.7,1328.3h8.2v8.2h-8.2zM517.1,1326.6h8.2v8.2h-8.2zM510.0,1326.2h8.2v8.2h-8.2zM513.8,1326.4h8.2v8.2h-8.2zM507.1,1326.6h8.2v8.2h-8.2zM509.8,1338.1h8.2v8.2h-8.2zM513.1,1342.7h8.2v8.2h-8.2zM508.3,1342.8h8.2v8.2h-8.2z" fill="none" stroke="#000" stroke-width="1.1"/>
<line x1="496.6" y1="1308.5" x2="532.6" y2="1308.5" stroke="#c9313b" stroke-width="4.4"/>
<path d="M407,1460.7l14.4,14.4l-14.4,14.4l-14.4,-14.4z" fill="#000"/>
<text x="432.0" y="1484.6" font-size="30.6">Healthy</text>
<rect x="398" y="1513" width="21.6" height="21.2" fill="#fff" stroke="#000" stroke-width="4"/>
<text x="432.4" y="1536.6" font-size="30.6">Tumor</text>
<line x1="132.6" y1="1689.6" x2="132.6" y2="2107.6" stroke="#000" stroke-width="3.3"/>
<line x1="115.5" y1="2106.0" x2="548.1" y2="2106.0" stroke="#000" stroke-width="3.3"/>
<line x1="115.5" y1="1691.2" x2="132.6" y2="1691.2" stroke="#000" stroke-width="3.2"/>
<line x1="115.5" y1="1830.2" x2="132.6" y2="1830.2" stroke="#000" stroke-width="3.2"/>
<line x1="115.5" y1="1967.7" x2="132.6" y2="1967.7" stroke="#000" stroke-width="3.2"/>
<line x1="228.4" y1="2106.0" x2="228.4" y2="2123.8" stroke="#000" stroke-width="3.2"/>
<line x1="449.6" y1="2106.0" x2="449.6" y2="2123.8" stroke="#000" stroke-width="3.2"/>
<text x="102.0" y="1705.2" font-size="31.5" text-anchor="end">30</text>
<text x="102.0" y="1843.5" font-size="31.5" text-anchor="end">20</text>
<text x="102.0" y="1980.6" font-size="31.5" text-anchor="end">10</text>
<text x="102.0" y="2118.0" font-size="31.5" text-anchor="end">0</text>
<text x="223.5" y="2165.5" font-size="30.7" text-anchor="middle">MPO</text>
<text x="449.8" y="2165.5" font-size="30.7" text-anchor="middle">EPX</text>
<text x="231.4" y="1706.4" font-size="30.5" text-anchor="middle">0.008</text>
<text x="450.0" y="1706.4" font-size="30.5" text-anchor="middle">0.044</text>
<path d="M186.7,1764.7V1724.2H270.8V1749.5" fill="none" stroke="#000" stroke-width="3.0"/>
<path d="M408.0,1789.3V1724.2H491.7V1783.6" fill="none" stroke="#000" stroke-width="3.0"/>
<path d="M186.1,1782.7l4.6,4.6l-4.6,4.6l-4.6,-4.6zM186.7,1787.6l4.6,4.6l-4.6,4.6l-4.6,-4.6zM186.6,1792.8l4.6,4.6l-4.6,4.6l-4.6,-4.6zM187.3,1799.9l4.6,4.6l-4.6,4.6l-4.6,-4.6zM189.5,1804.3l4.6,4.6l-4.6,4.6l-4.6,-4.6zM193.6,1805.2l4.6,4.6l-4.6,4.6l-4.6,-4.6zM184.5,1803.6l4.6,4.6l-4.6,4.6l-4.6,-4.6zM180.3,1804.9l4.6,4.6l-4.6,4.6l-4.6,-4.6zM193.7,1810.5l4.6,4.6l-4.6,4.6l-4.6,-4.6zM189.4,1810.1l4.6,4.6l-4.6,4.6l-4.6,-4.6zM180.5,1808.3l4.6,4.6l-4.6,4.6l-4.6,-4.6zM184.1,1808.6l4.6,4.6l-4.6,4.6l-4.6,-4.6zM177.4,1814.2l4.6,4.6l-4.6,4.6l-4.6,-4.6zM199.7,1814.4l4.6,4.6l-4.6,4.6l-4.6,-4.6zM186.3,1813.0l4.6,4.6l-4.6,4.6l-4.6,-4.6zM172.2,1813.2l4.6,4.6l-4.6,4.6l-4.6,-4.6zM191.1,1813.2l4.6,4.6l-4.6,4.6l-4.6,-4.6zM168.2,1813.2l4.6,4.6l-4.6,4.6l-4.6,-4.6zM205.5,1815.5l4.6,4.6l-4.6,4.6l-4.6,-4.6zM181.8,1812.9l4.6,4.6l-4.6,4.6l-4.6,-4.6zM196.6,1813.0l4.6,4.6l-4.6,4.6l-4.6,-4.6zM194.2,1820.0l4.6,4.6l-4.6,4.6l-4.6,-4.6zM175.1,1818.9l4.6,4.6l-4.6,4.6l-4.6,-4.6zM185.0,1818.5l4.6,4.6l-4.6,4.6l-4.6,-4.6zM179.4,1817.4l4.6,4.6l-4.6,4.6l-4.6,-4.6zM188.5,1817.7l4.6,4.6l-4.6,4.6l-4.6,-4.6zM198.9,1818.3l4.6,4.6l-4.6,4.6l-4.6,-4.6zM203.6,1823.5l4.6,4.6l-4.6,4.6l-4.6,-4.6zM188.7,1823.9l4.6,4.6l-4.6,4.6l-4.6,-4.6zM162.9,1824.1l4.6,4.6l-4.6,4.6l-4.6,-4.6zM177.1,1822.1l4.6,4.6l-4.6,4.6l-4.6,-4.6zM195.5,1824.4l4.6,4.6l-4.6,4.6l-4.6,-4.6zM169.8,1822.9l4.6,4.6l-4.6,4.6l-4.6,-4.6zM209.9,1822.2l4.6,4.6l-4.6,4.6l-4.6,-4.6zM207.3,1823.7l4.6,4.6l-4.6,4.6l-4.6,-4.6zM191.5,1823.3l4.6,4.6l-4.6,4.6l-4.6,-4.6zM185.5,1824.6l4.6,4.6l-4.6,4.6l-4.6,-4.6zM166.7,1822.5l4.6,4.6l-4.6,4.6l-4.6,-4.6zM174.5,1823.2l4.6,4.6l-4.6,4.6l-4.6,-4.6zM199.0,1824.6l4.6,4.6l-4.6,4.6l-4.6,-4.6zM181.0,1823.1l4.6,4.6l-4.6,4.6l-4.6,-4.6zM182.8,1828.3l4.6,4.6l-4.6,4.6l-4.6,-4.6zM200.3,1828.4l4.6,4.6l-4.6,4.6l-4.6,-4.6zM190.6,1829.6l4.6,4.6l-4.6,4.6l-4.6,-4.6zM172.6,1826.6l4.6,4.6l-4.6,4.6l-4.6,-4.6zM186.9,1829.5l4.6,4.6l-4.6,4.6l-4.6,-4.6zM195.3,1829.5l4.6,4.6l-4.6,4.6l-4.6,-4.6zM177.1,1828.2l4.6,4.6l-4.6,4.6l-4.6,-4.6zM186.6,1833.0l4.6,4.6l-4.6,4.6l-4.6,-4.6zM195.8,1831.3l4.6,4.6l-4.6,4.6l-4.6,-4.6zM182.6,1833.9l4.6,4.6l-4.6,4.6l-4.6,-4.6zM177.5,1834.0l4.6,4.6l-4.6,4.6l-4.6,-4.6zM168.0,1831.7l4.6,4.6l-4.6,4.6l-4.6,-4.6zM200.6,1833.9l4.6,4.6l-4.6,4.6l-4.6,-4.6zM205.8,1831.2l4.6,4.6l-4.6,4.6l-4.6,-4.6zM191.2,1831.6l4.6,4.6l-4.6,4.6l-4.6,-4.6zM173.7,1831.6l4.6,4.6l-4.6,4.6l-4.6,-4.6zM188.9,1837.4l4.6,4.6l-4.6,4.6l-4.6,-4.6zM194.4,1838.7l4.6,4.6l-4.6,4.6l-4.6,-4.6zM184.6,1836.0l4.6,4.6l-4.6,4.6l-4.6,-4.6zM180.4,1835.8l4.6,4.6l-4.6,4.6l-4.6,-4.6zM193.1,1842.7l4.6,4.6l-4.6,4.6l-4.6,-4.6zM184.7,1840.8l4.6,4.6l-4.6,4.6l-4.6,-4.6zM189.7,1843.5l4.6,4.6l-4.6,4.6l-4.6,-4.6zM180.1,1843.4l4.6,4.6l-4.6,4.6l-4.6,-4.6zM184.4,1847.5l4.6,4.6l-4.6,4.6l-4.6,-4.6zM189.7,1847.1l4.6,4.6l-4.6,4.6l-4.6,-4.6zM186.0,1850.7l4.6,4.6l-4.6,4.6l-4.6,-4.6z" fill="#000"/>
<line x1="159.2" y1="1827.6" x2="214.2" y2="1827.6" stroke="#c9313b" stroke-width="4.4"/>
<path d="M267.0,1767.0h8.2v8.2h-8.2zM266.2,1771.9h8.2v8.2h-8.2zM266.1,1776.5h8.2v8.2h-8.2zM266.1,1781.9h8.2v8.2h-8.2zM266.2,1787.2h8.2v8.2h-8.2zM269.2,1790.5h8.2v8.2h-8.2zM263.1,1791.2h8.2v8.2h-8.2zM260.7,1794.0h8.2v8.2h-8.2zM266.7,1796.1h8.2v8.2h-8.2zM273.1,1794.2h8.2v8.2h-8.2zM263.4,1800.8h8.2v8.2h-8.2zM269.9,1799.7h8.2v8.2h-8.2zM263.8,1805.1h8.2v8.2h-8.2zM270.1,1803.9h8.2v8.2h-8.2zM257.4,1804.0h8.2v8.2h-8.2zM276.6,1803.9h8.2v8.2h-8.2zM272.6,1808.9h8.2v8.2h-8.2zM267.1,1808.8h8.2v8.2h-8.2zM248.7,1810.4h8.2v8.2h-8.2zM279.2,1807.3h8.2v8.2h-8.2zM284.7,1809.4h8.2v8.2h-8.2zM253.7,1810.1h8.2v8.2h-8.2zM259.8,1807.4h8.2v8.2h-8.2zM250.6,1812.9h8.2v8.2h-8.2zM275.8,1814.2h8.2v8.2h-8.2zM282.7,1814.0h8.2v8.2h-8.2zM256.9,1813.3h8.2v8.2h-8.2zM270.5,1812.4h8.2v8.2h-8.2zM263.4,1813.8h8.2v8.2h-8.2zM275.4,1819.3h8.2v8.2h-8.2zM270.6,1819.2h8.2v8.2h-8.2zM263.5,1817.7h8.2v8.2h-8.2zM257.5,1817.9h8.2v8.2h-8.2zM272.5,1823.2h8.2v8.2h-8.2zM254.8,1821.9h8.2v8.2h-8.2zM267.3,1822.0h8.2v8.2h-8.2zM279.8,1822.9h8.2v8.2h-8.2zM261.3,1823.8h8.2v8.2h-8.2zM260.1,1826.7h8.2v8.2h-8.2zM266.3,1828.5h8.2v8.2h-8.2zM272.3,1826.2h8.2v8.2h-8.2zM256.7,1832.0h8.2v8.2h-8.2zM245.2,1831.5h8.2v8.2h-8.2zM264.1,1831.9h8.2v8.2h-8.2zM288.7,1830.5h8.2v8.2h-8.2zM275.7,1830.3h8.2v8.2h-8.2zM250.7,1832.9h8.2v8.2h-8.2zM269.2,1832.1h8.2v8.2h-8.2zM282.0,1832.4h8.2v8.2h-8.2zM279.9,1837.2h8.2v8.2h-8.2zM260.1,1835.9h8.2v8.2h-8.2zM266.7,1837.5h8.2v8.2h-8.2zM253.7,1837.7h8.2v8.2h-8.2zM273.2,1836.7h8.2v8.2h-8.2zM248.0,1836.0h8.2v8.2h-8.2zM285.1,1837.1h8.2v8.2h-8.2zM263.0,1842.0h8.2v8.2h-8.2zM269.9,1842.4h8.2v8.2h-8.2zM260.0,1846.6h8.2v8.2h-8.2zM272.7,1844.7h8.2v8.2h-8.2zM265.9,1845.4h8.2v8.2h-8.2zM266.1,1850.4h8.2v8.2h-8.2zM260.0,1851.5h8.2v8.2h-8.2zM273.3,1850.1h8.2v8.2h-8.2zM273.0,1853.8h8.2v8.2h-8.2zM266.9,1854.6h8.2v8.2h-8.2zM260.8,1855.6h8.2v8.2h-8.2zM272.2,1858.9h8.2v8.2h-8.2zM260.6,1858.5h8.2v8.2h-8.2zM266.5,1859.6h8.2v8.2h-8.2zM263.0,1864.7h8.2v8.2h-8.2zM269.2,1863.3h8.2v8.2h-8.2zM269.2,1868.8h8.2v8.2h-8.2zM263.7,1868.3h8.2v8.2h-8.2zM266.9,1879.0h8.2v8.2h-8.2zM266.4,1881.0h8.2v8.2h-8.2zM266.2,1888.2h8.2v8.2h-8.2zM266.9,1892.4h8.2v8.2h-8.2z" fill="none" stroke="#000" stroke-width="1.1"/>
<line x1="243.3" y1="1836.7" x2="298.3" y2="1836.7" stroke="#c9313b" stroke-width="4.4"/>
<path d="M407.8,1806.1l4.6,4.6l-4.6,4.6l-4.6,-4.6zM408.3,1811.5l4.6,4.6l-4.6,4.6l-4.6,-4.6zM408.7,1814.8l4.6,4.6l-4.6,4.6l-4.6,-4.6zM401.8,1825.0l4.6,4.6l-4.6,4.6l-4.6,-4.6zM414.7,1825.9l4.6,4.6l-4.6,4.6l-4.6,-4.6zM408.0,1823.7l4.6,4.6l-4.6,4.6l-4.6,-4.6zM410.7,1830.4l4.6,4.6l-4.6,4.6l-4.6,-4.6zM405.2,1831.0l4.6,4.6l-4.6,4.6l-4.6,-4.6zM398.6,1828.3l4.6,4.6l-4.6,4.6l-4.6,-4.6zM417.8,1828.9l4.6,4.6l-4.6,4.6l-4.6,-4.6zM398.6,1832.8l4.6,4.6l-4.6,4.6l-4.6,-4.6zM410.7,1835.1l4.6,4.6l-4.6,4.6l-4.6,-4.6zM404.8,1835.5l4.6,4.6l-4.6,4.6l-4.6,-4.6zM417.8,1834.4l4.6,4.6l-4.6,4.6l-4.6,-4.6zM393.1,1839.7l4.6,4.6l-4.6,4.6l-4.6,-4.6zM397.9,1838.7l4.6,4.6l-4.6,4.6l-4.6,-4.6zM405.8,1840.0l4.6,4.6l-4.6,4.6l-4.6,-4.6zM423.4,1837.3l4.6,4.6l-4.6,4.6l-4.6,-4.6zM388.6,1840.3l4.6,4.6l-4.6,4.6l-4.6,-4.6zM430.7,1837.3l4.6,4.6l-4.6,4.6l-4.6,-4.6zM427.6,1840.2l4.6,4.6l-4.6,4.6l-4.6,-4.6zM414.2,1837.6l4.6,4.6l-4.6,4.6l-4.6,-4.6zM409.5,1839.9l4.6,4.6l-4.6,4.6l-4.6,-4.6zM401.7,1837.5l4.6,4.6l-4.6,4.6l-4.6,-4.6zM384.3,1839.7l4.6,4.6l-4.6,4.6l-4.6,-4.6zM418.0,1838.2l4.6,4.6l-4.6,4.6l-4.6,-4.6zM407.5,1842.6l4.6,4.6l-4.6,4.6l-4.6,-4.6zM398.0,1848.6l4.6,4.6l-4.6,4.6l-4.6,-4.6zM392.8,1846.9l4.6,4.6l-4.6,4.6l-4.6,-4.6zM423.4,1849.2l4.6,4.6l-4.6,4.6l-4.6,-4.6zM416.9,1848.2l4.6,4.6l-4.6,4.6l-4.6,-4.6zM410.9,1848.3l4.6,4.6l-4.6,4.6l-4.6,-4.6zM404.7,1847.6l4.6,4.6l-4.6,4.6l-4.6,-4.6zM386.6,1853.2l4.6,4.6l-4.6,4.6l-4.6,-4.6zM417.2,1852.5l4.6,4.6l-4.6,4.6l-4.6,-4.6zM411.9,1853.6l4.6,4.6l-4.6,4.6l-4.6,-4.6zM423.5,1851.6l4.6,4.6l-4.6,4.6l-4.6,-4.6zM404.7,1851.7l4.6,4.6l-4.6,4.6l-4.6,-4.6zM391.8,1853.7l4.6,4.6l-4.6,4.6l-4.6,-4.6zM398.3,1851.8l4.6,4.6l-4.6,4.6l-4.6,-4.6zM429.5,1851.5l4.6,4.6l-4.6,4.6l-4.6,-4.6zM414.6,1857.4l4.6,4.6l-4.6,4.6l-4.6,-4.6zM407.7,1858.9l4.6,4.6l-4.6,4.6l-4.6,-4.6zM402.2,1857.9l4.6,4.6l-4.6,4.6l-4.6,-4.6zM420.9,1857.9l4.6,4.6l-4.6,4.6l-4.6,-4.6zM395.4,1858.8l4.6,4.6l-4.6,4.6l-4.6,-4.6zM398.9,1861.3l4.6,4.6l-4.6,4.6l-4.6,-4.6zM404.7,1861.0l4.6,4.6l-4.6,4.6l-4.6,-4.6zM410.9,1862.3l4.6,4.6l-4.6,4.6l-4.6,-4.6zM417.2,1860.7l4.6,4.6l-4.6,4.6l-4.6,-4.6zM389.1,1867.1l4.6,4.6l-4.6,4.6l-4.6,-4.6zM395.4,1864.9l4.6,4.6l-4.6,4.6l-4.6,-4.6zM413.6,1866.3l4.6,4.6l-4.6,4.6l-4.6,-4.6zM420.4,1866.9l4.6,4.6l-4.6,4.6l-4.6,-4.6zM401.5,1867.9l4.6,4.6l-4.6,4.6l-4.6,-4.6zM426.9,1866.4l4.6,4.6l-4.6,4.6l-4.6,-4.6zM408.4,1866.5l4.6,4.6l-4.6,4.6l-4.6,-4.6zM402.2,1870.5l4.6,4.6l-4.6,4.6l-4.6,-4.6zM420.0,1870.9l4.6,4.6l-4.6,4.6l-4.6,-4.6zM408.8,1871.9l4.6,4.6l-4.6,4.6l-4.6,-4.6zM395.5,1870.2l4.6,4.6l-4.6,4.6l-4.6,-4.6zM414.7,1871.7l4.6,4.6l-4.6,4.6l-4.6,-4.6zM396.1,1876.6l4.6,4.6l-4.6,4.6l-4.6,-4.6zM401.0,1876.0l4.6,4.6l-4.6,4.6l-4.6,-4.6zM414.8,1876.1l4.6,4.6l-4.6,4.6l-4.6,-4.6zM420.6,1875.5l4.6,4.6l-4.6,4.6l-4.6,-4.6zM408.5,1875.8l4.6,4.6l-4.6,4.6l-4.6,-4.6zM404.6,1881.2l4.6,4.6l-4.6,4.6l-4.6,-4.6zM411.3,1881.6l4.6,4.6l-4.6,4.6l-4.6,-4.6zM407.3,1889.4l4.6,4.6l-4.6,4.6l-4.6,-4.6zM407.2,1893.1l4.6,4.6l-4.6,4.6l-4.6,-4.6zM407.9,1903.2l4.6,4.6l-4.6,4.6l-4.6,-4.6zM408.5,1907.8l4.6,4.6l-4.6,4.6l-4.6,-4.6zM408.5,1912.3l4.6,4.6l-4.6,4.6l-4.6,-4.6z" fill="#000"/>
<line x1="380.5" y1="1860.5" x2="435.5" y2="1860.5" stroke="#c9313b" stroke-width="4.4"/>
<path d="M487.0,1802.6h8.2v8.2h-8.2zM487.1,1811.9h8.2v8.2h-8.2zM486.9,1814.6h8.2v8.2h-8.2zM487.6,1818.4h8.2v8.2h-8.2zM481.1,1821.4h8.2v8.2h-8.2zM494.4,1820.0h8.2v8.2h-8.2zM487.1,1823.2h8.2v8.2h-8.2zM490.6,1830.5h8.2v8.2h-8.2zM484.4,1829.0h8.2v8.2h-8.2zM493.2,1832.5h8.2v8.2h-8.2zM475.3,1832.9h8.2v8.2h-8.2zM499.9,1832.7h8.2v8.2h-8.2zM488.0,1834.5h8.2v8.2h-8.2zM481.7,1832.5h8.2v8.2h-8.2zM490.1,1838.7h8.2v8.2h-8.2zM483.9,1837.6h8.2v8.2h-8.2zM490.9,1843.9h8.2v8.2h-8.2zM484.5,1842.2h8.2v8.2h-8.2zM477.6,1843.6h8.2v8.2h-8.2zM497.2,1843.3h8.2v8.2h-8.2zM494.3,1847.3h8.2v8.2h-8.2zM504.7,1847.5h8.2v8.2h-8.2zM487.6,1847.1h8.2v8.2h-8.2zM464.6,1846.7h8.2v8.2h-8.2zM500.1,1846.6h8.2v8.2h-8.2zM475.5,1848.6h8.2v8.2h-8.2zM481.3,1848.2h8.2v8.2h-8.2zM469.6,1847.2h8.2v8.2h-8.2zM511.1,1846.7h8.2v8.2h-8.2zM489.9,1851.9h8.2v8.2h-8.2zM478.7,1852.3h8.2v8.2h-8.2zM472.8,1853.7h8.2v8.2h-8.2zM497.2,1851.3h8.2v8.2h-8.2zM484.3,1850.7h8.2v8.2h-8.2zM502.9,1852.9h8.2v8.2h-8.2zM475.8,1857.2h8.2v8.2h-8.2zM493.2,1856.5h8.2v8.2h-8.2zM499.6,1857.7h8.2v8.2h-8.2zM481.3,1856.5h8.2v8.2h-8.2zM488.2,1856.1h8.2v8.2h-8.2zM487.8,1860.8h8.2v8.2h-8.2zM500.2,1861.0h8.2v8.2h-8.2zM481.9,1861.5h8.2v8.2h-8.2zM475.6,1861.5h8.2v8.2h-8.2zM494.1,1860.9h8.2v8.2h-8.2zM474.9,1864.3h8.2v8.2h-8.2zM494.2,1866.0h8.2v8.2h-8.2zM500.0,1866.6h8.2v8.2h-8.2zM486.9,1864.7h8.2v8.2h-8.2zM481.7,1864.4h8.2v8.2h-8.2zM482.1,1871.6h8.2v8.2h-8.2zM493.7,1870.0h8.2v8.2h-8.2zM487.5,1871.4h8.2v8.2h-8.2zM500.0,1875.9h8.2v8.2h-8.2zM481.4,1875.4h8.2v8.2h-8.2zM487.5,1876.5h8.2v8.2h-8.2zM476.0,1875.3h8.2v8.2h-8.2zM493.9,1873.8h8.2v8.2h-8.2zM491.0,1880.9h8.2v8.2h-8.2zM496.5,1879.8h8.2v8.2h-8.2zM478.7,1878.2h8.2v8.2h-8.2zM484.1,1880.0h8.2v8.2h-8.2zM490.6,1883.3h8.2v8.2h-8.2zM472.6,1883.8h8.2v8.2h-8.2zM496.2,1883.6h8.2v8.2h-8.2zM478.7,1884.9h8.2v8.2h-8.2zM502.6,1884.1h8.2v8.2h-8.2zM484.1,1883.7h8.2v8.2h-8.2zM490.1,1890.4h8.2v8.2h-8.2zM484.6,1890.3h8.2v8.2h-8.2zM480.9,1894.2h8.2v8.2h-8.2zM487.8,1893.1h8.2v8.2h-8.2zM494.1,1894.3h8.2v8.2h-8.2zM478.2,1899.5h8.2v8.2h-8.2zM497.7,1897.6h8.2v8.2h-8.2zM490.2,1897.3h8.2v8.2h-8.2zM484.5,1897.0h8.2v8.2h-8.2zM496.8,1901.8h8.2v8.2h-8.2zM491.5,1902.4h8.2v8.2h-8.2zM478.1,1902.6h8.2v8.2h-8.2zM483.9,1901.4h8.2v8.2h-8.2zM487.3,1912.7h8.2v8.2h-8.2zM488.3,1916.3h8.2v8.2h-8.2zM487.4,1920.2h8.2v8.2h-8.2zM486.9,1949.7h8.2v8.2h-8.2z" fill="none" stroke="#000" stroke-width="1.1"/>
<line x1="464.2" y1="1868.9" x2="519.2" y2="1868.9" stroke="#c9313b" stroke-width="4.4"/>
<path d="M402.8,2003.4l14.4,14.4l-14.4,14.4l-14.4,-14.4z" fill="#000"/>
<text x="428.0" y="2027.4" font-size="30.6">Healthy</text>
<rect x="394" y="2054.8" width="21.4" height="22" fill="#fff" stroke="#000" stroke-width="4"/>
<text x="428.4" y="2079.2" font-size="30.6">Tumor</text>
<text x="766.8" y="1116.8" font-size="88">D</text>
<rect x="1892.9" y="1100.6" width="82.4" height="25.2" fill="#d5d5d5"/>
<rect x="1892.9" y="1138.6" width="12.9" height="25.2" fill="#d5d5d5"/>
<rect x="1512.6" y="1100.6" width="328.0" height="25.2" fill="#d5d5d5"/>
<line x1="1497.4" y1="1113.2" x2="1511.4" y2="1113.2" stroke="#000" stroke-width="2.7"/>
<text x="1487.3" y="1116.8" font-size="28.5" text-anchor="end">Regulation of dopamine biosynthetic process</text>
<text x="1897.4" y="1119.0" font-size="25.7" font-style="italic">5.1x10<tspan font-size="14.8" dy="-8.8">-3</tspan></text>
<rect x="1512.6" y="1138.6" width="328.0" height="25.2" fill="#d5d5d5"/>
<line x1="1497.4" y1="1151.2" x2="1511.4" y2="1151.2" stroke="#000" stroke-width="2.7"/>
<text x="1487.3" y="1154.8" font-size="28.5" text-anchor="end">Telomerase holoenzyme complex assembly</text>
<text x="1897.4" y="1156.4" font-size="25.7" font-style="italic">8.1x10<tspan font-size="14.8" dy="-8.8">-3</tspan></text>
<rect x="1512.6" y="1176.3" width="297.4" height="25.2" fill="#d5d5d5"/>
<line x1="1497.4" y1="1188.9" x2="1511.4" y2="1188.9" stroke="#000" stroke-width="2.7"/>
<text x="1487.3" y="1195.4" font-size="28.5" text-anchor="end">Plasminogen activation</text>
<text x="1897.4" y="1194.4" font-size="25.7" font-style="italic">4.1x10<tspan font-size="14.8" dy="-8.8">-3</tspan></text>
<rect x="1512.6" y="1214.3" width="234.2" height="25.2" fill="#f757fb"/>
<line x1="1497.4" y1="1226.9" x2="1511.4" y2="1226.9" stroke="#000" stroke-width="2.7"/>
<text x="1489.0" y="1234.5" font-size="28.5" text-anchor="end" font-weight="bold">Methylglyoxal metabolic process</text>
<text x="1897.4" y="1231.6" font-size="25.7" font-style="italic">2.2x10<tspan font-size="14.8" dy="-8.8">-2</tspan></text>
<rect x="1512.6" y="1252.3" width="229.3" height="25.2" fill="#d5d5d5"/>
<line x1="1497.4" y1="1264.9" x2="1511.4" y2="1264.9" stroke="#000" stroke-width="2.7"/>
<text x="1487.3" y="1272.0" font-size="28.5" text-anchor="end">Fibrinolysis</text>
<text x="1897.4" y="1269.4" font-size="25.7" font-style="italic">3.5x10<tspan font-size="14.8" dy="-8.8">-6</tspan></text>
<rect x="1512.6" y="1289.8" width="209.4" height="25.2" fill="#d5d5d5"/>
<line x1="1497.4" y1="1302.4" x2="1511.4" y2="1302.4" stroke="#000" stroke-width="2.7"/>
<text x="1487.3" y="1310.0" font-size="28.5" text-anchor="end">Positive regulation of protein localization to telomere</text>
<text x="1897.4" y="1307.4" font-size="25.7" font-style="italic">4.3x10<tspan font-size="14.8" dy="-8.8">-3</tspan></text>
<rect x="1512.6" y="1327.8" width="204.6" height="25.2" fill="#d5d5d5"/>
<line x1="1497.4" y1="1340.4" x2="1511.4" y2="1340.4" stroke="#000" stroke-width="2.7"/>
<text x="1487.3" y="1348.0" font-size="29.13" text-anchor="end">Regulation of T cell immune response to tumor cell</text>
<text x="1897.4" y="1345.3" font-size="25.7" font-style="italic">2.8x10<tspan font-size="14.8" dy="-8.8">-2</tspan></text>
<rect x="1512.6" y="1365.9" width="204.6" height="25.2" fill="#d5d5d5"/>
<line x1="1497.4" y1="1378.5" x2="1511.4" y2="1378.5" stroke="#000" stroke-width="2.7"/>
<text x="1487.3" y="1385.8" font-size="28.5" text-anchor="end">Oxaloacetate metabolic process</text>
<text x="1897.4" y="1382.6" font-size="25.7" font-style="italic">2.8x10<tspan font-size="14.8" dy="-8.8">-2</tspan></text>
<rect x="1512.6" y="1403.3" width="204.6" height="25.2" fill="#d5d5d5"/>
<line x1="1497.4" y1="1415.9" x2="1511.4" y2="1415.9" stroke="#000" stroke-width="2.7"/>
<text x="1487.3" y="1423.3" font-size="28.5" text-anchor="end">Positive regulation by host of viral genome replication</text>
<text x="1897.4" y="1420.6" font-size="25.7" font-style="italic">2.8x10<tspan font-size="14.8" dy="-8.8">-2</tspan></text>
<rect x="1512.6" y="1441.3" width="204.6" height="25.2" fill="#d5d5d5"/>
<line x1="1497.4" y1="1453.9" x2="1511.4" y2="1453.9" stroke="#000" stroke-width="2.7"/>
<text x="1487.3" y="1461.8" font-size="28.5" text-anchor="end">Chaperone-mediated autophagy</text>
<text x="1897.4" y="1461.3" font-size="25.7" font-style="italic">2.8x10<tspan font-size="14.8" dy="-8.8">-2</tspan></text>
<rect x="1512.6" y="1478.8" width="204.6" height="25.2" fill="#d5d5d5"/>
<line x1="1497.4" y1="1491.4" x2="1511.4" y2="1491.4" stroke="#000" stroke-width="2.7"/>
<text x="1487.3" y="1498.5" font-size="28.5" text-anchor="end">Regulation of complement-dependent cytotoxicity</text>
<text x="1897.4" y="1499.0" font-size="25.7" font-style="italic">2.8x10<tspan font-size="14.8" dy="-8.8">-2</tspan></text>
<rect x="1512.6" y="1516.9" width="198.1" height="25.2" fill="#d5d5d5"/>
<line x1="1497.4" y1="1529.5" x2="1511.4" y2="1529.5" stroke="#000" stroke-width="2.7"/>
<text x="1487.3" y="1537.5" font-size="28.5" text-anchor="end">Positive regulation of protein localization to Cajal body</text>
<text x="1897.4" y="1537.0" font-size="25.7" font-style="italic">5.5x10<tspan font-size="14.8" dy="-8.8">-3</tspan></text>
<rect x="1512.6" y="1554.8" width="181.2" height="25.2" fill="#d5d5d5"/>
<line x1="1497.4" y1="1567.4" x2="1511.4" y2="1567.4" stroke="#000" stroke-width="2.7"/>
<text x="1487.3" y="1575.3" font-size="28.5" text-anchor="end">Blood coagulation, fibrin clot formation</text>
<text x="1897.4" y="1575.0" font-size="25.7" font-style="italic">1.2x10<tspan font-size="14.8" dy="-8.8">-5</tspan></text>
<rect x="1512.6" y="1592.6" width="170.2" height="25.2" fill="#7bfbc4"/>
<line x1="1497.4" y1="1605.2" x2="1511.4" y2="1605.2" stroke="#000" stroke-width="2.7"/>
<text x="1490.0" y="1613.5" font-size="28.5" text-anchor="end" font-weight="bold">Canonical glycolysis</text>
<text x="1897.4" y="1612.6" font-size="25.7" font-style="italic">1.6x10<tspan font-size="14.8" dy="-8.8">-3</tspan></text>
<rect x="1512.6" y="1630.3" width="167.3" height="25.2" fill="#7bfbc4"/>
<line x1="1497.4" y1="1642.9" x2="1511.4" y2="1642.9" stroke="#000" stroke-width="2.7"/>
<text x="1491.5" y="1651.0" font-size="28.5" text-anchor="end" font-weight="bold">Pentose-phosphate shunt</text>
<text x="1897.4" y="1650.6" font-size="25.7" font-style="italic">8.5x10<tspan font-size="14.8" dy="-8.8">-3</tspan></text>
<rect x="1512.6" y="1668.2" width="164.0" height="25.2" fill="#d5d5d5"/>
<line x1="1497.4" y1="1680.8" x2="1511.4" y2="1680.8" stroke="#000" stroke-width="2.7"/>
<text x="1487.3" y="1688.6" font-size="28.5" text-anchor="end">Platelet aggregation</text>
<text x="1897.4" y="1688.6" font-size="25.7" font-style="italic">1.9x10<tspan font-size="14.8" dy="-8.8">-8</tspan></text>
<rect x="1512.6" y="1705.9" width="163.4" height="25.2" fill="#d5d5d5"/>
<line x1="1497.4" y1="1718.5" x2="1511.4" y2="1718.5" stroke="#000" stroke-width="2.7"/>
<text x="1487.3" y="1726.7" font-size="28.5" text-anchor="end">Integrin activation</text>
<text x="1897.4" y="1726.2" font-size="25.7" font-style="italic">4.3x10<tspan font-size="14.8" dy="-8.8">-2</tspan></text>
<rect x="1512.6" y="1743.6" width="163.4" height="25.2" fill="#d5d5d5"/>
<line x1="1497.4" y1="1756.2" x2="1511.4" y2="1756.2" stroke="#000" stroke-width="2.7"/>
<text x="1487.3" y="1764.7" font-size="28.5" text-anchor="end">Mitochondrial fragmentation in apoptotic process</text>
<text x="1897.4" y="1763.6" font-size="25.7" font-style="italic">4.3x10<tspan font-size="14.8" dy="-8.8">-2</tspan></text>
<rect x="1512.6" y="1781.6" width="142.3" height="25.2" fill="#d5d5d5"/>
<line x1="1497.4" y1="1794.2" x2="1511.4" y2="1794.2" stroke="#000" stroke-width="2.7"/>
<text x="1487.3" y="1801.5" font-size="28.5" text-anchor="end">Fibroblast migration</text>
<text x="1897.4" y="1797.0" font-size="25.7" font-style="italic">2.9x10<tspan font-size="14.8" dy="-8.8">-3</tspan></text>
<rect x="1512.6" y="1820.0" width="144.9" height="25.2" fill="#d5d5d5"/>
<line x1="1497.4" y1="1832.6" x2="1511.4" y2="1832.6" stroke="#000" stroke-width="2.7"/>
<text x="1487.3" y="1840.2" font-size="28.5" text-anchor="end">Positive regulation of heterotypic cell-cell adhesion</text>
<text x="1897.4" y="1834.3" font-size="25.7" font-style="italic">1.3x10<tspan font-size="14.8" dy="-8.8">-2</tspan></text>
<rect x="1512.6" y="1857.4" width="144.9" height="25.2" fill="#d5d5d5"/>
<line x1="1497.4" y1="1870.0" x2="1511.4" y2="1870.0" stroke="#000" stroke-width="2.7"/>
<text x="1487.3" y="1877.5" font-size="28.5" text-anchor="end">Aldehyde catabolic process</text>
<text x="1897.4" y="1871.6" font-size="25.7" font-style="italic">1.3x10<tspan font-size="14.8" dy="-8.8">-2</tspan></text>
<rect x="1512.6" y="1895.3" width="135.8" height="25.2" fill="#d5d5d5"/>
<line x1="1497.4" y1="1907.9" x2="1511.4" y2="1907.9" stroke="#000" stroke-width="2.7"/>
<text x="1487.3" y="1914.9" font-size="28.5" text-anchor="end">Complement activation, alternative pathway</text>
<text x="1897.4" y="1909.0" font-size="25.7" font-style="italic">1.5x10<tspan font-size="14.8" dy="-8.8">-2</tspan></text>
<rect x="1512.6" y="1932.9" width="129.9" height="25.2" fill="#7bfbc4"/>
<line x1="1497.4" y1="1945.5" x2="1511.4" y2="1945.5" stroke="#000" stroke-width="2.7"/>
<text x="1492.5" y="1952.8" font-size="28.5" text-anchor="end" font-weight="bold">Glycolytic process</text>
<text x="1897.4" y="1952.1" font-size="25.7" font-style="italic">1.3x10<tspan font-size="14.8" dy="-8.8">-6</tspan></text>
<rect x="1512.6" y="1971.1" width="127.7" height="25.2" fill="#7bfbc4"/>
<line x1="1497.4" y1="1983.7" x2="1511.4" y2="1983.7" stroke="#000" stroke-width="2.7"/>
<text x="1491.0" y="1990.5" font-size="28.5" text-anchor="end" font-weight="bold">NADH metabolic process</text>
<text x="1897.4" y="1989.5" font-size="25.7" font-style="italic">7.0x10<tspan font-size="14.8" dy="-8.8">-5</tspan></text>
<rect x="1512.6" y="2008.9" width="122.4" height="25.2" fill="#7bfbc4"/>
<line x1="1497.4" y1="2021.5" x2="1511.4" y2="2021.5" stroke="#000" stroke-width="2.7"/>
<text x="1491.0" y="2028.5" font-size="28.5" text-anchor="end" font-weight="bold">NAD metabolic process</text>
<text x="1893.5" y="2026.8" font-size="25.7" font-style="italic">3.3x10<tspan font-size="14.8" dy="-8.8">-4</tspan></text>
<line x1="1511.4" y1="1085.3" x2="1511.4" y2="2072.3" stroke="#000" stroke-width="2.7"/>
<line x1="1510.0" y1="2046.4" x2="1841.9" y2="2046.4" stroke="#000" stroke-width="2.7"/>
<line x1="1891.6" y1="2046.4" x2="1976.9" y2="2046.4" stroke="#000" stroke-width="2.7"/>
<line x1="1675.6" y1="2046.4" x2="1675.6" y2="2072.3" stroke="#000" stroke-width="2.7"/>
<line x1="1840.6" y1="2028.5" x2="1840.6" y2="2062.6" stroke="#000" stroke-width="2.7"/>
<line x1="1892.9" y1="2028.5" x2="1892.9" y2="2062.6" stroke="#000" stroke-width="2.7"/>
<line x1="1975.6" y1="2046.4" x2="1975.6" y2="2072.3" stroke="#000" stroke-width="2.7"/>
<text x="1509.4" y="2109.7" font-size="30.5" text-anchor="middle">0</text>
<text x="1672.7" y="2109.7" font-size="30.5" text-anchor="middle">30</text>
<text x="1837.3" y="2109.7" font-size="30.5" text-anchor="middle">60</text>
<text x="1891.0" y="2109.7" font-size="30.5" text-anchor="middle">70</text>
<text x="1972.7" y="2109.7" font-size="30.5" text-anchor="middle">100</text>
<text x="1751.5" y="2161.3" font-size="30.8" text-anchor="middle" style="white-space:pre">Genes  (%)</text>
<text x="745.5" y="1636.0" font-size="30" text-anchor="middle" transform="rotate(-90 745.5 1636.0)">GOBP</text>
</svg>
</body></html>
